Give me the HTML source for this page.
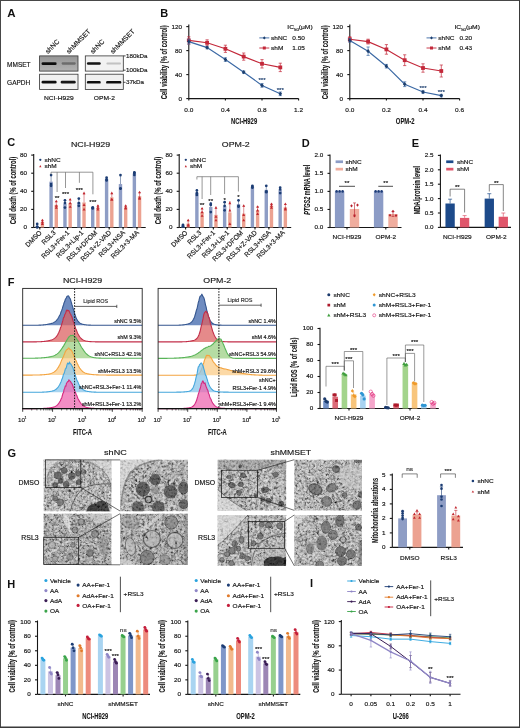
<!DOCTYPE html><html><head><meta charset="utf-8"><title>Figure</title><style>html,body{margin:0;padding:0;background:#fff;width:520px;height:728px;overflow:hidden;}svg{display:block;font-family:"Liberation Sans",sans-serif;will-change:transform;}</style></head><body><svg width="520" height="728" viewBox="0 0 520 728" font-family='"Liberation Sans", sans-serif'><defs><filter id="noise0" x="0" y="0" width="100%" height="100%"><feTurbulence type="fractalNoise" baseFrequency="0.42" numOctaves="3" seed="3"/><feColorMatrix type="matrix" values="1.35 1.35 1.35 0 -1.52 1.35 1.35 1.35 0 -1.52 1.35 1.35 1.35 0 -1.52 0 0 0 0 1"/></filter><filter id="noise1" x="0" y="0" width="100%" height="100%"><feTurbulence type="fractalNoise" baseFrequency="0.38" numOctaves="3" seed="11"/><feColorMatrix type="matrix" values="1.35 1.35 1.35 0 -1.52 1.35 1.35 1.35 0 -1.52 1.35 1.35 1.35 0 -1.52 0 0 0 0 1"/></filter><filter id="noise2" x="0" y="0" width="100%" height="100%"><feTurbulence type="fractalNoise" baseFrequency="0.46" numOctaves="3" seed="27"/><feColorMatrix type="matrix" values="1.35 1.35 1.35 0 -1.52 1.35 1.35 1.35 0 -1.52 1.35 1.35 1.35 0 -1.52 0 0 0 0 1"/></filter><filter id="blur" x="-20%" y="-50%" width="140%" height="200%"><feGaussianBlur stdDeviation="0.45"/></filter></defs><rect x="0.00" y="0.00" width="520.00" height="728.00" fill="#ffffff" stroke="none" stroke-width="0"/>
<text x="7.30" y="17.40" font-size="11.5" text-anchor="start" font-weight="bold" fill="#111">A</text>
<text x="0.00" y="0.00" font-size="6.7" text-anchor="start" font-weight="normal" fill="#161616" stroke="#161616" stroke-width="0.16" transform="translate(48.00,54.00) rotate(-45)">shNC</text>
<text x="0.00" y="0.00" font-size="6.7" text-anchor="start" font-weight="normal" fill="#161616" stroke="#161616" stroke-width="0.16" transform="translate(68.90,54.00) rotate(-45)">shMMSET</text>
<text x="0.00" y="0.00" font-size="6.7" text-anchor="start" font-weight="normal" fill="#161616" stroke="#161616" stroke-width="0.16" transform="translate(93.00,54.00) rotate(-45)">shNC</text>
<text x="0.00" y="0.00" font-size="6.7" text-anchor="start" font-weight="normal" fill="#161616" stroke="#161616" stroke-width="0.16" transform="translate(113.00,54.00) rotate(-45)">shMMSET</text>
<text x="7.10" y="66.60" font-size="6.5" text-anchor="start" font-weight="normal" fill="#161616" stroke="#161616" stroke-width="0.16">MMSET</text>
<text x="7.10" y="84.80" font-size="6.5" text-anchor="start" font-weight="normal" fill="#161616" stroke="#161616" stroke-width="0.16">GAPDH</text>
<linearGradient id="gA" x1="0" y1="0" x2="0" y2="1"><stop offset="0" stop-color="#959595"/><stop offset="1" stop-color="#b2b2b2"/></linearGradient>
<rect x="39.60" y="55.90" width="38.40" height="15.20" fill="url(#gA)" stroke="#333" stroke-width="0.8"/>
<rect x="41.60" y="62.20" width="15.00" height="2.80" fill="#0e0e0e" stroke="none" stroke-width="0" rx="1.2" filter="url(#blur)"/>
<rect x="61.60" y="62.30" width="14.20" height="2.40" fill="#6c6c6c" stroke="none" stroke-width="0" rx="1.1" filter="url(#blur)"/>
<rect x="39.60" y="74.20" width="38.40" height="15.20" fill="#f0f0f0" stroke="#333" stroke-width="0.8"/>
<rect x="41.60" y="80.80" width="15.00" height="2.60" fill="#111" stroke="none" stroke-width="0" rx="1.2" filter="url(#blur)"/>
<rect x="60.70" y="80.80" width="15.00" height="2.60" fill="#141414" stroke="none" stroke-width="0" rx="1.2" filter="url(#blur)"/>
<rect x="85.30" y="55.90" width="38.00" height="15.20" fill="#f2f2f2" stroke="#333" stroke-width="0.8"/>
<rect x="86.90" y="62.20" width="13.80" height="2.60" fill="#151515" stroke="none" stroke-width="0" rx="1.2" filter="url(#blur)"/>
<rect x="106.40" y="62.40" width="14.60" height="2.20" fill="#c2c2c2" stroke="none" stroke-width="0" rx="1" filter="url(#blur)"/>
<rect x="85.30" y="74.20" width="38.00" height="15.20" fill="#f0f0f0" stroke="#333" stroke-width="0.8"/>
<rect x="86.90" y="81.00" width="13.80" height="2.60" fill="#111" stroke="none" stroke-width="0" rx="1.2" filter="url(#blur)"/>
<rect x="106.10" y="81.00" width="15.20" height="2.60" fill="#111" stroke="none" stroke-width="0" rx="1.2" filter="url(#blur)"/>
<line x1="123.30" y1="55.90" x2="125.60" y2="55.90" stroke="#222" stroke-width="0.8"/>
<text x="0.00" y="0.00" font-size="5.8" text-anchor="start" font-weight="normal" fill="#161616" stroke="#161616" stroke-width="0.16" transform="translate(126.00,58.00) scale(1.08,1)">180kDa</text>
<line x1="123.30" y1="70.20" x2="125.60" y2="70.20" stroke="#222" stroke-width="0.8"/>
<text x="0.00" y="0.00" font-size="5.8" text-anchor="start" font-weight="normal" fill="#161616" stroke="#161616" stroke-width="0.16" transform="translate(126.00,72.30) scale(1.08,1)">100kDa</text>
<line x1="123.30" y1="82.30" x2="125.60" y2="82.30" stroke="#222" stroke-width="0.8"/>
<text x="0.00" y="0.00" font-size="5.8" text-anchor="start" font-weight="normal" fill="#161616" stroke="#161616" stroke-width="0.16" transform="translate(126.00,84.40) scale(1.08,1)">37kDa</text>
<text x="0.00" y="0.00" font-size="5.8" text-anchor="middle" font-weight="normal" fill="#161616" stroke="#161616" stroke-width="0.16" transform="translate(58.80,100.40) scale(1.15,1)">NCI-H929</text>
<text x="0.00" y="0.00" font-size="5.8" text-anchor="middle" font-weight="normal" fill="#161616" stroke="#161616" stroke-width="0.16" transform="translate(104.30,100.40) scale(1.15,1)">OPM-2</text>
<text x="160.20" y="17.00" font-size="11.0" text-anchor="start" font-weight="bold" fill="#111">B</text>
<text transform="translate(166.60,62.30) rotate(-90)" font-size="8.6" font-weight="bold" text-anchor="middle" fill="#161616" stroke="#161616" stroke-width="0.1" textLength="74" lengthAdjust="spacingAndGlyphs">Cell viability (% of control)</text>
<line x1="188.80" y1="24.50" x2="188.80" y2="98.60" stroke="#151515" stroke-width="1.1"/>
<line x1="186.30" y1="98.60" x2="188.80" y2="98.60" stroke="#151515" stroke-width="1.1"/>
<text x="0.00" y="0.00" font-size="5.5" text-anchor="end" font-weight="normal" fill="#151515" stroke="#151515" stroke-width="0.16" transform="translate(182.00,100.58) scale(1.15,1)">0</text>
<line x1="186.30" y1="74.60" x2="188.80" y2="74.60" stroke="#151515" stroke-width="1.1"/>
<text x="0.00" y="0.00" font-size="5.5" text-anchor="end" font-weight="normal" fill="#151515" stroke="#151515" stroke-width="0.16" transform="translate(182.00,76.58) scale(1.15,1)">40</text>
<line x1="186.30" y1="50.60" x2="188.80" y2="50.60" stroke="#151515" stroke-width="1.1"/>
<text x="0.00" y="0.00" font-size="5.5" text-anchor="end" font-weight="normal" fill="#151515" stroke="#151515" stroke-width="0.16" transform="translate(182.00,52.58) scale(1.15,1)">80</text>
<line x1="186.30" y1="26.60" x2="188.80" y2="26.60" stroke="#151515" stroke-width="1.1"/>
<text x="0.00" y="0.00" font-size="5.5" text-anchor="end" font-weight="normal" fill="#151515" stroke="#151515" stroke-width="0.16" transform="translate(182.00,28.58) scale(1.15,1)">120</text>
<line x1="188.80" y1="98.60" x2="298.60" y2="98.60" stroke="#151515" stroke-width="1.1"/>
<line x1="188.80" y1="98.60" x2="188.80" y2="100.60" stroke="#151515" stroke-width="1.1"/>
<line x1="225.40" y1="98.60" x2="225.40" y2="100.60" stroke="#151515" stroke-width="1.1"/>
<line x1="262.00" y1="98.60" x2="262.00" y2="100.60" stroke="#151515" stroke-width="1.1"/>
<line x1="298.60" y1="98.60" x2="298.60" y2="100.60" stroke="#151515" stroke-width="1.1"/>
<text x="0.00" y="0.00" font-size="5.8" text-anchor="middle" font-weight="normal" fill="#161616" stroke="#161616" stroke-width="0.16" transform="translate(188.80,111.60) scale(1.12,1)">0.0</text>
<text x="0.00" y="0.00" font-size="5.8" text-anchor="middle" font-weight="normal" fill="#161616" stroke="#161616" stroke-width="0.16" transform="translate(225.40,111.60) scale(1.12,1)">0.4</text>
<text x="0.00" y="0.00" font-size="5.8" text-anchor="middle" font-weight="normal" fill="#161616" stroke="#161616" stroke-width="0.16" transform="translate(262.00,111.60) scale(1.12,1)">0.8</text>
<text x="0.00" y="0.00" font-size="5.8" text-anchor="middle" font-weight="normal" fill="#161616" stroke="#161616" stroke-width="0.16" transform="translate(298.60,111.60) scale(1.12,1)">1.2</text>
<text x="0.00" y="0.00" font-size="8.9" text-anchor="middle" font-weight="bold" fill="#161616" stroke="#161616" stroke-width="0.1" transform="translate(244.10,123.70) scale(0.66,1)">NCI-H929</text>
<polyline points="188.80,40.40 207.10,42.80 225.40,48.80 243.70,56.60 262.00,63.80 280.30,67.40" fill="none" stroke="#c3283a" stroke-width="1.15"/>
<line x1="188.80" y1="36.80" x2="188.80" y2="44.00" stroke="#c3283a" stroke-width="0.7"/>
<line x1="187.20" y1="36.80" x2="190.40" y2="36.80" stroke="#c3283a" stroke-width="0.7"/>
<line x1="187.20" y1="44.00" x2="190.40" y2="44.00" stroke="#c3283a" stroke-width="0.7"/>
<rect x="186.90" y="38.50" width="3.80" height="3.80" fill="#c3283a" stroke="none" stroke-width="0"/>
<line x1="207.10" y1="39.80" x2="207.10" y2="45.80" stroke="#c3283a" stroke-width="0.7"/>
<line x1="205.50" y1="39.80" x2="208.70" y2="39.80" stroke="#c3283a" stroke-width="0.7"/>
<line x1="205.50" y1="45.80" x2="208.70" y2="45.80" stroke="#c3283a" stroke-width="0.7"/>
<rect x="205.20" y="40.90" width="3.80" height="3.80" fill="#c3283a" stroke="none" stroke-width="0"/>
<line x1="225.40" y1="45.20" x2="225.40" y2="52.40" stroke="#c3283a" stroke-width="0.7"/>
<line x1="223.80" y1="45.20" x2="227.00" y2="45.20" stroke="#c3283a" stroke-width="0.7"/>
<line x1="223.80" y1="52.40" x2="227.00" y2="52.40" stroke="#c3283a" stroke-width="0.7"/>
<rect x="223.50" y="46.90" width="3.80" height="3.80" fill="#c3283a" stroke="none" stroke-width="0"/>
<line x1="243.70" y1="53.00" x2="243.70" y2="60.20" stroke="#c3283a" stroke-width="0.7"/>
<line x1="242.10" y1="53.00" x2="245.30" y2="53.00" stroke="#c3283a" stroke-width="0.7"/>
<line x1="242.10" y1="60.20" x2="245.30" y2="60.20" stroke="#c3283a" stroke-width="0.7"/>
<rect x="241.80" y="54.70" width="3.80" height="3.80" fill="#c3283a" stroke="none" stroke-width="0"/>
<line x1="262.00" y1="59.60" x2="262.00" y2="68.00" stroke="#c3283a" stroke-width="0.7"/>
<line x1="260.40" y1="59.60" x2="263.60" y2="59.60" stroke="#c3283a" stroke-width="0.7"/>
<line x1="260.40" y1="68.00" x2="263.60" y2="68.00" stroke="#c3283a" stroke-width="0.7"/>
<rect x="260.10" y="61.90" width="3.80" height="3.80" fill="#c3283a" stroke="none" stroke-width="0"/>
<line x1="280.30" y1="63.20" x2="280.30" y2="71.60" stroke="#c3283a" stroke-width="0.7"/>
<line x1="278.70" y1="63.20" x2="281.90" y2="63.20" stroke="#c3283a" stroke-width="0.7"/>
<line x1="278.70" y1="71.60" x2="281.90" y2="71.60" stroke="#c3283a" stroke-width="0.7"/>
<rect x="278.40" y="65.50" width="3.80" height="3.80" fill="#c3283a" stroke="none" stroke-width="0"/>
<polyline points="188.80,41.60 207.10,47.60 225.40,59.60 243.70,72.20 262.00,85.40 280.30,93.80" fill="none" stroke="#3a68a4" stroke-width="1.15"/>
<line x1="188.80" y1="39.20" x2="188.80" y2="44.00" stroke="#3a68a4" stroke-width="0.7"/>
<line x1="187.20" y1="39.20" x2="190.40" y2="39.20" stroke="#3a68a4" stroke-width="0.7"/>
<line x1="187.20" y1="44.00" x2="190.40" y2="44.00" stroke="#3a68a4" stroke-width="0.7"/>
<path d="M188.80,39.44 L190.60,41.60 L188.80,43.76 L187.00,41.60 Z" fill="#1d3f6e" stroke="none" stroke-width="0"/>
<line x1="207.10" y1="46.40" x2="207.10" y2="48.80" stroke="#3a68a4" stroke-width="0.7"/>
<line x1="205.50" y1="46.40" x2="208.70" y2="46.40" stroke="#3a68a4" stroke-width="0.7"/>
<line x1="205.50" y1="48.80" x2="208.70" y2="48.80" stroke="#3a68a4" stroke-width="0.7"/>
<path d="M207.10,45.44 L208.90,47.60 L207.10,49.76 L205.30,47.60 Z" fill="#1d3f6e" stroke="none" stroke-width="0"/>
<line x1="225.40" y1="57.80" x2="225.40" y2="61.40" stroke="#3a68a4" stroke-width="0.7"/>
<line x1="223.80" y1="57.80" x2="227.00" y2="57.80" stroke="#3a68a4" stroke-width="0.7"/>
<line x1="223.80" y1="61.40" x2="227.00" y2="61.40" stroke="#3a68a4" stroke-width="0.7"/>
<path d="M225.40,57.44 L227.20,59.60 L225.40,61.76 L223.60,59.60 Z" fill="#1d3f6e" stroke="none" stroke-width="0"/>
<line x1="243.70" y1="71.00" x2="243.70" y2="73.40" stroke="#3a68a4" stroke-width="0.7"/>
<line x1="242.10" y1="71.00" x2="245.30" y2="71.00" stroke="#3a68a4" stroke-width="0.7"/>
<line x1="242.10" y1="73.40" x2="245.30" y2="73.40" stroke="#3a68a4" stroke-width="0.7"/>
<path d="M243.70,70.04 L245.50,72.20 L243.70,74.36 L241.90,72.20 Z" fill="#1d3f6e" stroke="none" stroke-width="0"/>
<line x1="262.00" y1="83.60" x2="262.00" y2="87.20" stroke="#3a68a4" stroke-width="0.7"/>
<line x1="260.40" y1="83.60" x2="263.60" y2="83.60" stroke="#3a68a4" stroke-width="0.7"/>
<line x1="260.40" y1="87.20" x2="263.60" y2="87.20" stroke="#3a68a4" stroke-width="0.7"/>
<path d="M262.00,83.24 L263.80,85.40 L262.00,87.56 L260.20,85.40 Z" fill="#1d3f6e" stroke="none" stroke-width="0"/>
<line x1="280.30" y1="92.00" x2="280.30" y2="95.60" stroke="#3a68a4" stroke-width="0.7"/>
<line x1="278.70" y1="92.00" x2="281.90" y2="92.00" stroke="#3a68a4" stroke-width="0.7"/>
<line x1="278.70" y1="95.60" x2="281.90" y2="95.60" stroke="#3a68a4" stroke-width="0.7"/>
<path d="M280.30,91.64 L282.10,93.80 L280.30,95.96 L278.50,93.80 Z" fill="#1d3f6e" stroke="none" stroke-width="0"/>
<text x="262.00" y="82.16" font-size="6.2" text-anchor="middle" font-weight="normal" fill="#1d3f6e" stroke="#1d3f6e" stroke-width="0.16">***</text>
<text x="280.30" y="92.46" font-size="6.2" text-anchor="middle" font-weight="normal" fill="#1d3f6e" stroke="#1d3f6e" stroke-width="0.16">***</text>
<text x="0.00" y="0.00" font-size="6.0" text-anchor="start" font-weight="normal" fill="#161616" stroke="#161616" stroke-width="0.16" transform="translate(287.30,29.30) scale(1.12,1)">IC<tspan font-size="3.8" dy="1.3">50</tspan><tspan dy="-1.3">(μM)</tspan></text>
<line x1="259.30" y1="37.90" x2="269.30" y2="37.90" stroke="#3a68a4" stroke-width="0.9"/>
<path d="M264.30,36.22 L265.70,37.90 L264.30,39.58 L262.90,37.90 Z" fill="#1d3f6e" stroke="none" stroke-width="0"/>
<text x="0.00" y="0.00" font-size="5.8" text-anchor="start" font-weight="normal" fill="#161616" stroke="#161616" stroke-width="0.16" transform="translate(271.10,40.00) scale(1.12,1)">shNC</text>
<text x="0.00" y="0.00" font-size="5.8" text-anchor="start" font-weight="normal" fill="#161616" stroke="#161616" stroke-width="0.16" transform="translate(292.30,40.00) scale(1.12,1)">0.50</text>
<line x1="259.30" y1="48.00" x2="269.30" y2="48.00" stroke="#c3283a" stroke-width="0.9"/>
<rect x="262.80" y="46.50" width="3.00" height="3.00" fill="#c3283a" stroke="none" stroke-width="0"/>
<text x="0.00" y="0.00" font-size="5.8" text-anchor="start" font-weight="normal" fill="#161616" stroke="#161616" stroke-width="0.16" transform="translate(271.10,50.10) scale(1.12,1)">shM</text>
<text x="0.00" y="0.00" font-size="5.8" text-anchor="start" font-weight="normal" fill="#161616" stroke="#161616" stroke-width="0.16" transform="translate(292.30,50.10) scale(1.12,1)">1.05</text>
<text transform="translate(327.60,62.30) rotate(-90)" font-size="8.6" font-weight="bold" text-anchor="middle" fill="#161616" stroke="#161616" stroke-width="0.1" textLength="74" lengthAdjust="spacingAndGlyphs">Cell viability (% of control)</text>
<line x1="349.80" y1="24.50" x2="349.80" y2="98.60" stroke="#151515" stroke-width="1.1"/>
<line x1="347.30" y1="98.60" x2="349.80" y2="98.60" stroke="#151515" stroke-width="1.1"/>
<text x="0.00" y="0.00" font-size="5.5" text-anchor="end" font-weight="normal" fill="#151515" stroke="#151515" stroke-width="0.16" transform="translate(343.00,100.58) scale(1.15,1)">0</text>
<line x1="347.30" y1="74.60" x2="349.80" y2="74.60" stroke="#151515" stroke-width="1.1"/>
<text x="0.00" y="0.00" font-size="5.5" text-anchor="end" font-weight="normal" fill="#151515" stroke="#151515" stroke-width="0.16" transform="translate(343.00,76.58) scale(1.15,1)">40</text>
<line x1="347.30" y1="50.60" x2="349.80" y2="50.60" stroke="#151515" stroke-width="1.1"/>
<text x="0.00" y="0.00" font-size="5.5" text-anchor="end" font-weight="normal" fill="#151515" stroke="#151515" stroke-width="0.16" transform="translate(343.00,52.58) scale(1.15,1)">80</text>
<line x1="347.30" y1="26.60" x2="349.80" y2="26.60" stroke="#151515" stroke-width="1.1"/>
<text x="0.00" y="0.00" font-size="5.5" text-anchor="end" font-weight="normal" fill="#151515" stroke="#151515" stroke-width="0.16" transform="translate(343.00,28.58) scale(1.15,1)">120</text>
<line x1="349.80" y1="98.60" x2="459.60" y2="98.60" stroke="#151515" stroke-width="1.1"/>
<line x1="349.80" y1="98.60" x2="349.80" y2="100.60" stroke="#151515" stroke-width="1.1"/>
<line x1="386.40" y1="98.60" x2="386.40" y2="100.60" stroke="#151515" stroke-width="1.1"/>
<line x1="423.00" y1="98.60" x2="423.00" y2="100.60" stroke="#151515" stroke-width="1.1"/>
<line x1="459.60" y1="98.60" x2="459.60" y2="100.60" stroke="#151515" stroke-width="1.1"/>
<text x="0.00" y="0.00" font-size="5.8" text-anchor="middle" font-weight="normal" fill="#161616" stroke="#161616" stroke-width="0.16" transform="translate(349.80,111.60) scale(1.12,1)">0.0</text>
<text x="0.00" y="0.00" font-size="5.8" text-anchor="middle" font-weight="normal" fill="#161616" stroke="#161616" stroke-width="0.16" transform="translate(386.40,111.60) scale(1.12,1)">0.2</text>
<text x="0.00" y="0.00" font-size="5.8" text-anchor="middle" font-weight="normal" fill="#161616" stroke="#161616" stroke-width="0.16" transform="translate(423.00,111.60) scale(1.12,1)">0.4</text>
<text x="0.00" y="0.00" font-size="5.8" text-anchor="middle" font-weight="normal" fill="#161616" stroke="#161616" stroke-width="0.16" transform="translate(459.60,111.60) scale(1.12,1)">0.6</text>
<text x="0.00" y="0.00" font-size="8.9" text-anchor="middle" font-weight="bold" fill="#161616" stroke="#161616" stroke-width="0.1" transform="translate(405.10,123.70) scale(0.66,1)">OPM-2</text>
<polyline points="349.80,39.20 368.10,41.60 386.40,49.40 404.70,60.20 423.00,68.00 441.30,71.00" fill="none" stroke="#c3283a" stroke-width="1.15"/>
<line x1="349.80" y1="36.80" x2="349.80" y2="41.60" stroke="#c3283a" stroke-width="0.7"/>
<line x1="348.20" y1="36.80" x2="351.40" y2="36.80" stroke="#c3283a" stroke-width="0.7"/>
<line x1="348.20" y1="41.60" x2="351.40" y2="41.60" stroke="#c3283a" stroke-width="0.7"/>
<rect x="347.90" y="37.30" width="3.80" height="3.80" fill="#c3283a" stroke="none" stroke-width="0"/>
<line x1="368.10" y1="39.20" x2="368.10" y2="44.00" stroke="#c3283a" stroke-width="0.7"/>
<line x1="366.50" y1="39.20" x2="369.70" y2="39.20" stroke="#c3283a" stroke-width="0.7"/>
<line x1="366.50" y1="44.00" x2="369.70" y2="44.00" stroke="#c3283a" stroke-width="0.7"/>
<rect x="366.20" y="39.70" width="3.80" height="3.80" fill="#c3283a" stroke="none" stroke-width="0"/>
<line x1="386.40" y1="44.60" x2="386.40" y2="54.20" stroke="#c3283a" stroke-width="0.7"/>
<line x1="384.80" y1="44.60" x2="388.00" y2="44.60" stroke="#c3283a" stroke-width="0.7"/>
<line x1="384.80" y1="54.20" x2="388.00" y2="54.20" stroke="#c3283a" stroke-width="0.7"/>
<rect x="384.50" y="47.50" width="3.80" height="3.80" fill="#c3283a" stroke="none" stroke-width="0"/>
<line x1="404.70" y1="54.80" x2="404.70" y2="65.60" stroke="#c3283a" stroke-width="0.7"/>
<line x1="403.10" y1="54.80" x2="406.30" y2="54.80" stroke="#c3283a" stroke-width="0.7"/>
<line x1="403.10" y1="65.60" x2="406.30" y2="65.60" stroke="#c3283a" stroke-width="0.7"/>
<rect x="402.80" y="58.30" width="3.80" height="3.80" fill="#c3283a" stroke="none" stroke-width="0"/>
<line x1="423.00" y1="63.80" x2="423.00" y2="72.20" stroke="#c3283a" stroke-width="0.7"/>
<line x1="421.40" y1="63.80" x2="424.60" y2="63.80" stroke="#c3283a" stroke-width="0.7"/>
<line x1="421.40" y1="72.20" x2="424.60" y2="72.20" stroke="#c3283a" stroke-width="0.7"/>
<rect x="421.10" y="66.10" width="3.80" height="3.80" fill="#c3283a" stroke="none" stroke-width="0"/>
<line x1="441.30" y1="65.00" x2="441.30" y2="77.00" stroke="#c3283a" stroke-width="0.7"/>
<line x1="439.70" y1="65.00" x2="442.90" y2="65.00" stroke="#c3283a" stroke-width="0.7"/>
<line x1="439.70" y1="77.00" x2="442.90" y2="77.00" stroke="#c3283a" stroke-width="0.7"/>
<rect x="439.40" y="69.10" width="3.80" height="3.80" fill="#c3283a" stroke="none" stroke-width="0"/>
<polyline points="349.80,40.40 368.10,51.20 386.40,66.20 404.70,84.20 423.00,92.00 441.30,95.60" fill="none" stroke="#3a68a4" stroke-width="1.15"/>
<line x1="349.80" y1="38.60" x2="349.80" y2="42.20" stroke="#3a68a4" stroke-width="0.7"/>
<line x1="348.20" y1="38.60" x2="351.40" y2="38.60" stroke="#3a68a4" stroke-width="0.7"/>
<line x1="348.20" y1="42.20" x2="351.40" y2="42.20" stroke="#3a68a4" stroke-width="0.7"/>
<path d="M349.80,38.24 L351.60,40.40 L349.80,42.56 L348.00,40.40 Z" fill="#1d3f6e" stroke="none" stroke-width="0"/>
<line x1="368.10" y1="47.00" x2="368.10" y2="55.40" stroke="#3a68a4" stroke-width="0.7"/>
<line x1="366.50" y1="47.00" x2="369.70" y2="47.00" stroke="#3a68a4" stroke-width="0.7"/>
<line x1="366.50" y1="55.40" x2="369.70" y2="55.40" stroke="#3a68a4" stroke-width="0.7"/>
<path d="M368.10,49.04 L369.90,51.20 L368.10,53.36 L366.30,51.20 Z" fill="#1d3f6e" stroke="none" stroke-width="0"/>
<line x1="386.40" y1="64.40" x2="386.40" y2="68.00" stroke="#3a68a4" stroke-width="0.7"/>
<line x1="384.80" y1="64.40" x2="388.00" y2="64.40" stroke="#3a68a4" stroke-width="0.7"/>
<line x1="384.80" y1="68.00" x2="388.00" y2="68.00" stroke="#3a68a4" stroke-width="0.7"/>
<path d="M386.40,64.04 L388.20,66.20 L386.40,68.36 L384.60,66.20 Z" fill="#1d3f6e" stroke="none" stroke-width="0"/>
<line x1="404.70" y1="81.80" x2="404.70" y2="86.60" stroke="#3a68a4" stroke-width="0.7"/>
<line x1="403.10" y1="81.80" x2="406.30" y2="81.80" stroke="#3a68a4" stroke-width="0.7"/>
<line x1="403.10" y1="86.60" x2="406.30" y2="86.60" stroke="#3a68a4" stroke-width="0.7"/>
<path d="M404.70,82.04 L406.50,84.20 L404.70,86.36 L402.90,84.20 Z" fill="#1d3f6e" stroke="none" stroke-width="0"/>
<line x1="423.00" y1="90.80" x2="423.00" y2="93.20" stroke="#3a68a4" stroke-width="0.7"/>
<line x1="421.40" y1="90.80" x2="424.60" y2="90.80" stroke="#3a68a4" stroke-width="0.7"/>
<line x1="421.40" y1="93.20" x2="424.60" y2="93.20" stroke="#3a68a4" stroke-width="0.7"/>
<path d="M423.00,89.84 L424.80,92.00 L423.00,94.16 L421.20,92.00 Z" fill="#1d3f6e" stroke="none" stroke-width="0"/>
<line x1="441.30" y1="94.40" x2="441.30" y2="96.80" stroke="#3a68a4" stroke-width="0.7"/>
<line x1="439.70" y1="94.40" x2="442.90" y2="94.40" stroke="#3a68a4" stroke-width="0.7"/>
<line x1="439.70" y1="96.80" x2="442.90" y2="96.80" stroke="#3a68a4" stroke-width="0.7"/>
<path d="M441.30,93.44 L443.10,95.60 L441.30,97.76 L439.50,95.60 Z" fill="#1d3f6e" stroke="none" stroke-width="0"/>
<text x="423.00" y="90.16" font-size="6.2" text-anchor="middle" font-weight="normal" fill="#1d3f6e" stroke="#1d3f6e" stroke-width="0.16">***</text>
<text x="441.30" y="94.36" font-size="6.2" text-anchor="middle" font-weight="normal" fill="#1d3f6e" stroke="#1d3f6e" stroke-width="0.16">***</text>
<text x="0.00" y="0.00" font-size="6.0" text-anchor="start" font-weight="normal" fill="#161616" stroke="#161616" stroke-width="0.16" transform="translate(454.50,29.30) scale(1.12,1)">IC<tspan font-size="3.8" dy="1.3">50</tspan><tspan dy="-1.3">(μM)</tspan></text>
<line x1="426.50" y1="37.90" x2="436.50" y2="37.90" stroke="#3a68a4" stroke-width="0.9"/>
<path d="M431.50,36.22 L432.90,37.90 L431.50,39.58 L430.10,37.90 Z" fill="#1d3f6e" stroke="none" stroke-width="0"/>
<text x="0.00" y="0.00" font-size="5.8" text-anchor="start" font-weight="normal" fill="#161616" stroke="#161616" stroke-width="0.16" transform="translate(438.30,40.00) scale(1.12,1)">shNC</text>
<text x="0.00" y="0.00" font-size="5.8" text-anchor="start" font-weight="normal" fill="#161616" stroke="#161616" stroke-width="0.16" transform="translate(459.50,40.00) scale(1.12,1)">0.20</text>
<line x1="426.50" y1="48.00" x2="436.50" y2="48.00" stroke="#c3283a" stroke-width="0.9"/>
<rect x="430.00" y="46.50" width="3.00" height="3.00" fill="#c3283a" stroke="none" stroke-width="0"/>
<text x="0.00" y="0.00" font-size="5.8" text-anchor="start" font-weight="normal" fill="#161616" stroke="#161616" stroke-width="0.16" transform="translate(438.30,50.10) scale(1.12,1)">shM</text>
<text x="0.00" y="0.00" font-size="5.8" text-anchor="start" font-weight="normal" fill="#161616" stroke="#161616" stroke-width="0.16" transform="translate(459.50,50.10) scale(1.12,1)">0.43</text>
<text x="7.30" y="145.60" font-size="11.0" text-anchor="start" font-weight="bold" fill="#111">C</text>
<text x="0.00" y="0.00" font-size="8.1" text-anchor="middle" font-weight="normal" fill="#161616" stroke="#161616" stroke-width="0.16" transform="translate(90.50,146.60) scale(1.09,1)">NCI-H929</text>
<text transform="translate(15.60,190.50) rotate(-90)" font-size="8.6" font-weight="bold" text-anchor="middle" fill="#161616" stroke="#161616" stroke-width="0.1" textLength="67.5" lengthAdjust="spacingAndGlyphs">Cell death (% of control)</text>
<line x1="33.70" y1="154.00" x2="33.70" y2="227.50" stroke="#151515" stroke-width="1.1"/>
<line x1="31.20" y1="227.50" x2="33.70" y2="227.50" stroke="#151515" stroke-width="1.1"/>
<text x="0.00" y="0.00" font-size="5.5" text-anchor="end" font-weight="normal" fill="#151515" stroke="#151515" stroke-width="0.16" transform="translate(26.90,229.48) scale(1.15,1)">0</text>
<line x1="31.20" y1="209.40" x2="33.70" y2="209.40" stroke="#151515" stroke-width="1.1"/>
<text x="0.00" y="0.00" font-size="5.5" text-anchor="end" font-weight="normal" fill="#151515" stroke="#151515" stroke-width="0.16" transform="translate(26.90,211.38) scale(1.15,1)">20</text>
<line x1="31.20" y1="191.30" x2="33.70" y2="191.30" stroke="#151515" stroke-width="1.1"/>
<text x="0.00" y="0.00" font-size="5.5" text-anchor="end" font-weight="normal" fill="#151515" stroke="#151515" stroke-width="0.16" transform="translate(26.90,193.28) scale(1.15,1)">40</text>
<line x1="31.20" y1="173.20" x2="33.70" y2="173.20" stroke="#151515" stroke-width="1.1"/>
<text x="0.00" y="0.00" font-size="5.5" text-anchor="end" font-weight="normal" fill="#151515" stroke="#151515" stroke-width="0.16" transform="translate(26.90,175.18) scale(1.15,1)">60</text>
<line x1="31.20" y1="155.10" x2="33.70" y2="155.10" stroke="#151515" stroke-width="1.1"/>
<text x="0.00" y="0.00" font-size="5.5" text-anchor="end" font-weight="normal" fill="#151515" stroke="#151515" stroke-width="0.16" transform="translate(26.90,157.08) scale(1.15,1)">80</text>
<line x1="33.70" y1="227.50" x2="145.70" y2="227.50" stroke="#151515" stroke-width="1.1"/>
<line x1="39.80" y1="227.50" x2="39.80" y2="229.50" stroke="#151515" stroke-width="1.1"/>
<line x1="53.68" y1="227.50" x2="53.68" y2="229.50" stroke="#151515" stroke-width="1.1"/>
<line x1="67.56" y1="227.50" x2="67.56" y2="229.50" stroke="#151515" stroke-width="1.1"/>
<line x1="81.44" y1="227.50" x2="81.44" y2="229.50" stroke="#151515" stroke-width="1.1"/>
<line x1="95.32" y1="227.50" x2="95.32" y2="229.50" stroke="#151515" stroke-width="1.1"/>
<line x1="109.20" y1="227.50" x2="109.20" y2="229.50" stroke="#151515" stroke-width="1.1"/>
<line x1="123.08" y1="227.50" x2="123.08" y2="229.50" stroke="#151515" stroke-width="1.1"/>
<line x1="136.96" y1="227.50" x2="136.96" y2="229.50" stroke="#151515" stroke-width="1.1"/>
<rect x="35.50" y="225.99" width="3.40" height="1.51" fill="#8e9dc5" stroke="none" stroke-width="0"/>
<line x1="37.20" y1="224.11" x2="37.20" y2="225.99" stroke="#1c3d74" stroke-width="0.5"/>
<line x1="36.30" y1="224.11" x2="38.10" y2="224.11" stroke="#1c3d74" stroke-width="0.5"/>
<circle cx="37.20" cy="227.50" r="1.35" fill="#1c3d74" stroke="none" stroke-width="0"/>
<circle cx="37.20" cy="226.59" r="1.35" fill="#1c3d74" stroke="none" stroke-width="0"/>
<circle cx="37.20" cy="223.88" r="1.35" fill="#1c3d74" stroke="none" stroke-width="0"/>
<rect x="40.70" y="222.07" width="3.40" height="5.43" fill="#eca291" stroke="none" stroke-width="0"/>
<line x1="42.40" y1="220.26" x2="42.40" y2="222.07" stroke="#c1272f" stroke-width="0.5"/>
<line x1="41.50" y1="220.26" x2="43.30" y2="220.26" stroke="#c1272f" stroke-width="0.5"/>
<path d="M42.40,218.71 L43.87,221.35 L40.93,221.35 Z" fill="#c1272f" stroke="none" stroke-width="0"/>
<path d="M42.40,220.52 L43.87,223.16 L40.93,223.16 Z" fill="#c1272f" stroke="none" stroke-width="0"/>
<path d="M42.40,222.33 L43.87,224.97 L40.93,224.97 Z" fill="#c1272f" stroke="none" stroke-width="0"/>
<text x="0.00" y="0.00" font-size="6.7" text-anchor="end" font-weight="normal" fill="#161616" stroke="#161616" stroke-width="0.16" transform="translate(42.20,233.20) rotate(-45)">DMSO</text>
<rect x="49.38" y="181.65" width="3.40" height="45.85" fill="#8e9dc5" stroke="none" stroke-width="0"/>
<line x1="51.08" y1="175.83" x2="51.08" y2="181.65" stroke="#1c3d74" stroke-width="0.5"/>
<line x1="50.18" y1="175.83" x2="51.98" y2="175.83" stroke="#1c3d74" stroke-width="0.5"/>
<circle cx="51.08" cy="175.01" r="1.35" fill="#1c3d74" stroke="none" stroke-width="0"/>
<circle cx="51.08" cy="184.06" r="1.35" fill="#1c3d74" stroke="none" stroke-width="0"/>
<circle cx="51.08" cy="185.87" r="1.35" fill="#1c3d74" stroke="none" stroke-width="0"/>
<rect x="54.58" y="204.88" width="3.40" height="22.62" fill="#eca291" stroke="none" stroke-width="0"/>
<line x1="56.28" y1="201.61" x2="56.28" y2="204.88" stroke="#c1272f" stroke-width="0.5"/>
<line x1="55.38" y1="201.61" x2="57.18" y2="201.61" stroke="#c1272f" stroke-width="0.5"/>
<path d="M56.28,199.70 L57.75,202.34 L54.81,202.34 Z" fill="#c1272f" stroke="none" stroke-width="0"/>
<path d="M56.28,204.23 L57.75,206.87 L54.81,206.87 Z" fill="#c1272f" stroke="none" stroke-width="0"/>
<path d="M56.28,206.04 L57.75,208.68 L54.81,208.68 Z" fill="#c1272f" stroke="none" stroke-width="0"/>
<text x="0.00" y="0.00" font-size="6.7" text-anchor="end" font-weight="normal" fill="#161616" stroke="#161616" stroke-width="0.16" transform="translate(56.08,233.20) rotate(-45)">RSL3</text>
<rect x="63.26" y="203.67" width="3.40" height="23.83" fill="#8e9dc5" stroke="none" stroke-width="0"/>
<line x1="64.96" y1="200.01" x2="64.96" y2="203.67" stroke="#1c3d74" stroke-width="0.5"/>
<line x1="64.06" y1="200.01" x2="65.86" y2="200.01" stroke="#1c3d74" stroke-width="0.5"/>
<circle cx="64.96" cy="200.35" r="1.35" fill="#1c3d74" stroke="none" stroke-width="0"/>
<circle cx="64.96" cy="207.59" r="1.35" fill="#1c3d74" stroke="none" stroke-width="0"/>
<circle cx="64.96" cy="203.06" r="1.35" fill="#1c3d74" stroke="none" stroke-width="0"/>
<rect x="68.46" y="203.06" width="3.40" height="24.44" fill="#eca291" stroke="none" stroke-width="0"/>
<line x1="70.16" y1="199.44" x2="70.16" y2="203.06" stroke="#c1272f" stroke-width="0.5"/>
<line x1="69.26" y1="199.44" x2="71.06" y2="199.44" stroke="#c1272f" stroke-width="0.5"/>
<path d="M70.16,197.89 L71.63,200.53 L68.69,200.53 Z" fill="#c1272f" stroke="none" stroke-width="0"/>
<path d="M70.16,205.13 L71.63,207.77 L68.69,207.77 Z" fill="#c1272f" stroke="none" stroke-width="0"/>
<path d="M70.16,201.51 L71.63,204.15 L68.69,204.15 Z" fill="#c1272f" stroke="none" stroke-width="0"/>
<text x="0.00" y="0.00" font-size="6.7" text-anchor="end" font-weight="normal" fill="#161616" stroke="#161616" stroke-width="0.16" transform="translate(69.96,233.20) rotate(-45)">RSL3+Fer-1</text>
<rect x="77.14" y="202.46" width="3.40" height="25.04" fill="#8e9dc5" stroke="none" stroke-width="0"/>
<line x1="78.84" y1="198.80" x2="78.84" y2="202.46" stroke="#1c3d74" stroke-width="0.5"/>
<line x1="77.94" y1="198.80" x2="79.74" y2="198.80" stroke="#1c3d74" stroke-width="0.5"/>
<circle cx="78.84" cy="198.54" r="1.35" fill="#1c3d74" stroke="none" stroke-width="0"/>
<circle cx="78.84" cy="205.78" r="1.35" fill="#1c3d74" stroke="none" stroke-width="0"/>
<circle cx="78.84" cy="203.06" r="1.35" fill="#1c3d74" stroke="none" stroke-width="0"/>
<rect x="82.34" y="202.46" width="3.40" height="25.04" fill="#eca291" stroke="none" stroke-width="0"/>
<line x1="84.04" y1="194.05" x2="84.04" y2="202.46" stroke="#c1272f" stroke-width="0.5"/>
<line x1="83.14" y1="194.05" x2="84.94" y2="194.05" stroke="#c1272f" stroke-width="0.5"/>
<path d="M84.04,191.56 L85.51,194.20 L82.57,194.20 Z" fill="#c1272f" stroke="none" stroke-width="0"/>
<path d="M84.04,203.32 L85.51,205.96 L82.57,205.96 Z" fill="#c1272f" stroke="none" stroke-width="0"/>
<path d="M84.04,207.85 L85.51,210.49 L82.57,210.49 Z" fill="#c1272f" stroke="none" stroke-width="0"/>
<text x="0.00" y="0.00" font-size="6.7" text-anchor="end" font-weight="normal" fill="#161616" stroke="#161616" stroke-width="0.16" transform="translate(83.84,233.20) rotate(-45)">RSL3+Lip-1</text>
<rect x="91.02" y="207.89" width="3.40" height="19.61" fill="#8e9dc5" stroke="none" stroke-width="0"/>
<line x1="92.72" y1="207.37" x2="92.72" y2="207.89" stroke="#1c3d74" stroke-width="0.5"/>
<line x1="91.82" y1="207.37" x2="93.62" y2="207.37" stroke="#1c3d74" stroke-width="0.5"/>
<circle cx="92.72" cy="207.59" r="1.35" fill="#1c3d74" stroke="none" stroke-width="0"/>
<circle cx="92.72" cy="208.50" r="1.35" fill="#1c3d74" stroke="none" stroke-width="0"/>
<circle cx="92.72" cy="207.59" r="1.35" fill="#1c3d74" stroke="none" stroke-width="0"/>
<rect x="96.22" y="207.59" width="3.40" height="19.91" fill="#eca291" stroke="none" stroke-width="0"/>
<line x1="97.92" y1="205.78" x2="97.92" y2="207.59" stroke="#c1272f" stroke-width="0.5"/>
<line x1="97.02" y1="205.78" x2="98.82" y2="205.78" stroke="#c1272f" stroke-width="0.5"/>
<path d="M97.92,204.23 L99.39,206.87 L96.45,206.87 Z" fill="#c1272f" stroke="none" stroke-width="0"/>
<path d="M97.92,207.85 L99.39,210.49 L96.45,210.49 Z" fill="#c1272f" stroke="none" stroke-width="0"/>
<path d="M97.92,206.04 L99.39,208.68 L96.45,208.68 Z" fill="#c1272f" stroke="none" stroke-width="0"/>
<text x="0.00" y="0.00" font-size="6.7" text-anchor="end" font-weight="normal" fill="#161616" stroke="#161616" stroke-width="0.16" transform="translate(97.72,233.20) rotate(-45)">RSL3+DFOM</text>
<rect x="104.90" y="179.23" width="3.40" height="48.27" fill="#8e9dc5" stroke="none" stroke-width="0"/>
<line x1="106.60" y1="177.85" x2="106.60" y2="179.23" stroke="#1c3d74" stroke-width="0.5"/>
<line x1="105.70" y1="177.85" x2="107.50" y2="177.85" stroke="#1c3d74" stroke-width="0.5"/>
<circle cx="106.60" cy="177.72" r="1.35" fill="#1c3d74" stroke="none" stroke-width="0"/>
<circle cx="106.60" cy="179.53" r="1.35" fill="#1c3d74" stroke="none" stroke-width="0"/>
<circle cx="106.60" cy="180.44" r="1.35" fill="#1c3d74" stroke="none" stroke-width="0"/>
<rect x="110.10" y="197.33" width="3.40" height="30.17" fill="#eca291" stroke="none" stroke-width="0"/>
<line x1="111.80" y1="193.68" x2="111.80" y2="197.33" stroke="#c1272f" stroke-width="0.5"/>
<line x1="110.90" y1="193.68" x2="112.70" y2="193.68" stroke="#c1272f" stroke-width="0.5"/>
<path d="M111.80,191.56 L113.27,194.20 L110.33,194.20 Z" fill="#c1272f" stroke="none" stroke-width="0"/>
<path d="M111.80,197.89 L113.27,200.53 L110.33,200.53 Z" fill="#c1272f" stroke="none" stroke-width="0"/>
<path d="M111.80,197.89 L113.27,200.53 L110.33,200.53 Z" fill="#c1272f" stroke="none" stroke-width="0"/>
<text x="0.00" y="0.00" font-size="6.7" text-anchor="end" font-weight="normal" fill="#161616" stroke="#161616" stroke-width="0.16" transform="translate(111.60,233.20) rotate(-45)">RSL3+Z-VAD</text>
<rect x="118.78" y="184.06" width="3.40" height="43.44" fill="#8e9dc5" stroke="none" stroke-width="0"/>
<line x1="120.48" y1="176.22" x2="120.48" y2="184.06" stroke="#1c3d74" stroke-width="0.5"/>
<line x1="119.58" y1="176.22" x2="121.38" y2="176.22" stroke="#1c3d74" stroke-width="0.5"/>
<circle cx="120.48" cy="175.01" r="1.35" fill="#1c3d74" stroke="none" stroke-width="0"/>
<circle cx="120.48" cy="188.59" r="1.35" fill="#1c3d74" stroke="none" stroke-width="0"/>
<circle cx="120.48" cy="188.59" r="1.35" fill="#1c3d74" stroke="none" stroke-width="0"/>
<rect x="123.98" y="207.29" width="3.40" height="20.21" fill="#eca291" stroke="none" stroke-width="0"/>
<line x1="125.68" y1="205.91" x2="125.68" y2="207.29" stroke="#c1272f" stroke-width="0.5"/>
<line x1="124.78" y1="205.91" x2="126.58" y2="205.91" stroke="#c1272f" stroke-width="0.5"/>
<path d="M125.68,204.23 L127.15,206.87 L124.21,206.87 Z" fill="#c1272f" stroke="none" stroke-width="0"/>
<path d="M125.68,206.94 L127.15,209.58 L124.21,209.58 Z" fill="#c1272f" stroke="none" stroke-width="0"/>
<path d="M125.68,206.04 L127.15,208.68 L124.21,208.68 Z" fill="#c1272f" stroke="none" stroke-width="0"/>
<text x="0.00" y="0.00" font-size="6.7" text-anchor="end" font-weight="normal" fill="#161616" stroke="#161616" stroke-width="0.16" transform="translate(125.48,233.20) rotate(-45)">RSL3+NSA</text>
<rect x="132.66" y="173.50" width="3.40" height="54.00" fill="#8e9dc5" stroke="none" stroke-width="0"/>
<line x1="134.36" y1="172.12" x2="134.36" y2="173.50" stroke="#1c3d74" stroke-width="0.5"/>
<line x1="133.46" y1="172.12" x2="135.26" y2="172.12" stroke="#1c3d74" stroke-width="0.5"/>
<circle cx="134.36" cy="172.30" r="1.35" fill="#1c3d74" stroke="none" stroke-width="0"/>
<circle cx="134.36" cy="175.01" r="1.35" fill="#1c3d74" stroke="none" stroke-width="0"/>
<circle cx="134.36" cy="173.20" r="1.35" fill="#1c3d74" stroke="none" stroke-width="0"/>
<rect x="137.86" y="196.13" width="3.40" height="31.37" fill="#eca291" stroke="none" stroke-width="0"/>
<line x1="139.56" y1="192.70" x2="139.56" y2="196.13" stroke="#c1272f" stroke-width="0.5"/>
<line x1="138.66" y1="192.70" x2="140.46" y2="192.70" stroke="#c1272f" stroke-width="0.5"/>
<path d="M139.56,190.65 L141.03,193.29 L138.09,193.29 Z" fill="#c1272f" stroke="none" stroke-width="0"/>
<path d="M139.56,196.08 L141.03,198.72 L138.09,198.72 Z" fill="#c1272f" stroke="none" stroke-width="0"/>
<path d="M139.56,196.99 L141.03,199.63 L138.09,199.63 Z" fill="#c1272f" stroke="none" stroke-width="0"/>
<text x="0.00" y="0.00" font-size="6.7" text-anchor="end" font-weight="normal" fill="#161616" stroke="#161616" stroke-width="0.16" transform="translate(139.36,233.20) rotate(-45)">RSL3+3-MA</text>
<circle cx="40.30" cy="159.80" r="1.15" fill="#1c3d74" stroke="none" stroke-width="0"/>
<text x="0.00" y="0.00" font-size="5.8" text-anchor="start" font-weight="normal" fill="#161616" stroke="#161616" stroke-width="0.16" transform="translate(44.50,161.90) scale(1.12,1)">shNC</text>
<path d="M40.30,165.10 L41.44,167.14 L39.16,167.14 Z" fill="#c1272f" stroke="none" stroke-width="0"/>
<text x="0.00" y="0.00" font-size="5.8" text-anchor="start" font-weight="normal" fill="#161616" stroke="#161616" stroke-width="0.16" transform="translate(44.50,168.40) scale(1.12,1)">shM</text>
<text x="0.00" y="0.00" font-size="8.1" text-anchor="middle" font-weight="normal" fill="#161616" stroke="#161616" stroke-width="0.16" transform="translate(235.80,146.60) scale(1.09,1)">OPM-2</text>
<text transform="translate(161.10,190.50) rotate(-90)" font-size="8.6" font-weight="bold" text-anchor="middle" fill="#161616" stroke="#161616" stroke-width="0.1" textLength="67.5" lengthAdjust="spacingAndGlyphs">Cell death (% of control)</text>
<line x1="179.20" y1="154.00" x2="179.20" y2="227.50" stroke="#151515" stroke-width="1.1"/>
<line x1="176.70" y1="227.50" x2="179.20" y2="227.50" stroke="#151515" stroke-width="1.1"/>
<text x="0.00" y="0.00" font-size="5.5" text-anchor="end" font-weight="normal" fill="#151515" stroke="#151515" stroke-width="0.16" transform="translate(172.40,229.48) scale(1.15,1)">0</text>
<line x1="176.70" y1="209.40" x2="179.20" y2="209.40" stroke="#151515" stroke-width="1.1"/>
<text x="0.00" y="0.00" font-size="5.5" text-anchor="end" font-weight="normal" fill="#151515" stroke="#151515" stroke-width="0.16" transform="translate(172.40,211.38) scale(1.15,1)">20</text>
<line x1="176.70" y1="191.30" x2="179.20" y2="191.30" stroke="#151515" stroke-width="1.1"/>
<text x="0.00" y="0.00" font-size="5.5" text-anchor="end" font-weight="normal" fill="#151515" stroke="#151515" stroke-width="0.16" transform="translate(172.40,193.28) scale(1.15,1)">40</text>
<line x1="176.70" y1="173.20" x2="179.20" y2="173.20" stroke="#151515" stroke-width="1.1"/>
<text x="0.00" y="0.00" font-size="5.5" text-anchor="end" font-weight="normal" fill="#151515" stroke="#151515" stroke-width="0.16" transform="translate(172.40,175.18) scale(1.15,1)">60</text>
<line x1="176.70" y1="155.10" x2="179.20" y2="155.10" stroke="#151515" stroke-width="1.1"/>
<text x="0.00" y="0.00" font-size="5.5" text-anchor="end" font-weight="normal" fill="#151515" stroke="#151515" stroke-width="0.16" transform="translate(172.40,157.08) scale(1.15,1)">80</text>
<line x1="179.20" y1="227.50" x2="291.20" y2="227.50" stroke="#151515" stroke-width="1.1"/>
<line x1="185.60" y1="227.50" x2="185.60" y2="229.50" stroke="#151515" stroke-width="1.1"/>
<line x1="199.48" y1="227.50" x2="199.48" y2="229.50" stroke="#151515" stroke-width="1.1"/>
<line x1="213.36" y1="227.50" x2="213.36" y2="229.50" stroke="#151515" stroke-width="1.1"/>
<line x1="227.24" y1="227.50" x2="227.24" y2="229.50" stroke="#151515" stroke-width="1.1"/>
<line x1="241.12" y1="227.50" x2="241.12" y2="229.50" stroke="#151515" stroke-width="1.1"/>
<line x1="255.00" y1="227.50" x2="255.00" y2="229.50" stroke="#151515" stroke-width="1.1"/>
<line x1="268.88" y1="227.50" x2="268.88" y2="229.50" stroke="#151515" stroke-width="1.1"/>
<line x1="282.76" y1="227.50" x2="282.76" y2="229.50" stroke="#151515" stroke-width="1.1"/>
<rect x="181.30" y="225.69" width="3.40" height="1.81" fill="#8e9dc5" stroke="none" stroke-width="0"/>
<line x1="183.00" y1="224.78" x2="183.00" y2="225.69" stroke="#1c3d74" stroke-width="0.5"/>
<line x1="182.10" y1="224.78" x2="183.90" y2="224.78" stroke="#1c3d74" stroke-width="0.5"/>
<circle cx="183.00" cy="226.59" r="1.35" fill="#1c3d74" stroke="none" stroke-width="0"/>
<circle cx="183.00" cy="224.78" r="1.35" fill="#1c3d74" stroke="none" stroke-width="0"/>
<circle cx="183.00" cy="225.69" r="1.35" fill="#1c3d74" stroke="none" stroke-width="0"/>
<rect x="186.50" y="223.58" width="3.40" height="3.92" fill="#eca291" stroke="none" stroke-width="0"/>
<line x1="188.20" y1="220.67" x2="188.20" y2="223.58" stroke="#c1272f" stroke-width="0.5"/>
<line x1="187.30" y1="220.67" x2="189.10" y2="220.67" stroke="#c1272f" stroke-width="0.5"/>
<path d="M188.20,218.71 L189.67,221.35 L186.73,221.35 Z" fill="#c1272f" stroke="none" stroke-width="0"/>
<path d="M188.20,223.23 L189.67,225.87 L186.73,225.87 Z" fill="#c1272f" stroke="none" stroke-width="0"/>
<path d="M188.20,224.14 L189.67,226.78 L186.73,226.78 Z" fill="#c1272f" stroke="none" stroke-width="0"/>
<text x="0.00" y="0.00" font-size="6.7" text-anchor="end" font-weight="normal" fill="#161616" stroke="#161616" stroke-width="0.16" transform="translate(188.00,233.20) rotate(-45)">DMSO</text>
<rect x="195.18" y="192.81" width="3.40" height="34.69" fill="#8e9dc5" stroke="none" stroke-width="0"/>
<line x1="196.88" y1="190.53" x2="196.88" y2="192.81" stroke="#1c3d74" stroke-width="0.5"/>
<line x1="195.98" y1="190.53" x2="197.78" y2="190.53" stroke="#1c3d74" stroke-width="0.5"/>
<circle cx="196.88" cy="190.39" r="1.35" fill="#1c3d74" stroke="none" stroke-width="0"/>
<circle cx="196.88" cy="193.11" r="1.35" fill="#1c3d74" stroke="none" stroke-width="0"/>
<circle cx="196.88" cy="194.92" r="1.35" fill="#1c3d74" stroke="none" stroke-width="0"/>
<rect x="200.38" y="212.12" width="3.40" height="15.38" fill="#eca291" stroke="none" stroke-width="0"/>
<line x1="202.08" y1="208.50" x2="202.08" y2="212.12" stroke="#c1272f" stroke-width="0.5"/>
<line x1="201.18" y1="208.50" x2="202.98" y2="208.50" stroke="#c1272f" stroke-width="0.5"/>
<path d="M202.08,206.94 L203.55,209.58 L200.61,209.58 Z" fill="#c1272f" stroke="none" stroke-width="0"/>
<path d="M202.08,210.56 L203.55,213.20 L200.61,213.20 Z" fill="#c1272f" stroke="none" stroke-width="0"/>
<path d="M202.08,214.18 L203.55,216.82 L200.61,216.82 Z" fill="#c1272f" stroke="none" stroke-width="0"/>
<text x="0.00" y="0.00" font-size="6.7" text-anchor="end" font-weight="normal" fill="#161616" stroke="#161616" stroke-width="0.16" transform="translate(201.88,233.20) rotate(-45)">RSL3</text>
<rect x="209.06" y="206.99" width="3.40" height="20.51" fill="#8e9dc5" stroke="none" stroke-width="0"/>
<line x1="210.76" y1="202.52" x2="210.76" y2="206.99" stroke="#1c3d74" stroke-width="0.5"/>
<line x1="209.86" y1="202.52" x2="211.66" y2="202.52" stroke="#1c3d74" stroke-width="0.5"/>
<circle cx="210.76" cy="203.97" r="1.35" fill="#1c3d74" stroke="none" stroke-width="0"/>
<circle cx="210.76" cy="204.88" r="1.35" fill="#1c3d74" stroke="none" stroke-width="0"/>
<circle cx="210.76" cy="212.12" r="1.35" fill="#1c3d74" stroke="none" stroke-width="0"/>
<rect x="214.26" y="214.83" width="3.40" height="12.67" fill="#eca291" stroke="none" stroke-width="0"/>
<line x1="215.96" y1="208.30" x2="215.96" y2="214.83" stroke="#c1272f" stroke-width="0.5"/>
<line x1="215.06" y1="208.30" x2="216.86" y2="208.30" stroke="#c1272f" stroke-width="0.5"/>
<path d="M215.96,206.04 L217.43,208.68 L214.49,208.68 Z" fill="#c1272f" stroke="none" stroke-width="0"/>
<path d="M215.96,215.09 L217.43,217.73 L214.49,217.73 Z" fill="#c1272f" stroke="none" stroke-width="0"/>
<path d="M215.96,218.71 L217.43,221.35 L214.49,221.35 Z" fill="#c1272f" stroke="none" stroke-width="0"/>
<text x="0.00" y="0.00" font-size="6.7" text-anchor="end" font-weight="normal" fill="#161616" stroke="#161616" stroke-width="0.16" transform="translate(215.76,233.20) rotate(-45)">RSL3+Fer-1</text>
<rect x="222.94" y="206.08" width="3.40" height="21.42" fill="#8e9dc5" stroke="none" stroke-width="0"/>
<line x1="224.64" y1="202.00" x2="224.64" y2="206.08" stroke="#1c3d74" stroke-width="0.5"/>
<line x1="223.74" y1="202.00" x2="225.54" y2="202.00" stroke="#1c3d74" stroke-width="0.5"/>
<circle cx="224.64" cy="202.16" r="1.35" fill="#1c3d74" stroke="none" stroke-width="0"/>
<circle cx="224.64" cy="205.78" r="1.35" fill="#1c3d74" stroke="none" stroke-width="0"/>
<circle cx="224.64" cy="210.31" r="1.35" fill="#1c3d74" stroke="none" stroke-width="0"/>
<rect x="228.14" y="212.42" width="3.40" height="15.08" fill="#eca291" stroke="none" stroke-width="0"/>
<line x1="229.84" y1="201.85" x2="229.84" y2="212.42" stroke="#c1272f" stroke-width="0.5"/>
<line x1="228.94" y1="201.85" x2="230.74" y2="201.85" stroke="#c1272f" stroke-width="0.5"/>
<path d="M229.84,201.51 L231.31,204.15 L228.37,204.15 Z" fill="#c1272f" stroke="none" stroke-width="0"/>
<path d="M229.84,208.75 L231.31,211.39 L228.37,211.39 Z" fill="#c1272f" stroke="none" stroke-width="0"/>
<path d="M229.84,222.33 L231.31,224.97 L228.37,224.97 Z" fill="#c1272f" stroke="none" stroke-width="0"/>
<text x="0.00" y="0.00" font-size="6.7" text-anchor="end" font-weight="normal" fill="#161616" stroke="#161616" stroke-width="0.16" transform="translate(229.64,233.20) rotate(-45)">RSL3+Lip-1</text>
<rect x="236.82" y="204.27" width="3.40" height="23.23" fill="#8e9dc5" stroke="none" stroke-width="0"/>
<line x1="238.52" y1="200.85" x2="238.52" y2="204.27" stroke="#1c3d74" stroke-width="0.5"/>
<line x1="237.62" y1="200.85" x2="239.42" y2="200.85" stroke="#1c3d74" stroke-width="0.5"/>
<circle cx="238.52" cy="200.35" r="1.35" fill="#1c3d74" stroke="none" stroke-width="0"/>
<circle cx="238.52" cy="205.78" r="1.35" fill="#1c3d74" stroke="none" stroke-width="0"/>
<circle cx="238.52" cy="206.69" r="1.35" fill="#1c3d74" stroke="none" stroke-width="0"/>
<rect x="242.02" y="213.62" width="3.40" height="13.88" fill="#eca291" stroke="none" stroke-width="0"/>
<line x1="243.72" y1="206.31" x2="243.72" y2="213.62" stroke="#c1272f" stroke-width="0.5"/>
<line x1="242.82" y1="206.31" x2="244.62" y2="206.31" stroke="#c1272f" stroke-width="0.5"/>
<path d="M243.72,204.23 L245.19,206.87 L242.25,206.87 Z" fill="#c1272f" stroke="none" stroke-width="0"/>
<path d="M243.72,213.28 L245.19,215.92 L242.25,215.92 Z" fill="#c1272f" stroke="none" stroke-width="0"/>
<path d="M243.72,218.71 L245.19,221.35 L242.25,221.35 Z" fill="#c1272f" stroke="none" stroke-width="0"/>
<text x="0.00" y="0.00" font-size="6.7" text-anchor="end" font-weight="normal" fill="#161616" stroke="#161616" stroke-width="0.16" transform="translate(243.52,233.20) rotate(-45)">RSL3+DFOM</text>
<rect x="250.70" y="186.78" width="3.40" height="40.73" fill="#8e9dc5" stroke="none" stroke-width="0"/>
<line x1="252.40" y1="185.87" x2="252.40" y2="186.78" stroke="#1c3d74" stroke-width="0.5"/>
<line x1="251.50" y1="185.87" x2="253.30" y2="185.87" stroke="#1c3d74" stroke-width="0.5"/>
<circle cx="252.40" cy="185.87" r="1.35" fill="#1c3d74" stroke="none" stroke-width="0"/>
<circle cx="252.40" cy="186.78" r="1.35" fill="#1c3d74" stroke="none" stroke-width="0"/>
<circle cx="252.40" cy="187.68" r="1.35" fill="#1c3d74" stroke="none" stroke-width="0"/>
<rect x="255.90" y="210.31" width="3.40" height="17.20" fill="#eca291" stroke="none" stroke-width="0"/>
<line x1="257.60" y1="206.69" x2="257.60" y2="210.31" stroke="#c1272f" stroke-width="0.5"/>
<line x1="256.70" y1="206.69" x2="258.50" y2="206.69" stroke="#c1272f" stroke-width="0.5"/>
<path d="M257.60,205.13 L259.07,207.77 L256.13,207.77 Z" fill="#c1272f" stroke="none" stroke-width="0"/>
<path d="M257.60,208.75 L259.07,211.39 L256.13,211.39 Z" fill="#c1272f" stroke="none" stroke-width="0"/>
<path d="M257.60,212.37 L259.07,215.01 L256.13,215.01 Z" fill="#c1272f" stroke="none" stroke-width="0"/>
<text x="0.00" y="0.00" font-size="6.7" text-anchor="end" font-weight="normal" fill="#161616" stroke="#161616" stroke-width="0.16" transform="translate(257.40,233.20) rotate(-45)">RSL3+Z-VAD</text>
<rect x="264.58" y="189.79" width="3.40" height="37.71" fill="#8e9dc5" stroke="none" stroke-width="0"/>
<line x1="266.28" y1="186.37" x2="266.28" y2="189.79" stroke="#1c3d74" stroke-width="0.5"/>
<line x1="265.38" y1="186.37" x2="267.18" y2="186.37" stroke="#1c3d74" stroke-width="0.5"/>
<circle cx="266.28" cy="185.87" r="1.35" fill="#1c3d74" stroke="none" stroke-width="0"/>
<circle cx="266.28" cy="191.30" r="1.35" fill="#1c3d74" stroke="none" stroke-width="0"/>
<circle cx="266.28" cy="192.20" r="1.35" fill="#1c3d74" stroke="none" stroke-width="0"/>
<rect x="269.78" y="205.78" width="3.40" height="21.72" fill="#eca291" stroke="none" stroke-width="0"/>
<line x1="271.48" y1="203.97" x2="271.48" y2="205.78" stroke="#c1272f" stroke-width="0.5"/>
<line x1="270.58" y1="203.97" x2="272.38" y2="203.97" stroke="#c1272f" stroke-width="0.5"/>
<path d="M271.48,202.42 L272.95,205.06 L270.01,205.06 Z" fill="#c1272f" stroke="none" stroke-width="0"/>
<path d="M271.48,204.23 L272.95,206.87 L270.01,206.87 Z" fill="#c1272f" stroke="none" stroke-width="0"/>
<path d="M271.48,206.04 L272.95,208.68 L270.01,208.68 Z" fill="#c1272f" stroke="none" stroke-width="0"/>
<text x="0.00" y="0.00" font-size="6.7" text-anchor="end" font-weight="normal" fill="#161616" stroke="#161616" stroke-width="0.16" transform="translate(271.28,233.20) rotate(-45)">RSL3+NSA</text>
<rect x="278.46" y="190.09" width="3.40" height="37.41" fill="#8e9dc5" stroke="none" stroke-width="0"/>
<line x1="280.16" y1="187.33" x2="280.16" y2="190.09" stroke="#1c3d74" stroke-width="0.5"/>
<line x1="279.26" y1="187.33" x2="281.06" y2="187.33" stroke="#1c3d74" stroke-width="0.5"/>
<circle cx="280.16" cy="187.68" r="1.35" fill="#1c3d74" stroke="none" stroke-width="0"/>
<circle cx="280.16" cy="189.49" r="1.35" fill="#1c3d74" stroke="none" stroke-width="0"/>
<circle cx="280.16" cy="193.11" r="1.35" fill="#1c3d74" stroke="none" stroke-width="0"/>
<rect x="283.66" y="207.29" width="3.40" height="20.21" fill="#eca291" stroke="none" stroke-width="0"/>
<line x1="285.36" y1="204.38" x2="285.36" y2="207.29" stroke="#c1272f" stroke-width="0.5"/>
<line x1="284.46" y1="204.38" x2="286.26" y2="204.38" stroke="#c1272f" stroke-width="0.5"/>
<path d="M285.36,202.42 L286.83,205.06 L283.89,205.06 Z" fill="#c1272f" stroke="none" stroke-width="0"/>
<path d="M285.36,206.94 L286.83,209.58 L283.89,209.58 Z" fill="#c1272f" stroke="none" stroke-width="0"/>
<path d="M285.36,207.85 L286.83,210.49 L283.89,210.49 Z" fill="#c1272f" stroke="none" stroke-width="0"/>
<text x="0.00" y="0.00" font-size="6.7" text-anchor="end" font-weight="normal" fill="#161616" stroke="#161616" stroke-width="0.16" transform="translate(285.16,233.20) rotate(-45)">RSL3+3-MA</text>
<circle cx="185.80" cy="159.80" r="1.15" fill="#1c3d74" stroke="none" stroke-width="0"/>
<text x="0.00" y="0.00" font-size="5.8" text-anchor="start" font-weight="normal" fill="#161616" stroke="#161616" stroke-width="0.16" transform="translate(190.00,161.90) scale(1.12,1)">shNC</text>
<path d="M185.80,165.10 L186.94,167.14 L184.66,167.14 Z" fill="#c1272f" stroke="none" stroke-width="0"/>
<text x="0.00" y="0.00" font-size="5.8" text-anchor="start" font-weight="normal" fill="#161616" stroke="#161616" stroke-width="0.16" transform="translate(190.00,168.40) scale(1.12,1)">shM</text>
<line x1="51.00" y1="172.20" x2="92.90" y2="172.20" stroke="#6a6a6a" stroke-width="0.7"/>
<line x1="51.00" y1="172.20" x2="51.00" y2="174.60" stroke="#6a6a6a" stroke-width="0.7"/>
<line x1="57.10" y1="172.20" x2="57.10" y2="192.00" stroke="#6a6a6a" stroke-width="0.7"/>
<text x="57.10" y="200.36" font-size="6.2" text-anchor="middle" font-weight="normal" fill="#161616" stroke="#161616" stroke-width="0.16">**</text>
<line x1="65.50" y1="172.20" x2="65.50" y2="188.00" stroke="#6a6a6a" stroke-width="0.7"/>
<text x="65.50" y="196.16" font-size="6.2" text-anchor="middle" font-weight="normal" fill="#161616" stroke="#161616" stroke-width="0.16">***</text>
<line x1="79.40" y1="172.20" x2="79.40" y2="182.80" stroke="#6a6a6a" stroke-width="0.7"/>
<text x="79.40" y="191.66" font-size="6.2" text-anchor="middle" font-weight="normal" fill="#161616" stroke="#161616" stroke-width="0.16">***</text>
<line x1="92.90" y1="172.20" x2="92.90" y2="194.30" stroke="#6a6a6a" stroke-width="0.7"/>
<text x="92.90" y="203.66" font-size="6.2" text-anchor="middle" font-weight="normal" fill="#161616" stroke="#161616" stroke-width="0.16">***</text>
<line x1="196.90" y1="176.70" x2="238.40" y2="176.70" stroke="#6a6a6a" stroke-width="0.7"/>
<line x1="196.90" y1="176.70" x2="196.90" y2="179.50" stroke="#6a6a6a" stroke-width="0.7"/>
<line x1="202.10" y1="176.70" x2="202.10" y2="199.00" stroke="#6a6a6a" stroke-width="0.7"/>
<text x="202.10" y="207.26" font-size="6.2" text-anchor="middle" font-weight="normal" fill="#161616" stroke="#161616" stroke-width="0.16">**</text>
<line x1="210.70" y1="176.70" x2="210.70" y2="195.00" stroke="#6a6a6a" stroke-width="0.7"/>
<text x="210.70" y="202.86" font-size="6.2" text-anchor="middle" font-weight="normal" fill="#161616" stroke="#161616" stroke-width="0.16">**</text>
<line x1="224.60" y1="176.70" x2="224.60" y2="194.00" stroke="#6a6a6a" stroke-width="0.7"/>
<text x="224.60" y="202.36" font-size="6.2" text-anchor="middle" font-weight="normal" fill="#161616" stroke="#161616" stroke-width="0.16">*</text>
<line x1="238.40" y1="176.70" x2="238.40" y2="191.50" stroke="#6a6a6a" stroke-width="0.7"/>
<text x="238.40" y="199.46" font-size="6.2" text-anchor="middle" font-weight="normal" fill="#161616" stroke="#161616" stroke-width="0.16">*</text>
<text x="301.70" y="146.50" font-size="11.0" text-anchor="start" font-weight="bold" fill="#111">D</text>
<line x1="330.00" y1="154.50" x2="330.00" y2="227.50" stroke="#151515" stroke-width="1.1"/>
<line x1="327.50" y1="227.50" x2="330.00" y2="227.50" stroke="#151515" stroke-width="1.1"/>
<text x="0.00" y="0.00" font-size="5.5" text-anchor="end" font-weight="normal" fill="#151515" stroke="#151515" stroke-width="0.16" transform="translate(323.20,229.48) scale(1.15,1)">0.0</text>
<line x1="327.50" y1="209.45" x2="330.00" y2="209.45" stroke="#151515" stroke-width="1.1"/>
<text x="0.00" y="0.00" font-size="5.5" text-anchor="end" font-weight="normal" fill="#151515" stroke="#151515" stroke-width="0.16" transform="translate(323.20,211.43) scale(1.15,1)">0.5</text>
<line x1="327.50" y1="191.40" x2="330.00" y2="191.40" stroke="#151515" stroke-width="1.1"/>
<text x="0.00" y="0.00" font-size="5.5" text-anchor="end" font-weight="normal" fill="#151515" stroke="#151515" stroke-width="0.16" transform="translate(323.20,193.38) scale(1.15,1)">1.0</text>
<line x1="327.50" y1="173.35" x2="330.00" y2="173.35" stroke="#151515" stroke-width="1.1"/>
<text x="0.00" y="0.00" font-size="5.5" text-anchor="end" font-weight="normal" fill="#151515" stroke="#151515" stroke-width="0.16" transform="translate(323.20,175.33) scale(1.15,1)">1.5</text>
<line x1="327.50" y1="155.30" x2="330.00" y2="155.30" stroke="#151515" stroke-width="1.1"/>
<text x="0.00" y="0.00" font-size="5.5" text-anchor="end" font-weight="normal" fill="#151515" stroke="#151515" stroke-width="0.16" transform="translate(323.20,157.28) scale(1.15,1)">2.0</text>
<line x1="330.00" y1="227.50" x2="401.50" y2="227.50" stroke="#151515" stroke-width="1.1"/>
<line x1="347.00" y1="227.50" x2="347.00" y2="229.50" stroke="#151515" stroke-width="1.1"/>
<line x1="385.80" y1="227.50" x2="385.80" y2="229.50" stroke="#151515" stroke-width="1.1"/>
<text transform="translate(309.50,189.80) rotate(-90)" font-size="8.6" font-weight="bold" text-anchor="middle" fill="#161616" stroke="#161616" stroke-width="0.1" textLength="50" lengthAdjust="spacingAndGlyphs"><tspan font-style="italic">PTGS2</tspan> mRNA level</text>
<rect x="334.90" y="191.40" width="9.40" height="36.10" fill="#8c9cc6" stroke="none" stroke-width="0"/>
<circle cx="336.60" cy="191.40" r="1.30" fill="#1d3c78" stroke="none" stroke-width="0"/>
<circle cx="339.60" cy="191.40" r="1.30" fill="#1d3c78" stroke="none" stroke-width="0"/>
<circle cx="342.60" cy="191.40" r="1.30" fill="#1d3c78" stroke="none" stroke-width="0"/>
<rect x="349.80" y="208.97" width="9.40" height="18.53" fill="#f0ad9e" stroke="none" stroke-width="0"/>
<line x1="354.50" y1="202.91" x2="354.50" y2="215.02" stroke="#b8202c" stroke-width="0.6"/>
<line x1="353.00" y1="202.91" x2="356.00" y2="202.91" stroke="#b8202c" stroke-width="0.6"/>
<line x1="353.00" y1="215.02" x2="356.00" y2="215.02" stroke="#b8202c" stroke-width="0.6"/>
<path d="M351.50,204.28 L352.80,205.84 L351.50,207.40 L350.20,205.84 Z" fill="#b8202c" stroke="none" stroke-width="0"/>
<path d="M354.50,214.39 L355.80,215.95 L354.50,217.51 L353.20,215.95 Z" fill="#b8202c" stroke="none" stroke-width="0"/>
<path d="M357.50,203.56 L358.80,205.12 L357.50,206.68 L356.20,205.12 Z" fill="#b8202c" stroke="none" stroke-width="0"/>
<rect x="373.90" y="191.40" width="9.40" height="36.10" fill="#8c9cc6" stroke="none" stroke-width="0"/>
<circle cx="375.60" cy="191.40" r="1.30" fill="#1d3c78" stroke="none" stroke-width="0"/>
<circle cx="378.60" cy="191.40" r="1.30" fill="#1d3c78" stroke="none" stroke-width="0"/>
<circle cx="381.60" cy="191.40" r="1.30" fill="#1d3c78" stroke="none" stroke-width="0"/>
<rect x="388.30" y="214.02" width="9.40" height="13.48" fill="#f0ad9e" stroke="none" stroke-width="0"/>
<line x1="393.00" y1="211.62" x2="393.00" y2="216.43" stroke="#b8202c" stroke-width="0.6"/>
<line x1="391.50" y1="211.62" x2="394.50" y2="211.62" stroke="#b8202c" stroke-width="0.6"/>
<line x1="391.50" y1="216.43" x2="394.50" y2="216.43" stroke="#b8202c" stroke-width="0.6"/>
<path d="M390.00,213.67 L391.30,215.23 L390.00,216.79 L388.70,215.23 Z" fill="#b8202c" stroke="none" stroke-width="0"/>
<path d="M393.00,209.69 L394.30,211.25 L393.00,212.81 L391.70,211.25 Z" fill="#b8202c" stroke="none" stroke-width="0"/>
<path d="M396.00,214.03 L397.30,215.59 L396.00,217.15 L394.70,215.59 Z" fill="#b8202c" stroke="none" stroke-width="0"/>
<line x1="339.00" y1="186.30" x2="355.00" y2="186.30" stroke="#222" stroke-width="0.8"/>
<text x="347.00" y="185.26" font-size="6.2" text-anchor="middle" font-weight="normal" fill="#161616" stroke="#161616" stroke-width="0.16">**</text>
<line x1="378.30" y1="186.30" x2="393.00" y2="186.30" stroke="#222" stroke-width="0.8"/>
<text x="385.65" y="185.26" font-size="6.2" text-anchor="middle" font-weight="normal" fill="#161616" stroke="#161616" stroke-width="0.16">**</text>
<rect x="335.60" y="160.40" width="7.40" height="2.70" fill="#8c9cc6" stroke="none" stroke-width="0"/>
<text x="0.00" y="0.00" font-size="5.8" text-anchor="start" font-weight="normal" fill="#161616" stroke="#161616" stroke-width="0.16" transform="translate(345.50,163.90) scale(1.12,1)">shNC</text>
<rect x="335.60" y="167.80" width="7.40" height="2.70" fill="#f0ad9e" stroke="none" stroke-width="0"/>
<text x="0.00" y="0.00" font-size="5.8" text-anchor="start" font-weight="normal" fill="#161616" stroke="#161616" stroke-width="0.16" transform="translate(345.50,171.30) scale(1.12,1)">shM</text>
<text x="0.00" y="0.00" font-size="5.8" text-anchor="middle" font-weight="normal" fill="#161616" stroke="#161616" stroke-width="0.16" transform="translate(347.00,239.20) scale(1.12,1)">NCI-H929</text>
<text x="0.00" y="0.00" font-size="5.8" text-anchor="middle" font-weight="normal" fill="#161616" stroke="#161616" stroke-width="0.16" transform="translate(385.80,239.20) scale(1.12,1)">OPM-2</text>
<text x="411.70" y="146.50" font-size="11.0" text-anchor="start" font-weight="bold" fill="#111">E</text>
<line x1="440.40" y1="154.50" x2="440.40" y2="227.40" stroke="#151515" stroke-width="1.1"/>
<line x1="437.90" y1="227.40" x2="440.40" y2="227.40" stroke="#151515" stroke-width="1.1"/>
<text x="0.00" y="0.00" font-size="5.5" text-anchor="end" font-weight="normal" fill="#151515" stroke="#151515" stroke-width="0.16" transform="translate(433.60,229.38) scale(1.15,1)">0.0</text>
<line x1="437.90" y1="213.00" x2="440.40" y2="213.00" stroke="#151515" stroke-width="1.1"/>
<text x="0.00" y="0.00" font-size="5.5" text-anchor="end" font-weight="normal" fill="#151515" stroke="#151515" stroke-width="0.16" transform="translate(433.60,214.98) scale(1.15,1)">0.5</text>
<line x1="437.90" y1="198.60" x2="440.40" y2="198.60" stroke="#151515" stroke-width="1.1"/>
<text x="0.00" y="0.00" font-size="5.5" text-anchor="end" font-weight="normal" fill="#151515" stroke="#151515" stroke-width="0.16" transform="translate(433.60,200.58) scale(1.15,1)">1.0</text>
<line x1="437.90" y1="184.20" x2="440.40" y2="184.20" stroke="#151515" stroke-width="1.1"/>
<text x="0.00" y="0.00" font-size="5.5" text-anchor="end" font-weight="normal" fill="#151515" stroke="#151515" stroke-width="0.16" transform="translate(433.60,186.18) scale(1.15,1)">1.5</text>
<line x1="437.90" y1="169.80" x2="440.40" y2="169.80" stroke="#151515" stroke-width="1.1"/>
<text x="0.00" y="0.00" font-size="5.5" text-anchor="end" font-weight="normal" fill="#151515" stroke="#151515" stroke-width="0.16" transform="translate(433.60,171.78) scale(1.15,1)">2.0</text>
<line x1="437.90" y1="155.40" x2="440.40" y2="155.40" stroke="#151515" stroke-width="1.1"/>
<text x="0.00" y="0.00" font-size="5.5" text-anchor="end" font-weight="normal" fill="#151515" stroke="#151515" stroke-width="0.16" transform="translate(433.60,157.38) scale(1.15,1)">2.5</text>
<line x1="440.40" y1="227.40" x2="511.00" y2="227.40" stroke="#151515" stroke-width="1.1"/>
<line x1="457.30" y1="227.40" x2="457.30" y2="229.40" stroke="#151515" stroke-width="1.1"/>
<line x1="496.30" y1="227.40" x2="496.30" y2="229.40" stroke="#151515" stroke-width="1.1"/>
<text transform="translate(419.60,190.10) rotate(-90)" font-size="8.6" font-weight="bold" text-anchor="middle" fill="#161616" stroke="#161616" stroke-width="0.1" textLength="48.4" lengthAdjust="spacingAndGlyphs">MDA/protein level</text>
<rect x="445.45" y="203.50" width="9.30" height="23.90" fill="#1d4a8a" stroke="none" stroke-width="0"/>
<line x1="450.10" y1="199.18" x2="450.10" y2="203.50" stroke="#1d4a8a" stroke-width="0.7"/>
<line x1="448.10" y1="199.18" x2="452.10" y2="199.18" stroke="#1d4a8a" stroke-width="0.7"/>
<rect x="459.95" y="217.90" width="9.30" height="9.50" fill="#e0566b" stroke="none" stroke-width="0"/>
<line x1="464.60" y1="215.59" x2="464.60" y2="217.90" stroke="#e0566b" stroke-width="0.7"/>
<line x1="462.60" y1="215.59" x2="466.60" y2="215.59" stroke="#e0566b" stroke-width="0.7"/>
<rect x="484.65" y="198.60" width="9.30" height="28.80" fill="#1d4a8a" stroke="none" stroke-width="0"/>
<line x1="489.30" y1="193.70" x2="489.30" y2="198.60" stroke="#1d4a8a" stroke-width="0.7"/>
<line x1="487.30" y1="193.70" x2="491.30" y2="193.70" stroke="#1d4a8a" stroke-width="0.7"/>
<rect x="498.65" y="216.74" width="9.30" height="10.66" fill="#e0566b" stroke="none" stroke-width="0"/>
<line x1="503.30" y1="213.00" x2="503.30" y2="216.74" stroke="#e0566b" stroke-width="0.7"/>
<line x1="501.30" y1="213.00" x2="505.30" y2="213.00" stroke="#e0566b" stroke-width="0.7"/>
<path d="M450.1,196.5 L450.1,189.2 L464.6,189.2 L464.6,212.5" fill="none" stroke="#333" stroke-width="0.6"/>
<text x="457.35" y="189.46" font-size="6.2" text-anchor="middle" font-weight="normal" fill="#161616" stroke="#161616" stroke-width="0.16">**</text>
<path d="M489.3,191.5 L489.3,184.6 L503.3,184.6 L503.3,211.0" fill="none" stroke="#333" stroke-width="0.6"/>
<text x="496.30" y="184.86" font-size="6.2" text-anchor="middle" font-weight="normal" fill="#161616" stroke="#161616" stroke-width="0.16">**</text>
<rect x="446.20" y="160.40" width="7.20" height="2.70" fill="#1d4a8a" stroke="none" stroke-width="0"/>
<text x="0.00" y="0.00" font-size="5.8" text-anchor="start" font-weight="normal" fill="#161616" stroke="#161616" stroke-width="0.16" transform="translate(456.90,163.90) scale(1.12,1)">shNC</text>
<rect x="446.20" y="167.80" width="7.20" height="2.70" fill="#e0566b" stroke="none" stroke-width="0"/>
<text x="0.00" y="0.00" font-size="5.8" text-anchor="start" font-weight="normal" fill="#161616" stroke="#161616" stroke-width="0.16" transform="translate(456.90,171.30) scale(1.12,1)">shM</text>
<text x="0.00" y="0.00" font-size="5.8" text-anchor="middle" font-weight="normal" fill="#161616" stroke="#161616" stroke-width="0.16" transform="translate(457.30,239.20) scale(1.12,1)">NCI-H929</text>
<text x="0.00" y="0.00" font-size="5.8" text-anchor="middle" font-weight="normal" fill="#161616" stroke="#161616" stroke-width="0.16" transform="translate(496.30,239.20) scale(1.12,1)">OPM-2</text>
<text x="7.70" y="285.80" font-size="11.0" text-anchor="start" font-weight="bold" fill="#111">F</text>
<text x="0.00" y="0.00" font-size="8.1" text-anchor="middle" font-weight="normal" fill="#161616" stroke="#161616" stroke-width="0.16" transform="translate(82.50,283.30) scale(1.09,1)">NCI-H929</text>
<path d="M22.70,325.30 L22.70,325.30 L23.30,325.30 L23.90,325.30 L24.50,325.30 L25.10,325.30 L25.70,325.30 L26.30,325.30 L26.90,325.30 L27.50,325.30 L28.10,325.30 L28.70,325.29 L29.30,325.29 L29.90,325.29 L30.50,325.29 L31.10,325.29 L31.70,325.29 L32.30,325.28 L32.90,325.28 L33.50,325.27 L34.10,325.27 L34.70,325.26 L35.30,325.25 L35.90,325.24 L36.50,325.23 L37.10,325.22 L37.70,325.20 L38.30,325.19 L38.90,325.17 L39.50,325.14 L40.10,325.12 L40.70,325.09 L41.30,325.05 L41.90,325.01 L42.50,324.97 L43.10,324.92 L43.70,324.86 L44.30,324.80 L44.90,324.73 L45.50,324.66 L46.10,324.57 L46.70,324.48 L47.30,324.38 L47.90,324.27 L48.50,324.15 L49.10,324.02 L49.70,323.88 L50.30,323.73 L50.90,323.56 L51.50,323.37 L52.10,323.16 L52.70,322.93 L53.30,322.67 L53.90,322.37 L54.50,322.02 L55.10,321.62 L55.70,321.15 L56.30,320.61 L56.90,319.96 L57.50,319.21 L58.10,318.34 L58.70,317.34 L59.30,316.02 L59.90,315.05 L60.50,313.70 L61.10,311.64 L61.70,310.42 L62.30,308.72 L62.90,306.54 L63.50,304.95 L64.10,302.70 L64.70,301.62 L65.30,299.37 L65.90,298.72 L66.50,297.36 L67.10,296.24 L67.70,296.12 L68.30,295.81 L68.90,296.45 L69.50,298.03 L70.10,298.37 L70.70,300.27 L71.30,302.39 L71.90,304.52 L72.50,306.15 L73.10,308.53 L73.70,310.45 L74.30,312.58 L74.90,314.37 L75.50,316.22 L76.10,317.73 L76.70,319.00 L77.30,320.09 L77.90,321.00 L78.50,321.75 L79.10,322.36 L79.70,322.86 L80.30,323.27 L80.90,323.59 L81.50,323.86 L82.10,324.08 L82.70,324.25 L83.30,324.40 L83.90,324.53 L84.50,324.64 L85.10,324.73 L85.70,324.81 L86.30,324.88 L86.90,324.94 L87.50,325.00 L88.10,325.04 L88.70,325.08 L89.30,325.12 L89.90,325.15 L90.50,325.17 L91.10,325.19 L91.70,325.21 L92.30,325.23 L92.90,325.24 L93.50,325.25 L94.10,325.26 L94.70,325.27 L95.30,325.27 L95.90,325.28 L96.50,325.28 L97.10,325.29 L97.70,325.29 L98.30,325.29 L98.90,325.29 L99.50,325.29 L100.10,325.30 L100.70,325.30 L101.30,325.30 L101.90,325.30 L102.50,325.30 L103.10,325.30 L103.70,325.30 L104.30,325.30 L104.90,325.30 L105.50,325.30 L106.10,325.30 L106.70,325.30 L107.30,325.30 L107.90,325.30 L108.50,325.30 L109.10,325.30 L109.70,325.30 L110.30,325.30 L110.90,325.30 L111.50,325.30 L112.10,325.30 L112.70,325.30 L113.30,325.30 L113.90,325.30 L114.50,325.30 L115.10,325.30 L115.70,325.30 L116.30,325.30 L116.90,325.30 L117.50,325.30 L118.10,325.30 L118.70,325.30 L119.30,325.30 L119.90,325.30 L120.50,325.30 L121.10,325.30 L121.70,325.30 L122.30,325.30 L122.90,325.30 L123.50,325.30 L124.10,325.30 L124.70,325.30 L125.30,325.30 L125.90,325.30 L126.50,325.30 L127.10,325.30 L127.70,325.30 L128.30,325.30 L128.90,325.30 L129.50,325.30 L130.10,325.30 L130.70,325.30 L131.30,325.30 L131.90,325.30 L132.50,325.30 L133.10,325.30 L133.70,325.30 L134.30,325.30 L134.90,325.30 L135.50,325.30 L136.10,325.30 L136.70,325.30 L137.30,325.30 L137.90,325.30 L138.50,325.30 L139.10,325.30 L139.70,325.30 L140.30,325.30 L140.90,325.30 L141.50,325.30 L142.10,325.30 L142.20,325.30 Z" fill="#3f65ab" stroke="none" stroke-width="0" fill-opacity="0.75"/>
<path d="M22.70,325.30 L22.70,325.30 L23.30,325.30 L23.90,325.30 L24.50,325.30 L25.10,325.30 L25.70,325.30 L26.30,325.30 L26.90,325.30 L27.50,325.30 L28.10,325.30 L28.70,325.29 L29.30,325.29 L29.90,325.29 L30.50,325.29 L31.10,325.29 L31.70,325.29 L32.30,325.28 L32.90,325.28 L33.50,325.27 L34.10,325.27 L34.70,325.26 L35.30,325.25 L35.90,325.24 L36.50,325.23 L37.10,325.22 L37.70,325.20 L38.30,325.19 L38.90,325.17 L39.50,325.14 L40.10,325.12 L40.70,325.09 L41.30,325.05 L41.90,325.01 L42.50,324.97 L43.10,324.92 L43.70,324.86 L44.30,324.80 L44.90,324.73 L45.50,324.66 L46.10,324.57 L46.70,324.48 L47.30,324.38 L47.90,324.27 L48.50,324.15 L49.10,324.02 L49.70,323.88 L50.30,323.73 L50.90,323.56 L51.50,323.37 L52.10,323.16 L52.70,322.93 L53.30,322.67 L53.90,322.37 L54.50,322.02 L55.10,321.62 L55.70,321.15 L56.30,320.61 L56.90,319.96 L57.50,319.21 L58.10,318.34 L58.70,317.34 L59.30,316.02 L59.90,315.05 L60.50,313.70 L61.10,311.64 L61.70,310.42 L62.30,308.72 L62.90,306.54 L63.50,304.95 L64.10,302.70 L64.70,301.62 L65.30,299.37 L65.90,298.72 L66.50,297.36 L67.10,296.24 L67.70,296.12 L68.30,295.81 L68.90,296.45 L69.50,298.03 L70.10,298.37 L70.70,300.27 L71.30,302.39 L71.90,304.52 L72.50,306.15 L73.10,308.53 L73.70,310.45 L74.30,312.58 L74.90,314.37 L75.50,316.22 L76.10,317.73 L76.70,319.00 L77.30,320.09 L77.90,321.00 L78.50,321.75 L79.10,322.36 L79.70,322.86 L80.30,323.27 L80.90,323.59 L81.50,323.86 L82.10,324.08 L82.70,324.25 L83.30,324.40 L83.90,324.53 L84.50,324.64 L85.10,324.73 L85.70,324.81 L86.30,324.88 L86.90,324.94 L87.50,325.00 L88.10,325.04 L88.70,325.08 L89.30,325.12 L89.90,325.15 L90.50,325.17 L91.10,325.19 L91.70,325.21 L92.30,325.23 L92.90,325.24 L93.50,325.25 L94.10,325.26 L94.70,325.27 L95.30,325.27 L95.90,325.28 L96.50,325.28 L97.10,325.29 L97.70,325.29 L98.30,325.29 L98.90,325.29 L99.50,325.29 L100.10,325.30 L100.70,325.30 L101.30,325.30 L101.90,325.30 L102.50,325.30 L103.10,325.30 L103.70,325.30 L104.30,325.30 L104.90,325.30 L105.50,325.30 L106.10,325.30 L106.70,325.30 L107.30,325.30 L107.90,325.30 L108.50,325.30 L109.10,325.30 L109.70,325.30 L110.30,325.30 L110.90,325.30 L111.50,325.30 L112.10,325.30 L112.70,325.30 L113.30,325.30 L113.90,325.30 L114.50,325.30 L115.10,325.30 L115.70,325.30 L116.30,325.30 L116.90,325.30 L117.50,325.30 L118.10,325.30 L118.70,325.30 L119.30,325.30 L119.90,325.30 L120.50,325.30 L121.10,325.30 L121.70,325.30 L122.30,325.30 L122.90,325.30 L123.50,325.30 L124.10,325.30 L124.70,325.30 L125.30,325.30 L125.90,325.30 L126.50,325.30 L127.10,325.30 L127.70,325.30 L128.30,325.30 L128.90,325.30 L129.50,325.30 L130.10,325.30 L130.70,325.30 L131.30,325.30 L131.90,325.30 L132.50,325.30 L133.10,325.30 L133.70,325.30 L134.30,325.30 L134.90,325.30 L135.50,325.30 L136.10,325.30 L136.70,325.30 L137.30,325.30 L137.90,325.30 L138.50,325.30 L139.10,325.30 L139.70,325.30 L140.30,325.30 L140.90,325.30 L141.50,325.30 L142.10,325.30" fill="none" stroke="#34568f" stroke-width="1.1" stroke-linejoin="round"/>
<path d="M22.70,341.90 L22.70,341.90 L23.30,341.90 L23.90,341.90 L24.50,341.90 L25.10,341.90 L25.70,341.90 L26.30,341.90 L26.90,341.90 L27.50,341.90 L28.10,341.90 L28.70,341.89 L29.30,341.89 L29.90,341.89 L30.50,341.89 L31.10,341.89 L31.70,341.89 L32.30,341.88 L32.90,341.88 L33.50,341.87 L34.10,341.87 L34.70,341.86 L35.30,341.85 L35.90,341.84 L36.50,341.83 L37.10,341.82 L37.70,341.80 L38.30,341.79 L38.90,341.77 L39.50,341.74 L40.10,341.72 L40.70,341.69 L41.30,341.65 L41.90,341.61 L42.50,341.57 L43.10,341.52 L43.70,341.46 L44.30,341.40 L44.90,341.33 L45.50,341.25 L46.10,341.17 L46.70,341.08 L47.30,340.98 L47.90,340.87 L48.50,340.75 L49.10,340.61 L49.70,340.47 L50.30,340.30 L50.90,340.12 L51.50,339.92 L52.10,339.69 L52.70,339.43 L53.30,339.13 L53.90,338.79 L54.50,338.38 L55.10,337.90 L55.70,337.33 L56.30,336.66 L56.90,335.87 L57.50,334.95 L58.10,333.88 L58.70,332.66 L59.30,331.25 L59.90,329.85 L60.50,327.76 L61.10,326.42 L61.70,324.28 L62.30,322.48 L62.90,320.40 L63.50,317.64 L64.10,317.03 L64.70,314.79 L65.30,313.67 L65.90,312.25 L66.50,310.16 L67.10,310.87 L67.70,310.20 L68.30,310.75 L68.90,310.67 L69.50,311.97 L70.10,313.48 L70.70,314.28 L71.30,315.77 L71.90,316.80 L72.50,318.87 L73.10,321.14 L73.70,322.38 L74.30,324.61 L74.90,326.17 L75.50,328.13 L76.10,329.59 L76.70,330.85 L77.30,332.42 L77.90,333.70 L78.50,334.84 L79.10,335.86 L79.70,336.75 L80.30,337.52 L80.90,338.19 L81.50,338.76 L82.10,339.25 L82.70,339.67 L83.30,340.01 L83.90,340.31 L84.50,340.55 L85.10,340.76 L85.70,340.93 L86.30,341.08 L86.90,341.20 L87.50,341.30 L88.10,341.39 L88.70,341.46 L89.30,341.53 L89.90,341.58 L90.50,341.63 L91.10,341.67 L91.70,341.70 L92.30,341.73 L92.90,341.76 L93.50,341.78 L94.10,341.80 L94.70,341.81 L95.30,341.83 L95.90,341.84 L96.50,341.85 L97.10,341.86 L97.70,341.87 L98.30,341.87 L98.90,341.88 L99.50,341.88 L100.10,341.88 L100.70,341.89 L101.30,341.89 L101.90,341.89 L102.50,341.89 L103.10,341.89 L103.70,341.90 L104.30,341.90 L104.90,341.90 L105.50,341.90 L106.10,341.90 L106.70,341.90 L107.30,341.90 L107.90,341.90 L108.50,341.90 L109.10,341.90 L109.70,341.90 L110.30,341.90 L110.90,341.90 L111.50,341.90 L112.10,341.90 L112.70,341.90 L113.30,341.90 L113.90,341.90 L114.50,341.90 L115.10,341.90 L115.70,341.90 L116.30,341.90 L116.90,341.90 L117.50,341.90 L118.10,341.90 L118.70,341.90 L119.30,341.90 L119.90,341.90 L120.50,341.90 L121.10,341.90 L121.70,341.90 L122.30,341.90 L122.90,341.90 L123.50,341.90 L124.10,341.90 L124.70,341.90 L125.30,341.90 L125.90,341.90 L126.50,341.90 L127.10,341.90 L127.70,341.90 L128.30,341.90 L128.90,341.90 L129.50,341.90 L130.10,341.90 L130.70,341.90 L131.30,341.90 L131.90,341.90 L132.50,341.90 L133.10,341.90 L133.70,341.90 L134.30,341.90 L134.90,341.90 L135.50,341.90 L136.10,341.90 L136.70,341.90 L137.30,341.90 L137.90,341.90 L138.50,341.90 L139.10,341.90 L139.70,341.90 L140.30,341.90 L140.90,341.90 L141.50,341.90 L142.10,341.90 L142.20,341.90 Z" fill="#dc6363" stroke="none" stroke-width="0" fill-opacity="0.75"/>
<path d="M22.70,341.90 L22.70,341.90 L23.30,341.90 L23.90,341.90 L24.50,341.90 L25.10,341.90 L25.70,341.90 L26.30,341.90 L26.90,341.90 L27.50,341.90 L28.10,341.90 L28.70,341.89 L29.30,341.89 L29.90,341.89 L30.50,341.89 L31.10,341.89 L31.70,341.89 L32.30,341.88 L32.90,341.88 L33.50,341.87 L34.10,341.87 L34.70,341.86 L35.30,341.85 L35.90,341.84 L36.50,341.83 L37.10,341.82 L37.70,341.80 L38.30,341.79 L38.90,341.77 L39.50,341.74 L40.10,341.72 L40.70,341.69 L41.30,341.65 L41.90,341.61 L42.50,341.57 L43.10,341.52 L43.70,341.46 L44.30,341.40 L44.90,341.33 L45.50,341.25 L46.10,341.17 L46.70,341.08 L47.30,340.98 L47.90,340.87 L48.50,340.75 L49.10,340.61 L49.70,340.47 L50.30,340.30 L50.90,340.12 L51.50,339.92 L52.10,339.69 L52.70,339.43 L53.30,339.13 L53.90,338.79 L54.50,338.38 L55.10,337.90 L55.70,337.33 L56.30,336.66 L56.90,335.87 L57.50,334.95 L58.10,333.88 L58.70,332.66 L59.30,331.25 L59.90,329.85 L60.50,327.76 L61.10,326.42 L61.70,324.28 L62.30,322.48 L62.90,320.40 L63.50,317.64 L64.10,317.03 L64.70,314.79 L65.30,313.67 L65.90,312.25 L66.50,310.16 L67.10,310.87 L67.70,310.20 L68.30,310.75 L68.90,310.67 L69.50,311.97 L70.10,313.48 L70.70,314.28 L71.30,315.77 L71.90,316.80 L72.50,318.87 L73.10,321.14 L73.70,322.38 L74.30,324.61 L74.90,326.17 L75.50,328.13 L76.10,329.59 L76.70,330.85 L77.30,332.42 L77.90,333.70 L78.50,334.84 L79.10,335.86 L79.70,336.75 L80.30,337.52 L80.90,338.19 L81.50,338.76 L82.10,339.25 L82.70,339.67 L83.30,340.01 L83.90,340.31 L84.50,340.55 L85.10,340.76 L85.70,340.93 L86.30,341.08 L86.90,341.20 L87.50,341.30 L88.10,341.39 L88.70,341.46 L89.30,341.53 L89.90,341.58 L90.50,341.63 L91.10,341.67 L91.70,341.70 L92.30,341.73 L92.90,341.76 L93.50,341.78 L94.10,341.80 L94.70,341.81 L95.30,341.83 L95.90,341.84 L96.50,341.85 L97.10,341.86 L97.70,341.87 L98.30,341.87 L98.90,341.88 L99.50,341.88 L100.10,341.88 L100.70,341.89 L101.30,341.89 L101.90,341.89 L102.50,341.89 L103.10,341.89 L103.70,341.90 L104.30,341.90 L104.90,341.90 L105.50,341.90 L106.10,341.90 L106.70,341.90 L107.30,341.90 L107.90,341.90 L108.50,341.90 L109.10,341.90 L109.70,341.90 L110.30,341.90 L110.90,341.90 L111.50,341.90 L112.10,341.90 L112.70,341.90 L113.30,341.90 L113.90,341.90 L114.50,341.90 L115.10,341.90 L115.70,341.90 L116.30,341.90 L116.90,341.90 L117.50,341.90 L118.10,341.90 L118.70,341.90 L119.30,341.90 L119.90,341.90 L120.50,341.90 L121.10,341.90 L121.70,341.90 L122.30,341.90 L122.90,341.90 L123.50,341.90 L124.10,341.90 L124.70,341.90 L125.30,341.90 L125.90,341.90 L126.50,341.90 L127.10,341.90 L127.70,341.90 L128.30,341.90 L128.90,341.90 L129.50,341.90 L130.10,341.90 L130.70,341.90 L131.30,341.90 L131.90,341.90 L132.50,341.90 L133.10,341.90 L133.70,341.90 L134.30,341.90 L134.90,341.90 L135.50,341.90 L136.10,341.90 L136.70,341.90 L137.30,341.90 L137.90,341.90 L138.50,341.90 L139.10,341.90 L139.70,341.90 L140.30,341.90 L140.90,341.90 L141.50,341.90 L142.10,341.90" fill="none" stroke="#c22f4a" stroke-width="1.1" stroke-linejoin="round"/>
<path d="M22.70,358.30 L22.70,358.29 L23.30,358.29 L23.90,358.29 L24.50,358.29 L25.10,358.29 L25.70,358.28 L26.30,358.28 L26.90,358.28 L27.50,358.28 L28.10,358.27 L28.70,358.27 L29.30,358.26 L29.90,358.26 L30.50,358.25 L31.10,358.24 L31.70,358.24 L32.30,358.23 L32.90,358.22 L33.50,358.21 L34.10,358.19 L34.70,358.18 L35.30,358.17 L35.90,358.15 L36.50,358.13 L37.10,358.11 L37.70,358.09 L38.30,358.06 L38.90,358.04 L39.50,358.01 L40.10,357.97 L40.70,357.94 L41.30,357.90 L41.90,357.86 L42.50,357.81 L43.10,357.77 L43.70,357.71 L44.30,357.66 L44.90,357.60 L45.50,357.53 L46.10,357.47 L46.70,357.39 L47.30,357.31 L47.90,357.22 L48.50,357.13 L49.10,357.03 L49.70,356.91 L50.30,356.79 L50.90,356.66 L51.50,356.51 L52.10,356.34 L52.70,356.16 L53.30,355.96 L53.90,355.73 L54.50,355.47 L55.10,355.18 L55.70,354.86 L56.30,354.49 L56.90,354.08 L57.50,353.63 L58.10,353.12 L58.70,352.56 L59.30,351.94 L59.90,351.31 L60.50,350.38 L61.10,349.57 L61.70,348.72 L62.30,347.85 L62.90,346.85 L63.50,346.27 L64.10,344.93 L64.70,344.10 L65.30,342.76 L65.90,341.90 L66.50,340.79 L67.10,339.82 L67.70,338.86 L68.30,337.80 L68.90,336.90 L69.50,336.78 L70.10,335.83 L70.70,335.34 L71.30,335.52 L71.90,335.65 L72.50,335.33 L73.10,335.25 L73.70,335.76 L74.30,336.49 L74.90,336.57 L75.50,337.55 L76.10,337.85 L76.70,339.26 L77.30,339.85 L77.90,340.97 L78.50,341.59 L79.10,343.17 L79.70,343.79 L80.30,345.12 L80.90,346.19 L81.50,347.28 L82.10,348.15 L82.70,348.95 L83.30,349.85 L83.90,350.74 L84.50,351.67 L85.10,352.41 L85.70,353.09 L86.30,353.71 L86.90,354.28 L87.50,354.79 L88.10,355.24 L88.70,355.64 L89.30,356.00 L89.90,356.31 L90.50,356.59 L91.10,356.83 L91.70,357.03 L92.30,357.21 L92.90,357.37 L93.50,357.50 L94.10,357.62 L94.70,357.71 L95.30,357.80 L95.90,357.87 L96.50,357.93 L97.10,357.98 L97.70,358.03 L98.30,358.06 L98.90,358.10 L99.50,358.12 L100.10,358.15 L100.70,358.17 L101.30,358.19 L101.90,358.20 L102.50,358.22 L103.10,358.23 L103.70,358.24 L104.30,358.25 L104.90,358.25 L105.50,358.26 L106.10,358.27 L106.70,358.27 L107.30,358.28 L107.90,358.28 L108.50,358.28 L109.10,358.29 L109.70,358.29 L110.30,358.29 L110.90,358.29 L111.50,358.29 L112.10,358.29 L112.70,358.29 L113.30,358.30 L113.90,358.30 L114.50,358.30 L115.10,358.30 L115.70,358.30 L116.30,358.30 L116.90,358.30 L117.50,358.30 L118.10,358.30 L118.70,358.30 L119.30,358.30 L119.90,358.30 L120.50,358.30 L121.10,358.30 L121.70,358.30 L122.30,358.30 L122.90,358.30 L123.50,358.30 L124.10,358.30 L124.70,358.30 L125.30,358.30 L125.90,358.30 L126.50,358.30 L127.10,358.30 L127.70,358.30 L128.30,358.30 L128.90,358.30 L129.50,358.30 L130.10,358.30 L130.70,358.30 L131.30,358.30 L131.90,358.30 L132.50,358.30 L133.10,358.30 L133.70,358.30 L134.30,358.30 L134.90,358.30 L135.50,358.30 L136.10,358.30 L136.70,358.30 L137.30,358.30 L137.90,358.30 L138.50,358.30 L139.10,358.30 L139.70,358.30 L140.30,358.30 L140.90,358.30 L141.50,358.30 L142.10,358.30 L142.20,358.30 Z" fill="#8bc86f" stroke="none" stroke-width="0" fill-opacity="0.64"/>
<path d="M22.70,358.29 L22.70,358.29 L23.30,358.29 L23.90,358.29 L24.50,358.29 L25.10,358.29 L25.70,358.28 L26.30,358.28 L26.90,358.28 L27.50,358.28 L28.10,358.27 L28.70,358.27 L29.30,358.26 L29.90,358.26 L30.50,358.25 L31.10,358.24 L31.70,358.24 L32.30,358.23 L32.90,358.22 L33.50,358.21 L34.10,358.19 L34.70,358.18 L35.30,358.17 L35.90,358.15 L36.50,358.13 L37.10,358.11 L37.70,358.09 L38.30,358.06 L38.90,358.04 L39.50,358.01 L40.10,357.97 L40.70,357.94 L41.30,357.90 L41.90,357.86 L42.50,357.81 L43.10,357.77 L43.70,357.71 L44.30,357.66 L44.90,357.60 L45.50,357.53 L46.10,357.47 L46.70,357.39 L47.30,357.31 L47.90,357.22 L48.50,357.13 L49.10,357.03 L49.70,356.91 L50.30,356.79 L50.90,356.66 L51.50,356.51 L52.10,356.34 L52.70,356.16 L53.30,355.96 L53.90,355.73 L54.50,355.47 L55.10,355.18 L55.70,354.86 L56.30,354.49 L56.90,354.08 L57.50,353.63 L58.10,353.12 L58.70,352.56 L59.30,351.94 L59.90,351.31 L60.50,350.38 L61.10,349.57 L61.70,348.72 L62.30,347.85 L62.90,346.85 L63.50,346.27 L64.10,344.93 L64.70,344.10 L65.30,342.76 L65.90,341.90 L66.50,340.79 L67.10,339.82 L67.70,338.86 L68.30,337.80 L68.90,336.90 L69.50,336.78 L70.10,335.83 L70.70,335.34 L71.30,335.52 L71.90,335.65 L72.50,335.33 L73.10,335.25 L73.70,335.76 L74.30,336.49 L74.90,336.57 L75.50,337.55 L76.10,337.85 L76.70,339.26 L77.30,339.85 L77.90,340.97 L78.50,341.59 L79.10,343.17 L79.70,343.79 L80.30,345.12 L80.90,346.19 L81.50,347.28 L82.10,348.15 L82.70,348.95 L83.30,349.85 L83.90,350.74 L84.50,351.67 L85.10,352.41 L85.70,353.09 L86.30,353.71 L86.90,354.28 L87.50,354.79 L88.10,355.24 L88.70,355.64 L89.30,356.00 L89.90,356.31 L90.50,356.59 L91.10,356.83 L91.70,357.03 L92.30,357.21 L92.90,357.37 L93.50,357.50 L94.10,357.62 L94.70,357.71 L95.30,357.80 L95.90,357.87 L96.50,357.93 L97.10,357.98 L97.70,358.03 L98.30,358.06 L98.90,358.10 L99.50,358.12 L100.10,358.15 L100.70,358.17 L101.30,358.19 L101.90,358.20 L102.50,358.22 L103.10,358.23 L103.70,358.24 L104.30,358.25 L104.90,358.25 L105.50,358.26 L106.10,358.27 L106.70,358.27 L107.30,358.28 L107.90,358.28 L108.50,358.28 L109.10,358.29 L109.70,358.29 L110.30,358.29 L110.90,358.29 L111.50,358.29 L112.10,358.29 L112.70,358.29 L113.30,358.30 L113.90,358.30 L114.50,358.30 L115.10,358.30 L115.70,358.30 L116.30,358.30 L116.90,358.30 L117.50,358.30 L118.10,358.30 L118.70,358.30 L119.30,358.30 L119.90,358.30 L120.50,358.30 L121.10,358.30 L121.70,358.30 L122.30,358.30 L122.90,358.30 L123.50,358.30 L124.10,358.30 L124.70,358.30 L125.30,358.30 L125.90,358.30 L126.50,358.30 L127.10,358.30 L127.70,358.30 L128.30,358.30 L128.90,358.30 L129.50,358.30 L130.10,358.30 L130.70,358.30 L131.30,358.30 L131.90,358.30 L132.50,358.30 L133.10,358.30 L133.70,358.30 L134.30,358.30 L134.90,358.30 L135.50,358.30 L136.10,358.30 L136.70,358.30 L137.30,358.30 L137.90,358.30 L138.50,358.30 L139.10,358.30 L139.70,358.30 L140.30,358.30 L140.90,358.30 L141.50,358.30 L142.10,358.30" fill="none" stroke="#58b458" stroke-width="1.1" stroke-linejoin="round"/>
<path d="M22.70,375.10 L22.70,375.10 L23.30,375.10 L23.90,375.10 L24.50,375.10 L25.10,375.10 L25.70,375.10 L26.30,375.10 L26.90,375.10 L27.50,375.09 L28.10,375.09 L28.70,375.09 L29.30,375.09 L29.90,375.09 L30.50,375.09 L31.10,375.08 L31.70,375.08 L32.30,375.08 L32.90,375.07 L33.50,375.07 L34.10,375.06 L34.70,375.05 L35.30,375.05 L35.90,375.04 L36.50,375.03 L37.10,375.01 L37.70,375.00 L38.30,374.98 L38.90,374.97 L39.50,374.95 L40.10,374.92 L40.70,374.90 L41.30,374.87 L41.90,374.83 L42.50,374.80 L43.10,374.76 L43.70,374.71 L44.30,374.66 L44.90,374.60 L45.50,374.54 L46.10,374.47 L46.70,374.39 L47.30,374.31 L47.90,374.21 L48.50,374.11 L49.10,373.99 L49.70,373.85 L50.30,373.69 L50.90,373.52 L51.50,373.31 L52.10,373.08 L52.70,372.81 L53.30,372.50 L53.90,372.13 L54.50,371.72 L55.10,371.23 L55.70,370.68 L56.30,370.05 L56.90,369.33 L57.50,368.52 L58.10,367.62 L58.70,366.85 L59.30,365.41 L59.90,364.57 L60.50,363.09 L61.10,361.58 L61.70,360.06 L62.30,358.93 L62.90,357.44 L63.50,356.56 L64.10,354.70 L64.70,353.46 L65.30,351.60 L65.90,350.94 L66.50,349.71 L67.10,349.47 L67.70,349.37 L68.30,348.00 L68.90,347.99 L69.50,348.87 L70.10,349.70 L70.70,349.66 L71.30,350.50 L71.90,351.10 L72.50,352.50 L73.10,353.88 L73.70,355.16 L74.30,356.80 L74.90,358.57 L75.50,359.97 L76.10,360.61 L76.70,362.11 L77.30,363.82 L77.90,364.68 L78.50,366.06 L79.10,367.13 L79.70,368.08 L80.30,368.94 L80.90,369.71 L81.50,370.38 L82.10,370.97 L82.70,371.49 L83.30,371.94 L83.90,372.32 L84.50,372.65 L85.10,372.94 L85.70,373.19 L86.30,373.40 L86.90,373.58 L87.50,373.74 L88.10,373.88 L88.70,374.01 L89.30,374.12 L89.90,374.22 L90.50,374.30 L91.10,374.38 L91.70,374.45 L92.30,374.52 L92.90,374.58 L93.50,374.63 L94.10,374.68 L94.70,374.72 L95.30,374.77 L95.90,374.80 L96.50,374.84 L97.10,374.87 L97.70,374.89 L98.30,374.92 L98.90,374.94 L99.50,374.96 L100.10,374.98 L100.70,374.99 L101.30,375.01 L101.90,375.02 L102.50,375.03 L103.10,375.04 L103.70,375.05 L104.30,375.05 L104.90,375.06 L105.50,375.07 L106.10,375.07 L106.70,375.08 L107.30,375.08 L107.90,375.08 L108.50,375.09 L109.10,375.09 L109.70,375.09 L110.30,375.09 L110.90,375.09 L111.50,375.09 L112.10,375.09 L112.70,375.10 L113.30,375.10 L113.90,375.10 L114.50,375.10 L115.10,375.10 L115.70,375.10 L116.30,375.10 L116.90,375.10 L117.50,375.10 L118.10,375.10 L118.70,375.10 L119.30,375.10 L119.90,375.10 L120.50,375.10 L121.10,375.10 L121.70,375.10 L122.30,375.10 L122.90,375.10 L123.50,375.10 L124.10,375.10 L124.70,375.10 L125.30,375.10 L125.90,375.10 L126.50,375.10 L127.10,375.10 L127.70,375.10 L128.30,375.10 L128.90,375.10 L129.50,375.10 L130.10,375.10 L130.70,375.10 L131.30,375.10 L131.90,375.10 L132.50,375.10 L133.10,375.10 L133.70,375.10 L134.30,375.10 L134.90,375.10 L135.50,375.10 L136.10,375.10 L136.70,375.10 L137.30,375.10 L137.90,375.10 L138.50,375.10 L139.10,375.10 L139.70,375.10 L140.30,375.10 L140.90,375.10 L141.50,375.10 L142.10,375.10 L142.20,375.10 Z" fill="#fbc578" stroke="none" stroke-width="0" fill-opacity="0.66"/>
<path d="M22.70,375.10 L22.70,375.10 L23.30,375.10 L23.90,375.10 L24.50,375.10 L25.10,375.10 L25.70,375.10 L26.30,375.10 L26.90,375.10 L27.50,375.09 L28.10,375.09 L28.70,375.09 L29.30,375.09 L29.90,375.09 L30.50,375.09 L31.10,375.08 L31.70,375.08 L32.30,375.08 L32.90,375.07 L33.50,375.07 L34.10,375.06 L34.70,375.05 L35.30,375.05 L35.90,375.04 L36.50,375.03 L37.10,375.01 L37.70,375.00 L38.30,374.98 L38.90,374.97 L39.50,374.95 L40.10,374.92 L40.70,374.90 L41.30,374.87 L41.90,374.83 L42.50,374.80 L43.10,374.76 L43.70,374.71 L44.30,374.66 L44.90,374.60 L45.50,374.54 L46.10,374.47 L46.70,374.39 L47.30,374.31 L47.90,374.21 L48.50,374.11 L49.10,373.99 L49.70,373.85 L50.30,373.69 L50.90,373.52 L51.50,373.31 L52.10,373.08 L52.70,372.81 L53.30,372.50 L53.90,372.13 L54.50,371.72 L55.10,371.23 L55.70,370.68 L56.30,370.05 L56.90,369.33 L57.50,368.52 L58.10,367.62 L58.70,366.85 L59.30,365.41 L59.90,364.57 L60.50,363.09 L61.10,361.58 L61.70,360.06 L62.30,358.93 L62.90,357.44 L63.50,356.56 L64.10,354.70 L64.70,353.46 L65.30,351.60 L65.90,350.94 L66.50,349.71 L67.10,349.47 L67.70,349.37 L68.30,348.00 L68.90,347.99 L69.50,348.87 L70.10,349.70 L70.70,349.66 L71.30,350.50 L71.90,351.10 L72.50,352.50 L73.10,353.88 L73.70,355.16 L74.30,356.80 L74.90,358.57 L75.50,359.97 L76.10,360.61 L76.70,362.11 L77.30,363.82 L77.90,364.68 L78.50,366.06 L79.10,367.13 L79.70,368.08 L80.30,368.94 L80.90,369.71 L81.50,370.38 L82.10,370.97 L82.70,371.49 L83.30,371.94 L83.90,372.32 L84.50,372.65 L85.10,372.94 L85.70,373.19 L86.30,373.40 L86.90,373.58 L87.50,373.74 L88.10,373.88 L88.70,374.01 L89.30,374.12 L89.90,374.22 L90.50,374.30 L91.10,374.38 L91.70,374.45 L92.30,374.52 L92.90,374.58 L93.50,374.63 L94.10,374.68 L94.70,374.72 L95.30,374.77 L95.90,374.80 L96.50,374.84 L97.10,374.87 L97.70,374.89 L98.30,374.92 L98.90,374.94 L99.50,374.96 L100.10,374.98 L100.70,374.99 L101.30,375.01 L101.90,375.02 L102.50,375.03 L103.10,375.04 L103.70,375.05 L104.30,375.05 L104.90,375.06 L105.50,375.07 L106.10,375.07 L106.70,375.08 L107.30,375.08 L107.90,375.08 L108.50,375.09 L109.10,375.09 L109.70,375.09 L110.30,375.09 L110.90,375.09 L111.50,375.09 L112.10,375.09 L112.70,375.10 L113.30,375.10 L113.90,375.10 L114.50,375.10 L115.10,375.10 L115.70,375.10 L116.30,375.10 L116.90,375.10 L117.50,375.10 L118.10,375.10 L118.70,375.10 L119.30,375.10 L119.90,375.10 L120.50,375.10 L121.10,375.10 L121.70,375.10 L122.30,375.10 L122.90,375.10 L123.50,375.10 L124.10,375.10 L124.70,375.10 L125.30,375.10 L125.90,375.10 L126.50,375.10 L127.10,375.10 L127.70,375.10 L128.30,375.10 L128.90,375.10 L129.50,375.10 L130.10,375.10 L130.70,375.10 L131.30,375.10 L131.90,375.10 L132.50,375.10 L133.10,375.10 L133.70,375.10 L134.30,375.10 L134.90,375.10 L135.50,375.10 L136.10,375.10 L136.70,375.10 L137.30,375.10 L137.90,375.10 L138.50,375.10 L139.10,375.10 L139.70,375.10 L140.30,375.10 L140.90,375.10 L141.50,375.10 L142.10,375.10" fill="none" stroke="#f3a440" stroke-width="1.1" stroke-linejoin="round"/>
<path d="M22.70,392.30 L22.70,392.30 L23.30,392.30 L23.90,392.30 L24.50,392.30 L25.10,392.30 L25.70,392.30 L26.30,392.30 L26.90,392.30 L27.50,392.30 L28.10,392.30 L28.70,392.30 L29.30,392.30 L29.90,392.30 L30.50,392.30 L31.10,392.30 L31.70,392.30 L32.30,392.29 L32.90,392.29 L33.50,392.29 L34.10,392.29 L34.70,392.29 L35.30,392.28 L35.90,392.28 L36.50,392.28 L37.10,392.27 L37.70,392.26 L38.30,392.26 L38.90,392.25 L39.50,392.24 L40.10,392.23 L40.70,392.21 L41.30,392.19 L41.90,392.18 L42.50,392.15 L43.10,392.13 L43.70,392.10 L44.30,392.07 L44.90,392.03 L45.50,391.99 L46.10,391.94 L46.70,391.89 L47.30,391.83 L47.90,391.77 L48.50,391.70 L49.10,391.61 L49.70,391.52 L50.30,391.42 L50.90,391.30 L51.50,391.17 L52.10,391.02 L52.70,390.85 L53.30,390.65 L53.90,390.42 L54.50,390.15 L55.10,389.83 L55.70,389.45 L56.30,389.00 L56.90,388.47 L57.50,387.85 L58.10,387.11 L58.70,386.26 L59.30,385.28 L59.90,384.16 L60.50,382.89 L61.10,381.69 L61.70,379.82 L62.30,378.59 L62.90,376.59 L63.50,374.09 L64.10,373.56 L64.70,371.41 L65.30,369.03 L65.90,368.55 L66.50,367.00 L67.10,364.35 L67.70,363.01 L68.30,363.85 L68.90,363.83 L69.50,362.00 L70.10,363.82 L70.70,363.82 L71.30,364.73 L71.90,365.84 L72.50,366.68 L73.10,368.19 L73.70,370.38 L74.30,371.95 L74.90,373.82 L75.50,375.83 L76.10,377.82 L76.70,379.67 L77.30,381.15 L77.90,382.02 L78.50,383.67 L79.10,384.83 L79.70,385.87 L80.30,386.78 L80.90,387.57 L81.50,388.25 L82.10,388.83 L82.70,389.32 L83.30,389.74 L83.90,390.09 L84.50,390.39 L85.10,390.65 L85.70,390.86 L86.30,391.05 L86.90,391.20 L87.50,391.34 L88.10,391.46 L88.70,391.56 L89.30,391.66 L89.90,391.74 L90.50,391.81 L91.10,391.87 L91.70,391.93 L92.30,391.97 L92.90,392.02 L93.50,392.06 L94.10,392.09 L94.70,392.12 L95.30,392.15 L95.90,392.17 L96.50,392.19 L97.10,392.21 L97.70,392.22 L98.30,392.23 L98.90,392.24 L99.50,392.25 L100.10,392.26 L100.70,392.27 L101.30,392.27 L101.90,392.28 L102.50,392.28 L103.10,392.29 L103.70,392.29 L104.30,392.29 L104.90,392.29 L105.50,392.29 L106.10,392.29 L106.70,392.30 L107.30,392.30 L107.90,392.30 L108.50,392.30 L109.10,392.30 L109.70,392.30 L110.30,392.30 L110.90,392.30 L111.50,392.30 L112.10,392.30 L112.70,392.30 L113.30,392.30 L113.90,392.30 L114.50,392.30 L115.10,392.30 L115.70,392.30 L116.30,392.30 L116.90,392.30 L117.50,392.30 L118.10,392.30 L118.70,392.30 L119.30,392.30 L119.90,392.30 L120.50,392.30 L121.10,392.30 L121.70,392.30 L122.30,392.30 L122.90,392.30 L123.50,392.30 L124.10,392.30 L124.70,392.30 L125.30,392.30 L125.90,392.30 L126.50,392.30 L127.10,392.30 L127.70,392.30 L128.30,392.30 L128.90,392.30 L129.50,392.30 L130.10,392.30 L130.70,392.30 L131.30,392.30 L131.90,392.30 L132.50,392.30 L133.10,392.30 L133.70,392.30 L134.30,392.30 L134.90,392.30 L135.50,392.30 L136.10,392.30 L136.70,392.30 L137.30,392.30 L137.90,392.30 L138.50,392.30 L139.10,392.30 L139.70,392.30 L140.30,392.30 L140.90,392.30 L141.50,392.30 L142.10,392.30 L142.20,392.30 Z" fill="#89c5eb" stroke="none" stroke-width="0" fill-opacity="0.75"/>
<path d="M22.70,392.30 L22.70,392.30 L23.30,392.30 L23.90,392.30 L24.50,392.30 L25.10,392.30 L25.70,392.30 L26.30,392.30 L26.90,392.30 L27.50,392.30 L28.10,392.30 L28.70,392.30 L29.30,392.30 L29.90,392.30 L30.50,392.30 L31.10,392.30 L31.70,392.30 L32.30,392.29 L32.90,392.29 L33.50,392.29 L34.10,392.29 L34.70,392.29 L35.30,392.28 L35.90,392.28 L36.50,392.28 L37.10,392.27 L37.70,392.26 L38.30,392.26 L38.90,392.25 L39.50,392.24 L40.10,392.23 L40.70,392.21 L41.30,392.19 L41.90,392.18 L42.50,392.15 L43.10,392.13 L43.70,392.10 L44.30,392.07 L44.90,392.03 L45.50,391.99 L46.10,391.94 L46.70,391.89 L47.30,391.83 L47.90,391.77 L48.50,391.70 L49.10,391.61 L49.70,391.52 L50.30,391.42 L50.90,391.30 L51.50,391.17 L52.10,391.02 L52.70,390.85 L53.30,390.65 L53.90,390.42 L54.50,390.15 L55.10,389.83 L55.70,389.45 L56.30,389.00 L56.90,388.47 L57.50,387.85 L58.10,387.11 L58.70,386.26 L59.30,385.28 L59.90,384.16 L60.50,382.89 L61.10,381.69 L61.70,379.82 L62.30,378.59 L62.90,376.59 L63.50,374.09 L64.10,373.56 L64.70,371.41 L65.30,369.03 L65.90,368.55 L66.50,367.00 L67.10,364.35 L67.70,363.01 L68.30,363.85 L68.90,363.83 L69.50,362.00 L70.10,363.82 L70.70,363.82 L71.30,364.73 L71.90,365.84 L72.50,366.68 L73.10,368.19 L73.70,370.38 L74.30,371.95 L74.90,373.82 L75.50,375.83 L76.10,377.82 L76.70,379.67 L77.30,381.15 L77.90,382.02 L78.50,383.67 L79.10,384.83 L79.70,385.87 L80.30,386.78 L80.90,387.57 L81.50,388.25 L82.10,388.83 L82.70,389.32 L83.30,389.74 L83.90,390.09 L84.50,390.39 L85.10,390.65 L85.70,390.86 L86.30,391.05 L86.90,391.20 L87.50,391.34 L88.10,391.46 L88.70,391.56 L89.30,391.66 L89.90,391.74 L90.50,391.81 L91.10,391.87 L91.70,391.93 L92.30,391.97 L92.90,392.02 L93.50,392.06 L94.10,392.09 L94.70,392.12 L95.30,392.15 L95.90,392.17 L96.50,392.19 L97.10,392.21 L97.70,392.22 L98.30,392.23 L98.90,392.24 L99.50,392.25 L100.10,392.26 L100.70,392.27 L101.30,392.27 L101.90,392.28 L102.50,392.28 L103.10,392.29 L103.70,392.29 L104.30,392.29 L104.90,392.29 L105.50,392.29 L106.10,392.29 L106.70,392.30 L107.30,392.30 L107.90,392.30 L108.50,392.30 L109.10,392.30 L109.70,392.30 L110.30,392.30 L110.90,392.30 L111.50,392.30 L112.10,392.30 L112.70,392.30 L113.30,392.30 L113.90,392.30 L114.50,392.30 L115.10,392.30 L115.70,392.30 L116.30,392.30 L116.90,392.30 L117.50,392.30 L118.10,392.30 L118.70,392.30 L119.30,392.30 L119.90,392.30 L120.50,392.30 L121.10,392.30 L121.70,392.30 L122.30,392.30 L122.90,392.30 L123.50,392.30 L124.10,392.30 L124.70,392.30 L125.30,392.30 L125.90,392.30 L126.50,392.30 L127.10,392.30 L127.70,392.30 L128.30,392.30 L128.90,392.30 L129.50,392.30 L130.10,392.30 L130.70,392.30 L131.30,392.30 L131.90,392.30 L132.50,392.30 L133.10,392.30 L133.70,392.30 L134.30,392.30 L134.90,392.30 L135.50,392.30 L136.10,392.30 L136.70,392.30 L137.30,392.30 L137.90,392.30 L138.50,392.30 L139.10,392.30 L139.70,392.30 L140.30,392.30 L140.90,392.30 L141.50,392.30 L142.10,392.30" fill="none" stroke="#44a6dc" stroke-width="1.1" stroke-linejoin="round"/>
<path d="M22.70,408.60 L22.70,408.60 L23.30,408.60 L23.90,408.60 L24.50,408.60 L25.10,408.60 L25.70,408.60 L26.30,408.60 L26.90,408.60 L27.50,408.60 L28.10,408.60 L28.70,408.60 L29.30,408.60 L29.90,408.60 L30.50,408.60 L31.10,408.60 L31.70,408.60 L32.30,408.59 L32.90,408.59 L33.50,408.59 L34.10,408.59 L34.70,408.59 L35.30,408.58 L35.90,408.58 L36.50,408.58 L37.10,408.57 L37.70,408.57 L38.30,408.56 L38.90,408.55 L39.50,408.54 L40.10,408.53 L40.70,408.52 L41.30,408.50 L41.90,408.48 L42.50,408.46 L43.10,408.44 L43.70,408.41 L44.30,408.38 L44.90,408.35 L45.50,408.31 L46.10,408.27 L46.70,408.22 L47.30,408.16 L47.90,408.10 L48.50,408.04 L49.10,407.96 L49.70,407.88 L50.30,407.79 L50.90,407.69 L51.50,407.57 L52.10,407.45 L52.70,407.30 L53.30,407.14 L53.90,406.95 L54.50,406.73 L55.10,406.47 L55.70,406.15 L56.30,405.78 L56.90,405.33 L57.50,404.80 L58.10,404.16 L58.70,403.40 L59.30,402.50 L59.90,401.46 L60.50,400.65 L61.10,398.83 L61.70,397.95 L62.30,395.76 L62.90,393.33 L63.50,392.55 L64.10,389.48 L64.70,388.23 L65.30,385.91 L65.90,386.26 L66.50,383.14 L67.10,382.53 L67.70,381.45 L68.30,381.57 L68.90,379.79 L69.50,380.83 L70.10,381.05 L70.70,381.80 L71.30,383.00 L71.90,383.38 L72.50,385.07 L73.10,386.51 L73.70,388.82 L74.30,389.45 L74.90,391.68 L75.50,392.46 L76.10,394.21 L76.70,395.22 L77.30,396.85 L77.90,398.40 L78.50,399.46 L79.10,400.60 L79.70,401.61 L80.30,402.53 L80.90,403.34 L81.50,404.06 L82.10,404.69 L82.70,405.24 L83.30,405.72 L83.90,406.12 L84.50,406.47 L85.10,406.77 L85.70,407.03 L86.30,407.25 L86.90,407.43 L87.50,407.59 L88.10,407.73 L88.70,407.85 L89.30,407.95 L89.90,408.04 L90.50,408.11 L91.10,408.18 L91.70,408.24 L92.30,408.29 L92.90,408.33 L93.50,408.37 L94.10,408.40 L94.70,408.43 L95.30,408.45 L95.90,408.48 L96.50,408.49 L97.10,408.51 L97.70,408.53 L98.30,408.54 L98.90,408.55 L99.50,408.56 L100.10,408.56 L100.70,408.57 L101.30,408.58 L101.90,408.58 L102.50,408.58 L103.10,408.59 L103.70,408.59 L104.30,408.59 L104.90,408.59 L105.50,408.59 L106.10,408.60 L106.70,408.60 L107.30,408.60 L107.90,408.60 L108.50,408.60 L109.10,408.60 L109.70,408.60 L110.30,408.60 L110.90,408.60 L111.50,408.60 L112.10,408.60 L112.70,408.60 L113.30,408.60 L113.90,408.60 L114.50,408.60 L115.10,408.60 L115.70,408.60 L116.30,408.60 L116.90,408.60 L117.50,408.60 L118.10,408.60 L118.70,408.60 L119.30,408.60 L119.90,408.60 L120.50,408.60 L121.10,408.60 L121.70,408.60 L122.30,408.60 L122.90,408.60 L123.50,408.60 L124.10,408.60 L124.70,408.60 L125.30,408.60 L125.90,408.60 L126.50,408.60 L127.10,408.60 L127.70,408.60 L128.30,408.60 L128.90,408.60 L129.50,408.60 L130.10,408.60 L130.70,408.60 L131.30,408.60 L131.90,408.60 L132.50,408.60 L133.10,408.60 L133.70,408.60 L134.30,408.60 L134.90,408.60 L135.50,408.60 L136.10,408.60 L136.70,408.60 L137.30,408.60 L137.90,408.60 L138.50,408.60 L139.10,408.60 L139.70,408.60 L140.30,408.60 L140.90,408.60 L141.50,408.60 L142.10,408.60 L142.20,408.60 Z" fill="#ed68b0" stroke="none" stroke-width="0" fill-opacity="0.75"/>
<path d="M22.70,408.60 L22.70,408.60 L23.30,408.60 L23.90,408.60 L24.50,408.60 L25.10,408.60 L25.70,408.60 L26.30,408.60 L26.90,408.60 L27.50,408.60 L28.10,408.60 L28.70,408.60 L29.30,408.60 L29.90,408.60 L30.50,408.60 L31.10,408.60 L31.70,408.60 L32.30,408.59 L32.90,408.59 L33.50,408.59 L34.10,408.59 L34.70,408.59 L35.30,408.58 L35.90,408.58 L36.50,408.58 L37.10,408.57 L37.70,408.57 L38.30,408.56 L38.90,408.55 L39.50,408.54 L40.10,408.53 L40.70,408.52 L41.30,408.50 L41.90,408.48 L42.50,408.46 L43.10,408.44 L43.70,408.41 L44.30,408.38 L44.90,408.35 L45.50,408.31 L46.10,408.27 L46.70,408.22 L47.30,408.16 L47.90,408.10 L48.50,408.04 L49.10,407.96 L49.70,407.88 L50.30,407.79 L50.90,407.69 L51.50,407.57 L52.10,407.45 L52.70,407.30 L53.30,407.14 L53.90,406.95 L54.50,406.73 L55.10,406.47 L55.70,406.15 L56.30,405.78 L56.90,405.33 L57.50,404.80 L58.10,404.16 L58.70,403.40 L59.30,402.50 L59.90,401.46 L60.50,400.65 L61.10,398.83 L61.70,397.95 L62.30,395.76 L62.90,393.33 L63.50,392.55 L64.10,389.48 L64.70,388.23 L65.30,385.91 L65.90,386.26 L66.50,383.14 L67.10,382.53 L67.70,381.45 L68.30,381.57 L68.90,379.79 L69.50,380.83 L70.10,381.05 L70.70,381.80 L71.30,383.00 L71.90,383.38 L72.50,385.07 L73.10,386.51 L73.70,388.82 L74.30,389.45 L74.90,391.68 L75.50,392.46 L76.10,394.21 L76.70,395.22 L77.30,396.85 L77.90,398.40 L78.50,399.46 L79.10,400.60 L79.70,401.61 L80.30,402.53 L80.90,403.34 L81.50,404.06 L82.10,404.69 L82.70,405.24 L83.30,405.72 L83.90,406.12 L84.50,406.47 L85.10,406.77 L85.70,407.03 L86.30,407.25 L86.90,407.43 L87.50,407.59 L88.10,407.73 L88.70,407.85 L89.30,407.95 L89.90,408.04 L90.50,408.11 L91.10,408.18 L91.70,408.24 L92.30,408.29 L92.90,408.33 L93.50,408.37 L94.10,408.40 L94.70,408.43 L95.30,408.45 L95.90,408.48 L96.50,408.49 L97.10,408.51 L97.70,408.53 L98.30,408.54 L98.90,408.55 L99.50,408.56 L100.10,408.56 L100.70,408.57 L101.30,408.58 L101.90,408.58 L102.50,408.58 L103.10,408.59 L103.70,408.59 L104.30,408.59 L104.90,408.59 L105.50,408.59 L106.10,408.60 L106.70,408.60 L107.30,408.60 L107.90,408.60 L108.50,408.60 L109.10,408.60 L109.70,408.60 L110.30,408.60 L110.90,408.60 L111.50,408.60 L112.10,408.60 L112.70,408.60 L113.30,408.60 L113.90,408.60 L114.50,408.60 L115.10,408.60 L115.70,408.60 L116.30,408.60 L116.90,408.60 L117.50,408.60 L118.10,408.60 L118.70,408.60 L119.30,408.60 L119.90,408.60 L120.50,408.60 L121.10,408.60 L121.70,408.60 L122.30,408.60 L122.90,408.60 L123.50,408.60 L124.10,408.60 L124.70,408.60 L125.30,408.60 L125.90,408.60 L126.50,408.60 L127.10,408.60 L127.70,408.60 L128.30,408.60 L128.90,408.60 L129.50,408.60 L130.10,408.60 L130.70,408.60 L131.30,408.60 L131.90,408.60 L132.50,408.60 L133.10,408.60 L133.70,408.60 L134.30,408.60 L134.90,408.60 L135.50,408.60 L136.10,408.60 L136.70,408.60 L137.30,408.60 L137.90,408.60 L138.50,408.60 L139.10,408.60 L139.70,408.60 L140.30,408.60 L140.90,408.60 L141.50,408.60 L142.10,408.60" fill="none" stroke="#d42a80" stroke-width="1.1" stroke-linejoin="round"/>
<text x="0.00" y="0.00" font-size="4.9" text-anchor="end" font-weight="normal" fill="#161616" stroke="#161616" stroke-width="0.16" transform="translate(141.40,322.60) scale(1.1,1)">shNC 9.5%</text>
<text x="0.00" y="0.00" font-size="4.9" text-anchor="end" font-weight="normal" fill="#161616" stroke="#161616" stroke-width="0.16" transform="translate(141.40,339.20) scale(1.1,1)">shM 9.3%</text>
<text x="0.00" y="0.00" font-size="4.9" text-anchor="end" font-weight="normal" fill="#161616" stroke="#161616" stroke-width="0.16" transform="translate(141.40,355.80) scale(1.1,1)">shNC+RSL3 42.1%</text>
<text x="0.00" y="0.00" font-size="4.9" text-anchor="end" font-weight="normal" fill="#161616" stroke="#161616" stroke-width="0.16" transform="translate(141.40,372.60) scale(1.1,1)">shM+RSL3 13.5%</text>
<text x="0.00" y="0.00" font-size="4.9" text-anchor="end" font-weight="normal" fill="#161616" stroke="#161616" stroke-width="0.16" transform="translate(141.40,389.40) scale(1.1,1)">shNC+RSL3+Fer-1 11.4%</text>
<text x="0.00" y="0.00" font-size="4.9" text-anchor="end" font-weight="normal" fill="#161616" stroke="#161616" stroke-width="0.16" transform="translate(141.40,405.90) scale(1.1,1)">shM+RSL3+Fer-1 13.2%</text>
<line x1="74.60" y1="288.40" x2="74.60" y2="408.60" stroke="#111" stroke-width="1.0" stroke-dasharray="1.5,1.3"/>
<line x1="74.60" y1="306.40" x2="116.80" y2="306.40" stroke="#222" stroke-width="0.7"/>
<line x1="116.80" y1="304.80" x2="116.80" y2="308.00" stroke="#222" stroke-width="0.7"/>
<text x="0.00" y="0.00" font-size="5.0" text-anchor="start" font-weight="normal" fill="#333" stroke="#333" stroke-width="0.16" transform="translate(83.20,303.00) scale(1.1,1)">Lipid ROS</text>
<rect x="22.70" y="288.40" width="119.50" height="120.20" fill="none" stroke="#222" stroke-width="0.9"/>
<line x1="22.30" y1="408.60" x2="142.60" y2="408.60" stroke="#111" stroke-width="1.3"/>
<line x1="22.70" y1="408.60" x2="22.70" y2="411.80" stroke="#111" stroke-width="0.8"/>
<text x="21.50" y="422.40" font-size="6.2" text-anchor="middle" font-weight="normal" fill="#161616" stroke="#161616" stroke-width="0.16">10</text>
<text x="25.50" y="419.00" font-size="3.6" text-anchor="middle" font-weight="normal" fill="#161616" stroke="#161616" stroke-width="0.16">1</text>
<line x1="31.69" y1="408.60" x2="31.69" y2="410.50" stroke="#111" stroke-width="0.6"/>
<line x1="36.95" y1="408.60" x2="36.95" y2="410.50" stroke="#111" stroke-width="0.6"/>
<line x1="40.69" y1="408.60" x2="40.69" y2="410.50" stroke="#111" stroke-width="0.6"/>
<line x1="43.58" y1="408.60" x2="43.58" y2="410.50" stroke="#111" stroke-width="0.6"/>
<line x1="45.95" y1="408.60" x2="45.95" y2="410.50" stroke="#111" stroke-width="0.6"/>
<line x1="47.95" y1="408.60" x2="47.95" y2="410.50" stroke="#111" stroke-width="0.6"/>
<line x1="49.68" y1="408.60" x2="49.68" y2="410.50" stroke="#111" stroke-width="0.6"/>
<line x1="51.21" y1="408.60" x2="51.21" y2="410.50" stroke="#111" stroke-width="0.6"/>
<line x1="52.57" y1="408.60" x2="52.57" y2="411.80" stroke="#111" stroke-width="0.8"/>
<text x="51.37" y="422.40" font-size="6.2" text-anchor="middle" font-weight="normal" fill="#161616" stroke="#161616" stroke-width="0.16">10</text>
<text x="55.37" y="419.00" font-size="3.6" text-anchor="middle" font-weight="normal" fill="#161616" stroke="#161616" stroke-width="0.16">2</text>
<line x1="61.57" y1="408.60" x2="61.57" y2="410.50" stroke="#111" stroke-width="0.6"/>
<line x1="66.83" y1="408.60" x2="66.83" y2="410.50" stroke="#111" stroke-width="0.6"/>
<line x1="70.56" y1="408.60" x2="70.56" y2="410.50" stroke="#111" stroke-width="0.6"/>
<line x1="73.46" y1="408.60" x2="73.46" y2="410.50" stroke="#111" stroke-width="0.6"/>
<line x1="75.82" y1="408.60" x2="75.82" y2="410.50" stroke="#111" stroke-width="0.6"/>
<line x1="77.82" y1="408.60" x2="77.82" y2="410.50" stroke="#111" stroke-width="0.6"/>
<line x1="79.55" y1="408.60" x2="79.55" y2="410.50" stroke="#111" stroke-width="0.6"/>
<line x1="81.08" y1="408.60" x2="81.08" y2="410.50" stroke="#111" stroke-width="0.6"/>
<line x1="82.45" y1="408.60" x2="82.45" y2="411.80" stroke="#111" stroke-width="0.8"/>
<text x="81.25" y="422.40" font-size="6.2" text-anchor="middle" font-weight="normal" fill="#161616" stroke="#161616" stroke-width="0.16">10</text>
<text x="85.25" y="419.00" font-size="3.6" text-anchor="middle" font-weight="normal" fill="#161616" stroke="#161616" stroke-width="0.16">3</text>
<line x1="91.44" y1="408.60" x2="91.44" y2="410.50" stroke="#111" stroke-width="0.6"/>
<line x1="96.70" y1="408.60" x2="96.70" y2="410.50" stroke="#111" stroke-width="0.6"/>
<line x1="100.44" y1="408.60" x2="100.44" y2="410.50" stroke="#111" stroke-width="0.6"/>
<line x1="103.33" y1="408.60" x2="103.33" y2="410.50" stroke="#111" stroke-width="0.6"/>
<line x1="105.70" y1="408.60" x2="105.70" y2="410.50" stroke="#111" stroke-width="0.6"/>
<line x1="107.70" y1="408.60" x2="107.70" y2="410.50" stroke="#111" stroke-width="0.6"/>
<line x1="109.43" y1="408.60" x2="109.43" y2="410.50" stroke="#111" stroke-width="0.6"/>
<line x1="110.96" y1="408.60" x2="110.96" y2="410.50" stroke="#111" stroke-width="0.6"/>
<line x1="112.32" y1="408.60" x2="112.32" y2="411.80" stroke="#111" stroke-width="0.8"/>
<text x="111.12" y="422.40" font-size="6.2" text-anchor="middle" font-weight="normal" fill="#161616" stroke="#161616" stroke-width="0.16">10</text>
<text x="115.12" y="419.00" font-size="3.6" text-anchor="middle" font-weight="normal" fill="#161616" stroke="#161616" stroke-width="0.16">4</text>
<line x1="121.32" y1="408.60" x2="121.32" y2="410.50" stroke="#111" stroke-width="0.6"/>
<line x1="126.58" y1="408.60" x2="126.58" y2="410.50" stroke="#111" stroke-width="0.6"/>
<line x1="130.31" y1="408.60" x2="130.31" y2="410.50" stroke="#111" stroke-width="0.6"/>
<line x1="133.21" y1="408.60" x2="133.21" y2="410.50" stroke="#111" stroke-width="0.6"/>
<line x1="135.57" y1="408.60" x2="135.57" y2="410.50" stroke="#111" stroke-width="0.6"/>
<line x1="137.57" y1="408.60" x2="137.57" y2="410.50" stroke="#111" stroke-width="0.6"/>
<line x1="139.30" y1="408.60" x2="139.30" y2="410.50" stroke="#111" stroke-width="0.6"/>
<line x1="140.83" y1="408.60" x2="140.83" y2="410.50" stroke="#111" stroke-width="0.6"/>
<line x1="142.20" y1="408.60" x2="142.20" y2="411.80" stroke="#111" stroke-width="0.8"/>
<text x="141.00" y="422.40" font-size="6.2" text-anchor="middle" font-weight="normal" fill="#161616" stroke="#161616" stroke-width="0.16">10</text>
<text x="145.00" y="419.00" font-size="3.6" text-anchor="middle" font-weight="normal" fill="#161616" stroke="#161616" stroke-width="0.16">5</text>
<text x="0.00" y="0.00" font-size="8.2" text-anchor="middle" font-weight="bold" fill="#161616" stroke="#161616" stroke-width="0.1" transform="translate(82.45,434.60) scale(0.7,1)">FITC-A</text>
<text x="0.00" y="0.00" font-size="8.1" text-anchor="middle" font-weight="normal" fill="#161616" stroke="#161616" stroke-width="0.16" transform="translate(217.30,283.30) scale(1.09,1)">OPM-2</text>
<path d="M158.10,325.30 L158.10,325.30 L158.70,325.30 L159.30,325.30 L159.90,325.30 L160.50,325.30 L161.10,325.30 L161.70,325.30 L162.30,325.30 L162.90,325.30 L163.50,325.30 L164.10,325.30 L164.70,325.30 L165.30,325.30 L165.90,325.30 L166.50,325.30 L167.10,325.30 L167.70,325.30 L168.30,325.30 L168.90,325.30 L169.50,325.30 L170.10,325.30 L170.70,325.30 L171.30,325.29 L171.90,325.29 L172.50,325.29 L173.10,325.29 L173.70,325.28 L174.30,325.28 L174.90,325.27 L175.50,325.26 L176.10,325.25 L176.70,325.24 L177.30,325.23 L177.90,325.21 L178.50,325.19 L179.10,325.17 L179.70,325.14 L180.30,325.10 L180.90,325.07 L181.50,325.02 L182.10,324.97 L182.70,324.91 L183.30,324.84 L183.90,324.76 L184.50,324.68 L185.10,324.58 L185.70,324.47 L186.30,324.35 L186.90,324.21 L187.50,324.06 L188.10,323.88 L188.70,323.68 L189.30,323.44 L189.90,323.15 L190.50,322.79 L191.10,322.36 L191.70,321.81 L192.30,321.13 L192.90,320.29 L193.50,319.24 L194.10,317.96 L194.70,316.44 L195.30,314.54 L195.90,312.24 L196.50,309.97 L197.10,308.34 L197.70,305.50 L198.30,302.51 L198.90,300.73 L199.50,298.09 L200.10,296.27 L200.70,295.98 L201.30,295.16 L201.90,294.19 L202.50,295.61 L203.10,296.60 L203.70,297.30 L204.30,299.20 L204.90,301.85 L205.50,305.04 L206.10,306.94 L206.70,310.08 L207.30,311.98 L207.90,314.62 L208.50,316.34 L209.10,318.06 L209.70,319.50 L210.30,320.70 L210.90,321.66 L211.50,322.43 L212.10,323.02 L212.70,323.49 L213.30,323.85 L213.90,324.12 L214.50,324.34 L215.10,324.51 L215.70,324.64 L216.30,324.75 L216.90,324.84 L217.50,324.92 L218.10,324.98 L218.70,325.03 L219.30,325.08 L219.90,325.12 L220.50,325.15 L221.10,325.17 L221.70,325.20 L222.30,325.22 L222.90,325.23 L223.50,325.25 L224.10,325.26 L224.70,325.27 L225.30,325.27 L225.90,325.28 L226.50,325.28 L227.10,325.29 L227.70,325.29 L228.30,325.29 L228.90,325.29 L229.50,325.30 L230.10,325.30 L230.70,325.30 L231.30,325.30 L231.90,325.30 L232.50,325.30 L233.10,325.30 L233.70,325.30 L234.30,325.30 L234.90,325.30 L235.50,325.30 L236.10,325.30 L236.70,325.30 L237.30,325.30 L237.90,325.30 L238.50,325.30 L239.10,325.30 L239.70,325.30 L240.30,325.30 L240.90,325.30 L241.50,325.30 L242.10,325.30 L242.70,325.30 L243.30,325.30 L243.90,325.30 L244.50,325.30 L245.10,325.30 L245.70,325.30 L246.30,325.30 L246.90,325.30 L247.50,325.30 L248.10,325.30 L248.70,325.30 L249.30,325.30 L249.90,325.30 L250.50,325.30 L251.10,325.30 L251.70,325.30 L252.30,325.30 L252.90,325.30 L253.50,325.30 L254.10,325.30 L254.70,325.30 L255.30,325.30 L255.90,325.30 L256.50,325.30 L257.10,325.30 L257.70,325.30 L258.30,325.30 L258.90,325.30 L259.50,325.30 L260.10,325.30 L260.70,325.30 L261.30,325.30 L261.90,325.30 L262.50,325.30 L263.10,325.30 L263.70,325.30 L264.30,325.30 L264.90,325.30 L265.50,325.30 L266.10,325.30 L266.70,325.30 L267.30,325.30 L267.90,325.30 L268.50,325.30 L269.10,325.30 L269.70,325.30 L270.30,325.30 L270.90,325.30 L271.50,325.30 L272.10,325.30 L272.70,325.30 L273.30,325.30 L273.90,325.30 L274.50,325.30 L275.10,325.30 L275.70,325.30 L276.30,325.30 L276.50,325.30 Z" fill="#3f65ab" stroke="none" stroke-width="0" fill-opacity="0.75"/>
<path d="M158.10,325.30 L158.10,325.30 L158.70,325.30 L159.30,325.30 L159.90,325.30 L160.50,325.30 L161.10,325.30 L161.70,325.30 L162.30,325.30 L162.90,325.30 L163.50,325.30 L164.10,325.30 L164.70,325.30 L165.30,325.30 L165.90,325.30 L166.50,325.30 L167.10,325.30 L167.70,325.30 L168.30,325.30 L168.90,325.30 L169.50,325.30 L170.10,325.30 L170.70,325.30 L171.30,325.29 L171.90,325.29 L172.50,325.29 L173.10,325.29 L173.70,325.28 L174.30,325.28 L174.90,325.27 L175.50,325.26 L176.10,325.25 L176.70,325.24 L177.30,325.23 L177.90,325.21 L178.50,325.19 L179.10,325.17 L179.70,325.14 L180.30,325.10 L180.90,325.07 L181.50,325.02 L182.10,324.97 L182.70,324.91 L183.30,324.84 L183.90,324.76 L184.50,324.68 L185.10,324.58 L185.70,324.47 L186.30,324.35 L186.90,324.21 L187.50,324.06 L188.10,323.88 L188.70,323.68 L189.30,323.44 L189.90,323.15 L190.50,322.79 L191.10,322.36 L191.70,321.81 L192.30,321.13 L192.90,320.29 L193.50,319.24 L194.10,317.96 L194.70,316.44 L195.30,314.54 L195.90,312.24 L196.50,309.97 L197.10,308.34 L197.70,305.50 L198.30,302.51 L198.90,300.73 L199.50,298.09 L200.10,296.27 L200.70,295.98 L201.30,295.16 L201.90,294.19 L202.50,295.61 L203.10,296.60 L203.70,297.30 L204.30,299.20 L204.90,301.85 L205.50,305.04 L206.10,306.94 L206.70,310.08 L207.30,311.98 L207.90,314.62 L208.50,316.34 L209.10,318.06 L209.70,319.50 L210.30,320.70 L210.90,321.66 L211.50,322.43 L212.10,323.02 L212.70,323.49 L213.30,323.85 L213.90,324.12 L214.50,324.34 L215.10,324.51 L215.70,324.64 L216.30,324.75 L216.90,324.84 L217.50,324.92 L218.10,324.98 L218.70,325.03 L219.30,325.08 L219.90,325.12 L220.50,325.15 L221.10,325.17 L221.70,325.20 L222.30,325.22 L222.90,325.23 L223.50,325.25 L224.10,325.26 L224.70,325.27 L225.30,325.27 L225.90,325.28 L226.50,325.28 L227.10,325.29 L227.70,325.29 L228.30,325.29 L228.90,325.29 L229.50,325.30 L230.10,325.30 L230.70,325.30 L231.30,325.30 L231.90,325.30 L232.50,325.30 L233.10,325.30 L233.70,325.30 L234.30,325.30 L234.90,325.30 L235.50,325.30 L236.10,325.30 L236.70,325.30 L237.30,325.30 L237.90,325.30 L238.50,325.30 L239.10,325.30 L239.70,325.30 L240.30,325.30 L240.90,325.30 L241.50,325.30 L242.10,325.30 L242.70,325.30 L243.30,325.30 L243.90,325.30 L244.50,325.30 L245.10,325.30 L245.70,325.30 L246.30,325.30 L246.90,325.30 L247.50,325.30 L248.10,325.30 L248.70,325.30 L249.30,325.30 L249.90,325.30 L250.50,325.30 L251.10,325.30 L251.70,325.30 L252.30,325.30 L252.90,325.30 L253.50,325.30 L254.10,325.30 L254.70,325.30 L255.30,325.30 L255.90,325.30 L256.50,325.30 L257.10,325.30 L257.70,325.30 L258.30,325.30 L258.90,325.30 L259.50,325.30 L260.10,325.30 L260.70,325.30 L261.30,325.30 L261.90,325.30 L262.50,325.30 L263.10,325.30 L263.70,325.30 L264.30,325.30 L264.90,325.30 L265.50,325.30 L266.10,325.30 L266.70,325.30 L267.30,325.30 L267.90,325.30 L268.50,325.30 L269.10,325.30 L269.70,325.30 L270.30,325.30 L270.90,325.30 L271.50,325.30 L272.10,325.30 L272.70,325.30 L273.30,325.30 L273.90,325.30 L274.50,325.30 L275.10,325.30 L275.70,325.30 L276.30,325.30" fill="none" stroke="#34568f" stroke-width="1.1" stroke-linejoin="round"/>
<path d="M158.10,341.90 L158.10,341.90 L158.70,341.90 L159.30,341.90 L159.90,341.90 L160.50,341.90 L161.10,341.90 L161.70,341.90 L162.30,341.90 L162.90,341.90 L163.50,341.90 L164.10,341.90 L164.70,341.90 L165.30,341.90 L165.90,341.90 L166.50,341.90 L167.10,341.90 L167.70,341.90 L168.30,341.90 L168.90,341.90 L169.50,341.90 L170.10,341.90 L170.70,341.90 L171.30,341.90 L171.90,341.90 L172.50,341.90 L173.10,341.90 L173.70,341.90 L174.30,341.90 L174.90,341.90 L175.50,341.90 L176.10,341.89 L176.70,341.89 L177.30,341.89 L177.90,341.89 L178.50,341.88 L179.10,341.88 L179.70,341.87 L180.30,341.87 L180.90,341.86 L181.50,341.85 L182.10,341.83 L182.70,341.82 L183.30,341.80 L183.90,341.78 L184.50,341.75 L185.10,341.72 L185.70,341.68 L186.30,341.64 L186.90,341.59 L187.50,341.54 L188.10,341.47 L188.70,341.40 L189.30,341.32 L189.90,341.23 L190.50,341.13 L191.10,341.02 L191.70,340.89 L192.30,340.76 L192.90,340.60 L193.50,340.43 L194.10,340.22 L194.70,339.98 L195.30,339.68 L195.90,339.29 L196.50,338.80 L197.10,338.17 L197.70,337.34 L198.30,336.27 L198.90,334.92 L199.50,333.25 L200.10,331.55 L200.70,328.56 L201.30,325.95 L201.90,324.00 L202.50,321.02 L203.10,318.41 L203.70,314.87 L204.30,313.21 L204.90,312.46 L205.50,311.53 L206.10,311.06 L206.70,312.69 L207.30,312.86 L207.90,314.07 L208.50,316.86 L209.10,317.81 L209.70,319.82 L210.30,323.17 L210.90,324.97 L211.50,327.06 L212.10,329.06 L212.70,331.34 L213.30,332.82 L213.90,334.35 L214.50,335.69 L215.10,336.83 L215.70,337.78 L216.30,338.57 L216.90,339.22 L217.50,339.74 L218.10,340.16 L218.70,340.50 L219.30,340.76 L219.90,340.97 L220.50,341.14 L221.10,341.28 L221.70,341.39 L222.30,341.48 L222.90,341.55 L223.50,341.61 L224.10,341.66 L224.70,341.70 L225.30,341.74 L225.90,341.77 L226.50,341.79 L227.10,341.81 L227.70,341.83 L228.30,341.84 L228.90,341.85 L229.50,341.86 L230.10,341.87 L230.70,341.88 L231.30,341.88 L231.90,341.89 L232.50,341.89 L233.10,341.89 L233.70,341.89 L234.30,341.90 L234.90,341.90 L235.50,341.90 L236.10,341.90 L236.70,341.90 L237.30,341.90 L237.90,341.90 L238.50,341.90 L239.10,341.90 L239.70,341.90 L240.30,341.90 L240.90,341.90 L241.50,341.90 L242.10,341.90 L242.70,341.90 L243.30,341.90 L243.90,341.90 L244.50,341.90 L245.10,341.90 L245.70,341.90 L246.30,341.90 L246.90,341.90 L247.50,341.90 L248.10,341.90 L248.70,341.90 L249.30,341.90 L249.90,341.90 L250.50,341.90 L251.10,341.90 L251.70,341.90 L252.30,341.90 L252.90,341.90 L253.50,341.90 L254.10,341.90 L254.70,341.90 L255.30,341.90 L255.90,341.90 L256.50,341.90 L257.10,341.90 L257.70,341.90 L258.30,341.90 L258.90,341.90 L259.50,341.90 L260.10,341.90 L260.70,341.90 L261.30,341.90 L261.90,341.90 L262.50,341.90 L263.10,341.90 L263.70,341.90 L264.30,341.90 L264.90,341.90 L265.50,341.90 L266.10,341.90 L266.70,341.90 L267.30,341.90 L267.90,341.90 L268.50,341.90 L269.10,341.90 L269.70,341.90 L270.30,341.90 L270.90,341.90 L271.50,341.90 L272.10,341.90 L272.70,341.90 L273.30,341.90 L273.90,341.90 L274.50,341.90 L275.10,341.90 L275.70,341.90 L276.30,341.90 L276.50,341.90 Z" fill="#dc6363" stroke="none" stroke-width="0" fill-opacity="0.75"/>
<path d="M158.10,341.90 L158.10,341.90 L158.70,341.90 L159.30,341.90 L159.90,341.90 L160.50,341.90 L161.10,341.90 L161.70,341.90 L162.30,341.90 L162.90,341.90 L163.50,341.90 L164.10,341.90 L164.70,341.90 L165.30,341.90 L165.90,341.90 L166.50,341.90 L167.10,341.90 L167.70,341.90 L168.30,341.90 L168.90,341.90 L169.50,341.90 L170.10,341.90 L170.70,341.90 L171.30,341.90 L171.90,341.90 L172.50,341.90 L173.10,341.90 L173.70,341.90 L174.30,341.90 L174.90,341.90 L175.50,341.90 L176.10,341.89 L176.70,341.89 L177.30,341.89 L177.90,341.89 L178.50,341.88 L179.10,341.88 L179.70,341.87 L180.30,341.87 L180.90,341.86 L181.50,341.85 L182.10,341.83 L182.70,341.82 L183.30,341.80 L183.90,341.78 L184.50,341.75 L185.10,341.72 L185.70,341.68 L186.30,341.64 L186.90,341.59 L187.50,341.54 L188.10,341.47 L188.70,341.40 L189.30,341.32 L189.90,341.23 L190.50,341.13 L191.10,341.02 L191.70,340.89 L192.30,340.76 L192.90,340.60 L193.50,340.43 L194.10,340.22 L194.70,339.98 L195.30,339.68 L195.90,339.29 L196.50,338.80 L197.10,338.17 L197.70,337.34 L198.30,336.27 L198.90,334.92 L199.50,333.25 L200.10,331.55 L200.70,328.56 L201.30,325.95 L201.90,324.00 L202.50,321.02 L203.10,318.41 L203.70,314.87 L204.30,313.21 L204.90,312.46 L205.50,311.53 L206.10,311.06 L206.70,312.69 L207.30,312.86 L207.90,314.07 L208.50,316.86 L209.10,317.81 L209.70,319.82 L210.30,323.17 L210.90,324.97 L211.50,327.06 L212.10,329.06 L212.70,331.34 L213.30,332.82 L213.90,334.35 L214.50,335.69 L215.10,336.83 L215.70,337.78 L216.30,338.57 L216.90,339.22 L217.50,339.74 L218.10,340.16 L218.70,340.50 L219.30,340.76 L219.90,340.97 L220.50,341.14 L221.10,341.28 L221.70,341.39 L222.30,341.48 L222.90,341.55 L223.50,341.61 L224.10,341.66 L224.70,341.70 L225.30,341.74 L225.90,341.77 L226.50,341.79 L227.10,341.81 L227.70,341.83 L228.30,341.84 L228.90,341.85 L229.50,341.86 L230.10,341.87 L230.70,341.88 L231.30,341.88 L231.90,341.89 L232.50,341.89 L233.10,341.89 L233.70,341.89 L234.30,341.90 L234.90,341.90 L235.50,341.90 L236.10,341.90 L236.70,341.90 L237.30,341.90 L237.90,341.90 L238.50,341.90 L239.10,341.90 L239.70,341.90 L240.30,341.90 L240.90,341.90 L241.50,341.90 L242.10,341.90 L242.70,341.90 L243.30,341.90 L243.90,341.90 L244.50,341.90 L245.10,341.90 L245.70,341.90 L246.30,341.90 L246.90,341.90 L247.50,341.90 L248.10,341.90 L248.70,341.90 L249.30,341.90 L249.90,341.90 L250.50,341.90 L251.10,341.90 L251.70,341.90 L252.30,341.90 L252.90,341.90 L253.50,341.90 L254.10,341.90 L254.70,341.90 L255.30,341.90 L255.90,341.90 L256.50,341.90 L257.10,341.90 L257.70,341.90 L258.30,341.90 L258.90,341.90 L259.50,341.90 L260.10,341.90 L260.70,341.90 L261.30,341.90 L261.90,341.90 L262.50,341.90 L263.10,341.90 L263.70,341.90 L264.30,341.90 L264.90,341.90 L265.50,341.90 L266.10,341.90 L266.70,341.90 L267.30,341.90 L267.90,341.90 L268.50,341.90 L269.10,341.90 L269.70,341.90 L270.30,341.90 L270.90,341.90 L271.50,341.90 L272.10,341.90 L272.70,341.90 L273.30,341.90 L273.90,341.90 L274.50,341.90 L275.10,341.90 L275.70,341.90 L276.30,341.90" fill="none" stroke="#c22f4a" stroke-width="1.1" stroke-linejoin="round"/>
<path d="M158.10,358.40 L158.10,358.39 L158.70,358.39 L159.30,358.39 L159.90,358.39 L160.50,358.38 L161.10,358.38 L161.70,358.38 L162.30,358.37 L162.90,358.37 L163.50,358.37 L164.10,358.36 L164.70,358.36 L165.30,358.35 L165.90,358.35 L166.50,358.34 L167.10,358.33 L167.70,358.32 L168.30,358.31 L168.90,358.30 L169.50,358.29 L170.10,358.28 L170.70,358.27 L171.30,358.25 L171.90,358.24 L172.50,358.22 L173.10,358.20 L173.70,358.18 L174.30,358.16 L174.90,358.13 L175.50,358.11 L176.10,358.08 L176.70,358.05 L177.30,358.02 L177.90,357.99 L178.50,357.95 L179.10,357.91 L179.70,357.87 L180.30,357.83 L180.90,357.79 L181.50,357.74 L182.10,357.69 L182.70,357.64 L183.30,357.58 L183.90,357.52 L184.50,357.45 L185.10,357.39 L185.70,357.31 L186.30,357.24 L186.90,357.15 L187.50,357.06 L188.10,356.97 L188.70,356.86 L189.30,356.75 L189.90,356.62 L190.50,356.48 L191.10,356.33 L191.70,356.16 L192.30,355.98 L192.90,355.77 L193.50,355.55 L194.10,355.30 L194.70,355.04 L195.30,354.75 L195.90,354.43 L196.50,354.09 L197.10,353.73 L197.70,353.34 L198.30,352.94 L198.90,352.51 L199.50,352.11 L200.10,351.70 L200.70,351.07 L201.30,350.64 L201.90,350.13 L202.50,349.84 L203.10,349.42 L203.70,348.83 L204.30,348.58 L204.90,348.17 L205.50,348.11 L206.10,347.46 L206.70,347.31 L207.30,347.28 L207.90,346.88 L208.50,346.39 L209.10,346.56 L209.70,346.28 L210.30,345.92 L210.90,345.68 L211.50,345.45 L212.10,344.68 L212.70,344.24 L213.30,343.72 L213.90,342.87 L214.50,342.53 L215.10,341.80 L215.70,341.05 L216.30,340.46 L216.90,340.05 L217.50,339.21 L218.10,339.08 L218.70,338.54 L219.30,338.21 L219.90,338.61 L220.50,338.97 L221.10,339.28 L221.70,340.87 L222.30,341.78 L222.90,343.22 L223.50,344.47 L224.10,346.03 L224.70,347.54 L225.30,348.92 L225.90,350.31 L226.50,351.69 L227.10,352.98 L227.70,354.03 L228.30,354.94 L228.90,355.70 L229.50,356.33 L230.10,356.84 L230.70,357.24 L231.30,357.55 L231.90,357.78 L232.50,357.96 L233.10,358.09 L233.70,358.18 L234.30,358.25 L234.90,358.29 L235.50,358.33 L236.10,358.35 L236.70,358.36 L237.30,358.37 L237.90,358.38 L238.50,358.39 L239.10,358.39 L239.70,358.39 L240.30,358.39 L240.90,358.40 L241.50,358.40 L242.10,358.40 L242.70,358.40 L243.30,358.40 L243.90,358.40 L244.50,358.40 L245.10,358.40 L245.70,358.40 L246.30,358.40 L246.90,358.40 L247.50,358.40 L248.10,358.40 L248.70,358.40 L249.30,358.40 L249.90,358.40 L250.50,358.40 L251.10,358.40 L251.70,358.40 L252.30,358.40 L252.90,358.40 L253.50,358.40 L254.10,358.40 L254.70,358.40 L255.30,358.40 L255.90,358.40 L256.50,358.40 L257.10,358.40 L257.70,358.40 L258.30,358.40 L258.90,358.40 L259.50,358.40 L260.10,358.40 L260.70,358.40 L261.30,358.40 L261.90,358.40 L262.50,358.40 L263.10,358.40 L263.70,358.40 L264.30,358.40 L264.90,358.40 L265.50,358.40 L266.10,358.40 L266.70,358.40 L267.30,358.40 L267.90,358.40 L268.50,358.40 L269.10,358.40 L269.70,358.40 L270.30,358.40 L270.90,358.40 L271.50,358.40 L272.10,358.40 L272.70,358.40 L273.30,358.40 L273.90,358.40 L274.50,358.40 L275.10,358.40 L275.70,358.40 L276.30,358.40 L276.50,358.40 Z" fill="#8bc86f" stroke="none" stroke-width="0" fill-opacity="0.64"/>
<path d="M158.10,358.39 L158.10,358.39 L158.70,358.39 L159.30,358.39 L159.90,358.39 L160.50,358.38 L161.10,358.38 L161.70,358.38 L162.30,358.37 L162.90,358.37 L163.50,358.37 L164.10,358.36 L164.70,358.36 L165.30,358.35 L165.90,358.35 L166.50,358.34 L167.10,358.33 L167.70,358.32 L168.30,358.31 L168.90,358.30 L169.50,358.29 L170.10,358.28 L170.70,358.27 L171.30,358.25 L171.90,358.24 L172.50,358.22 L173.10,358.20 L173.70,358.18 L174.30,358.16 L174.90,358.13 L175.50,358.11 L176.10,358.08 L176.70,358.05 L177.30,358.02 L177.90,357.99 L178.50,357.95 L179.10,357.91 L179.70,357.87 L180.30,357.83 L180.90,357.79 L181.50,357.74 L182.10,357.69 L182.70,357.64 L183.30,357.58 L183.90,357.52 L184.50,357.45 L185.10,357.39 L185.70,357.31 L186.30,357.24 L186.90,357.15 L187.50,357.06 L188.10,356.97 L188.70,356.86 L189.30,356.75 L189.90,356.62 L190.50,356.48 L191.10,356.33 L191.70,356.16 L192.30,355.98 L192.90,355.77 L193.50,355.55 L194.10,355.30 L194.70,355.04 L195.30,354.75 L195.90,354.43 L196.50,354.09 L197.10,353.73 L197.70,353.34 L198.30,352.94 L198.90,352.51 L199.50,352.11 L200.10,351.70 L200.70,351.07 L201.30,350.64 L201.90,350.13 L202.50,349.84 L203.10,349.42 L203.70,348.83 L204.30,348.58 L204.90,348.17 L205.50,348.11 L206.10,347.46 L206.70,347.31 L207.30,347.28 L207.90,346.88 L208.50,346.39 L209.10,346.56 L209.70,346.28 L210.30,345.92 L210.90,345.68 L211.50,345.45 L212.10,344.68 L212.70,344.24 L213.30,343.72 L213.90,342.87 L214.50,342.53 L215.10,341.80 L215.70,341.05 L216.30,340.46 L216.90,340.05 L217.50,339.21 L218.10,339.08 L218.70,338.54 L219.30,338.21 L219.90,338.61 L220.50,338.97 L221.10,339.28 L221.70,340.87 L222.30,341.78 L222.90,343.22 L223.50,344.47 L224.10,346.03 L224.70,347.54 L225.30,348.92 L225.90,350.31 L226.50,351.69 L227.10,352.98 L227.70,354.03 L228.30,354.94 L228.90,355.70 L229.50,356.33 L230.10,356.84 L230.70,357.24 L231.30,357.55 L231.90,357.78 L232.50,357.96 L233.10,358.09 L233.70,358.18 L234.30,358.25 L234.90,358.29 L235.50,358.33 L236.10,358.35 L236.70,358.36 L237.30,358.37 L237.90,358.38 L238.50,358.39 L239.10,358.39 L239.70,358.39 L240.30,358.39 L240.90,358.40 L241.50,358.40 L242.10,358.40 L242.70,358.40 L243.30,358.40 L243.90,358.40 L244.50,358.40 L245.10,358.40 L245.70,358.40 L246.30,358.40 L246.90,358.40 L247.50,358.40 L248.10,358.40 L248.70,358.40 L249.30,358.40 L249.90,358.40 L250.50,358.40 L251.10,358.40 L251.70,358.40 L252.30,358.40 L252.90,358.40 L253.50,358.40 L254.10,358.40 L254.70,358.40 L255.30,358.40 L255.90,358.40 L256.50,358.40 L257.10,358.40 L257.70,358.40 L258.30,358.40 L258.90,358.40 L259.50,358.40 L260.10,358.40 L260.70,358.40 L261.30,358.40 L261.90,358.40 L262.50,358.40 L263.10,358.40 L263.70,358.40 L264.30,358.40 L264.90,358.40 L265.50,358.40 L266.10,358.40 L266.70,358.40 L267.30,358.40 L267.90,358.40 L268.50,358.40 L269.10,358.40 L269.70,358.40 L270.30,358.40 L270.90,358.40 L271.50,358.40 L272.10,358.40 L272.70,358.40 L273.30,358.40 L273.90,358.40 L274.50,358.40 L275.10,358.40 L275.70,358.40 L276.30,358.40" fill="none" stroke="#58b458" stroke-width="1.1" stroke-linejoin="round"/>
<path d="M158.10,375.30 L158.10,375.30 L158.70,375.30 L159.30,375.30 L159.90,375.30 L160.50,375.30 L161.10,375.30 L161.70,375.30 L162.30,375.30 L162.90,375.30 L163.50,375.30 L164.10,375.30 L164.70,375.30 L165.30,375.30 L165.90,375.30 L166.50,375.30 L167.10,375.30 L167.70,375.30 L168.30,375.30 L168.90,375.30 L169.50,375.30 L170.10,375.30 L170.70,375.30 L171.30,375.30 L171.90,375.30 L172.50,375.30 L173.10,375.30 L173.70,375.30 L174.30,375.30 L174.90,375.30 L175.50,375.30 L176.10,375.30 L176.70,375.30 L177.30,375.30 L177.90,375.30 L178.50,375.30 L179.10,375.30 L179.70,375.29 L180.30,375.29 L180.90,375.29 L181.50,375.29 L182.10,375.29 L182.70,375.29 L183.30,375.29 L183.90,375.29 L184.50,375.28 L185.10,375.28 L185.70,375.28 L186.30,375.28 L186.90,375.27 L187.50,375.27 L188.10,375.27 L188.70,375.26 L189.30,375.26 L189.90,375.25 L190.50,375.24 L191.10,375.24 L191.70,375.23 L192.30,375.22 L192.90,375.21 L193.50,375.19 L194.10,375.17 L194.70,375.13 L195.30,375.09 L195.90,375.01 L196.50,374.91 L197.10,374.74 L197.70,374.51 L198.30,374.17 L198.90,373.69 L199.50,373.05 L200.10,372.20 L200.70,371.13 L201.30,369.81 L201.90,368.09 L202.50,366.67 L203.10,364.41 L203.70,363.00 L204.30,360.74 L204.90,359.07 L205.50,358.04 L206.10,356.11 L206.70,355.25 L207.30,355.78 L207.90,355.22 L208.50,355.61 L209.10,355.60 L209.70,355.87 L210.30,357.20 L210.90,357.19 L211.50,358.43 L212.10,359.47 L212.70,360.88 L213.30,361.83 L213.90,362.67 L214.50,363.19 L215.10,363.98 L215.70,365.09 L216.30,365.33 L216.90,366.22 L217.50,366.30 L218.10,366.76 L218.70,367.34 L219.30,367.22 L219.90,367.81 L220.50,367.79 L221.10,367.87 L221.70,367.97 L222.30,368.49 L222.90,368.43 L223.50,368.73 L224.10,368.85 L224.70,369.02 L225.30,368.97 L225.90,369.02 L226.50,369.32 L227.10,369.47 L227.70,369.62 L228.30,369.78 L228.90,369.93 L229.50,370.09 L230.10,370.25 L230.70,370.42 L231.30,370.58 L231.90,370.74 L232.50,370.91 L233.10,371.07 L233.70,371.23 L234.30,371.39 L234.90,371.55 L235.50,371.71 L236.10,371.87 L236.70,372.02 L237.30,372.17 L237.90,372.32 L238.50,372.46 L239.10,372.60 L239.70,372.74 L240.30,372.88 L240.90,373.01 L241.50,373.13 L242.10,373.25 L242.70,373.37 L243.30,373.49 L243.90,373.59 L244.50,373.70 L245.10,373.80 L245.70,373.90 L246.30,373.99 L246.90,374.08 L247.50,374.16 L248.10,374.24 L248.70,374.32 L249.30,374.39 L249.90,374.45 L250.50,374.52 L251.10,374.58 L251.70,374.63 L252.30,374.69 L252.90,374.74 L253.50,374.78 L254.10,374.83 L254.70,374.87 L255.30,374.91 L255.90,374.94 L256.50,374.97 L257.10,375.00 L257.70,375.03 L258.30,375.06 L258.90,375.08 L259.50,375.10 L260.10,375.12 L260.70,375.14 L261.30,375.15 L261.90,375.17 L262.50,375.18 L263.10,375.20 L263.70,375.21 L264.30,375.22 L264.90,375.23 L265.50,375.23 L266.10,375.24 L266.70,375.25 L267.30,375.25 L267.90,375.26 L268.50,375.26 L269.10,375.27 L269.70,375.27 L270.30,375.28 L270.90,375.28 L271.50,375.28 L272.10,375.28 L272.70,375.29 L273.30,375.29 L273.90,375.29 L274.50,375.29 L275.10,375.29 L275.70,375.29 L276.30,375.29 L276.50,375.30 Z" fill="#fbc578" stroke="none" stroke-width="0" fill-opacity="0.66"/>
<path d="M158.10,375.30 L158.10,375.30 L158.70,375.30 L159.30,375.30 L159.90,375.30 L160.50,375.30 L161.10,375.30 L161.70,375.30 L162.30,375.30 L162.90,375.30 L163.50,375.30 L164.10,375.30 L164.70,375.30 L165.30,375.30 L165.90,375.30 L166.50,375.30 L167.10,375.30 L167.70,375.30 L168.30,375.30 L168.90,375.30 L169.50,375.30 L170.10,375.30 L170.70,375.30 L171.30,375.30 L171.90,375.30 L172.50,375.30 L173.10,375.30 L173.70,375.30 L174.30,375.30 L174.90,375.30 L175.50,375.30 L176.10,375.30 L176.70,375.30 L177.30,375.30 L177.90,375.30 L178.50,375.30 L179.10,375.30 L179.70,375.29 L180.30,375.29 L180.90,375.29 L181.50,375.29 L182.10,375.29 L182.70,375.29 L183.30,375.29 L183.90,375.29 L184.50,375.28 L185.10,375.28 L185.70,375.28 L186.30,375.28 L186.90,375.27 L187.50,375.27 L188.10,375.27 L188.70,375.26 L189.30,375.26 L189.90,375.25 L190.50,375.24 L191.10,375.24 L191.70,375.23 L192.30,375.22 L192.90,375.21 L193.50,375.19 L194.10,375.17 L194.70,375.13 L195.30,375.09 L195.90,375.01 L196.50,374.91 L197.10,374.74 L197.70,374.51 L198.30,374.17 L198.90,373.69 L199.50,373.05 L200.10,372.20 L200.70,371.13 L201.30,369.81 L201.90,368.09 L202.50,366.67 L203.10,364.41 L203.70,363.00 L204.30,360.74 L204.90,359.07 L205.50,358.04 L206.10,356.11 L206.70,355.25 L207.30,355.78 L207.90,355.22 L208.50,355.61 L209.10,355.60 L209.70,355.87 L210.30,357.20 L210.90,357.19 L211.50,358.43 L212.10,359.47 L212.70,360.88 L213.30,361.83 L213.90,362.67 L214.50,363.19 L215.10,363.98 L215.70,365.09 L216.30,365.33 L216.90,366.22 L217.50,366.30 L218.10,366.76 L218.70,367.34 L219.30,367.22 L219.90,367.81 L220.50,367.79 L221.10,367.87 L221.70,367.97 L222.30,368.49 L222.90,368.43 L223.50,368.73 L224.10,368.85 L224.70,369.02 L225.30,368.97 L225.90,369.02 L226.50,369.32 L227.10,369.47 L227.70,369.62 L228.30,369.78 L228.90,369.93 L229.50,370.09 L230.10,370.25 L230.70,370.42 L231.30,370.58 L231.90,370.74 L232.50,370.91 L233.10,371.07 L233.70,371.23 L234.30,371.39 L234.90,371.55 L235.50,371.71 L236.10,371.87 L236.70,372.02 L237.30,372.17 L237.90,372.32 L238.50,372.46 L239.10,372.60 L239.70,372.74 L240.30,372.88 L240.90,373.01 L241.50,373.13 L242.10,373.25 L242.70,373.37 L243.30,373.49 L243.90,373.59 L244.50,373.70 L245.10,373.80 L245.70,373.90 L246.30,373.99 L246.90,374.08 L247.50,374.16 L248.10,374.24 L248.70,374.32 L249.30,374.39 L249.90,374.45 L250.50,374.52 L251.10,374.58 L251.70,374.63 L252.30,374.69 L252.90,374.74 L253.50,374.78 L254.10,374.83 L254.70,374.87 L255.30,374.91 L255.90,374.94 L256.50,374.97 L257.10,375.00 L257.70,375.03 L258.30,375.06 L258.90,375.08 L259.50,375.10 L260.10,375.12 L260.70,375.14 L261.30,375.15 L261.90,375.17 L262.50,375.18 L263.10,375.20 L263.70,375.21 L264.30,375.22 L264.90,375.23 L265.50,375.23 L266.10,375.24 L266.70,375.25 L267.30,375.25 L267.90,375.26 L268.50,375.26 L269.10,375.27 L269.70,375.27 L270.30,375.28 L270.90,375.28 L271.50,375.28 L272.10,375.28 L272.70,375.29 L273.30,375.29 L273.90,375.29 L274.50,375.29 L275.10,375.29 L275.70,375.29 L276.30,375.29" fill="none" stroke="#f3a440" stroke-width="1.1" stroke-linejoin="round"/>
<path d="M158.10,392.20 L158.10,392.20 L158.70,392.20 L159.30,392.20 L159.90,392.20 L160.50,392.20 L161.10,392.20 L161.70,392.20 L162.30,392.20 L162.90,392.20 L163.50,392.20 L164.10,392.20 L164.70,392.20 L165.30,392.20 L165.90,392.20 L166.50,392.20 L167.10,392.20 L167.70,392.20 L168.30,392.20 L168.90,392.20 L169.50,392.20 L170.10,392.20 L170.70,392.20 L171.30,392.20 L171.90,392.20 L172.50,392.20 L173.10,392.19 L173.70,392.19 L174.30,392.19 L174.90,392.19 L175.50,392.18 L176.10,392.18 L176.70,392.17 L177.30,392.17 L177.90,392.16 L178.50,392.15 L179.10,392.14 L179.70,392.12 L180.30,392.10 L180.90,392.08 L181.50,392.06 L182.10,392.03 L182.70,392.00 L183.30,391.97 L183.90,391.92 L184.50,391.88 L185.10,391.82 L185.70,391.76 L186.30,391.70 L186.90,391.62 L187.50,391.53 L188.10,391.43 L188.70,391.30 L189.30,391.14 L189.90,390.93 L190.50,390.65 L191.10,390.25 L191.70,389.71 L192.30,388.96 L192.90,387.96 L193.50,386.65 L194.10,385.02 L194.70,383.20 L195.30,380.88 L195.90,378.19 L196.50,375.67 L197.10,373.64 L197.70,369.88 L198.30,366.76 L198.90,366.66 L199.50,364.73 L200.10,364.29 L200.70,363.15 L201.30,362.95 L201.90,363.63 L202.50,365.00 L203.10,365.95 L203.70,368.37 L204.30,370.47 L204.90,372.78 L205.50,375.24 L206.10,375.73 L206.70,378.06 L207.30,379.62 L207.90,381.91 L208.50,383.49 L209.10,384.91 L209.70,386.16 L210.30,387.24 L210.90,388.15 L211.50,388.91 L212.10,389.53 L212.70,390.03 L213.30,390.43 L213.90,390.75 L214.50,390.99 L215.10,391.19 L215.70,391.35 L216.30,391.47 L216.90,391.58 L217.50,391.66 L218.10,391.73 L218.70,391.80 L219.30,391.85 L219.90,391.90 L220.50,391.94 L221.10,391.98 L221.70,392.01 L222.30,392.04 L222.90,392.06 L223.50,392.08 L224.10,392.10 L224.70,392.12 L225.30,392.13 L225.90,392.14 L226.50,392.15 L227.10,392.16 L227.70,392.17 L228.30,392.17 L228.90,392.18 L229.50,392.18 L230.10,392.19 L230.70,392.19 L231.30,392.19 L231.90,392.19 L232.50,392.19 L233.10,392.20 L233.70,392.20 L234.30,392.20 L234.90,392.20 L235.50,392.20 L236.10,392.20 L236.70,392.20 L237.30,392.20 L237.90,392.20 L238.50,392.20 L239.10,392.20 L239.70,392.20 L240.30,392.20 L240.90,392.20 L241.50,392.20 L242.10,392.20 L242.70,392.20 L243.30,392.20 L243.90,392.20 L244.50,392.20 L245.10,392.20 L245.70,392.20 L246.30,392.20 L246.90,392.20 L247.50,392.20 L248.10,392.20 L248.70,392.20 L249.30,392.20 L249.90,392.20 L250.50,392.20 L251.10,392.20 L251.70,392.20 L252.30,392.20 L252.90,392.20 L253.50,392.20 L254.10,392.20 L254.70,392.20 L255.30,392.20 L255.90,392.20 L256.50,392.20 L257.10,392.20 L257.70,392.20 L258.30,392.20 L258.90,392.20 L259.50,392.20 L260.10,392.20 L260.70,392.20 L261.30,392.20 L261.90,392.20 L262.50,392.20 L263.10,392.20 L263.70,392.20 L264.30,392.20 L264.90,392.20 L265.50,392.20 L266.10,392.20 L266.70,392.20 L267.30,392.20 L267.90,392.20 L268.50,392.20 L269.10,392.20 L269.70,392.20 L270.30,392.20 L270.90,392.20 L271.50,392.20 L272.10,392.20 L272.70,392.20 L273.30,392.20 L273.90,392.20 L274.50,392.20 L275.10,392.20 L275.70,392.20 L276.30,392.20 L276.50,392.20 Z" fill="#89c5eb" stroke="none" stroke-width="0" fill-opacity="0.75"/>
<path d="M158.10,392.20 L158.10,392.20 L158.70,392.20 L159.30,392.20 L159.90,392.20 L160.50,392.20 L161.10,392.20 L161.70,392.20 L162.30,392.20 L162.90,392.20 L163.50,392.20 L164.10,392.20 L164.70,392.20 L165.30,392.20 L165.90,392.20 L166.50,392.20 L167.10,392.20 L167.70,392.20 L168.30,392.20 L168.90,392.20 L169.50,392.20 L170.10,392.20 L170.70,392.20 L171.30,392.20 L171.90,392.20 L172.50,392.20 L173.10,392.19 L173.70,392.19 L174.30,392.19 L174.90,392.19 L175.50,392.18 L176.10,392.18 L176.70,392.17 L177.30,392.17 L177.90,392.16 L178.50,392.15 L179.10,392.14 L179.70,392.12 L180.30,392.10 L180.90,392.08 L181.50,392.06 L182.10,392.03 L182.70,392.00 L183.30,391.97 L183.90,391.92 L184.50,391.88 L185.10,391.82 L185.70,391.76 L186.30,391.70 L186.90,391.62 L187.50,391.53 L188.10,391.43 L188.70,391.30 L189.30,391.14 L189.90,390.93 L190.50,390.65 L191.10,390.25 L191.70,389.71 L192.30,388.96 L192.90,387.96 L193.50,386.65 L194.10,385.02 L194.70,383.20 L195.30,380.88 L195.90,378.19 L196.50,375.67 L197.10,373.64 L197.70,369.88 L198.30,366.76 L198.90,366.66 L199.50,364.73 L200.10,364.29 L200.70,363.15 L201.30,362.95 L201.90,363.63 L202.50,365.00 L203.10,365.95 L203.70,368.37 L204.30,370.47 L204.90,372.78 L205.50,375.24 L206.10,375.73 L206.70,378.06 L207.30,379.62 L207.90,381.91 L208.50,383.49 L209.10,384.91 L209.70,386.16 L210.30,387.24 L210.90,388.15 L211.50,388.91 L212.10,389.53 L212.70,390.03 L213.30,390.43 L213.90,390.75 L214.50,390.99 L215.10,391.19 L215.70,391.35 L216.30,391.47 L216.90,391.58 L217.50,391.66 L218.10,391.73 L218.70,391.80 L219.30,391.85 L219.90,391.90 L220.50,391.94 L221.10,391.98 L221.70,392.01 L222.30,392.04 L222.90,392.06 L223.50,392.08 L224.10,392.10 L224.70,392.12 L225.30,392.13 L225.90,392.14 L226.50,392.15 L227.10,392.16 L227.70,392.17 L228.30,392.17 L228.90,392.18 L229.50,392.18 L230.10,392.19 L230.70,392.19 L231.30,392.19 L231.90,392.19 L232.50,392.19 L233.10,392.20 L233.70,392.20 L234.30,392.20 L234.90,392.20 L235.50,392.20 L236.10,392.20 L236.70,392.20 L237.30,392.20 L237.90,392.20 L238.50,392.20 L239.10,392.20 L239.70,392.20 L240.30,392.20 L240.90,392.20 L241.50,392.20 L242.10,392.20 L242.70,392.20 L243.30,392.20 L243.90,392.20 L244.50,392.20 L245.10,392.20 L245.70,392.20 L246.30,392.20 L246.90,392.20 L247.50,392.20 L248.10,392.20 L248.70,392.20 L249.30,392.20 L249.90,392.20 L250.50,392.20 L251.10,392.20 L251.70,392.20 L252.30,392.20 L252.90,392.20 L253.50,392.20 L254.10,392.20 L254.70,392.20 L255.30,392.20 L255.90,392.20 L256.50,392.20 L257.10,392.20 L257.70,392.20 L258.30,392.20 L258.90,392.20 L259.50,392.20 L260.10,392.20 L260.70,392.20 L261.30,392.20 L261.90,392.20 L262.50,392.20 L263.10,392.20 L263.70,392.20 L264.30,392.20 L264.90,392.20 L265.50,392.20 L266.10,392.20 L266.70,392.20 L267.30,392.20 L267.90,392.20 L268.50,392.20 L269.10,392.20 L269.70,392.20 L270.30,392.20 L270.90,392.20 L271.50,392.20 L272.10,392.20 L272.70,392.20 L273.30,392.20 L273.90,392.20 L274.50,392.20 L275.10,392.20 L275.70,392.20 L276.30,392.20" fill="none" stroke="#44a6dc" stroke-width="1.1" stroke-linejoin="round"/>
<path d="M158.10,408.60 L158.10,408.60 L158.70,408.60 L159.30,408.60 L159.90,408.60 L160.50,408.60 L161.10,408.60 L161.70,408.60 L162.30,408.60 L162.90,408.60 L163.50,408.60 L164.10,408.60 L164.70,408.60 L165.30,408.60 L165.90,408.60 L166.50,408.60 L167.10,408.60 L167.70,408.60 L168.30,408.60 L168.90,408.60 L169.50,408.60 L170.10,408.60 L170.70,408.60 L171.30,408.60 L171.90,408.60 L172.50,408.60 L173.10,408.60 L173.70,408.60 L174.30,408.59 L174.90,408.59 L175.50,408.59 L176.10,408.59 L176.70,408.58 L177.30,408.58 L177.90,408.57 L178.50,408.57 L179.10,408.56 L179.70,408.55 L180.30,408.54 L180.90,408.52 L181.50,408.51 L182.10,408.49 L182.70,408.46 L183.30,408.43 L183.90,408.40 L184.50,408.36 L185.10,408.32 L185.70,408.27 L186.30,408.21 L186.90,408.14 L187.50,408.06 L188.10,407.98 L188.70,407.88 L189.30,407.76 L189.90,407.62 L190.50,407.46 L191.10,407.25 L191.70,407.00 L192.30,406.69 L192.90,406.29 L193.50,405.78 L194.10,405.13 L194.70,404.32 L195.30,403.31 L195.90,402.08 L196.50,400.56 L197.10,398.54 L197.70,396.68 L198.30,394.24 L198.90,392.57 L199.50,390.36 L200.10,388.78 L200.70,386.64 L201.30,383.48 L201.90,383.08 L202.50,381.08 L203.10,380.95 L203.70,383.04 L204.30,383.52 L204.90,382.76 L205.50,384.73 L206.10,386.59 L206.70,388.01 L207.30,389.62 L207.90,390.42 L208.50,393.29 L209.10,394.32 L209.70,396.63 L210.30,398.28 L210.90,399.02 L211.50,400.77 L212.10,401.97 L212.70,403.02 L213.30,403.93 L213.90,404.70 L214.50,405.36 L215.10,405.91 L215.70,406.36 L216.30,406.73 L216.90,407.04 L217.50,407.29 L218.10,407.50 L218.70,407.67 L219.30,407.81 L219.90,407.93 L220.50,408.02 L221.10,408.11 L221.70,408.18 L222.30,408.24 L222.90,408.29 L223.50,408.34 L224.10,408.38 L224.70,408.41 L225.30,408.44 L225.90,408.46 L226.50,408.49 L227.10,408.50 L227.70,408.52 L228.30,408.53 L228.90,408.54 L229.50,408.55 L230.10,408.56 L230.70,408.57 L231.30,408.58 L231.90,408.58 L232.50,408.58 L233.10,408.59 L233.70,408.59 L234.30,408.59 L234.90,408.59 L235.50,408.59 L236.10,408.60 L236.70,408.60 L237.30,408.60 L237.90,408.60 L238.50,408.60 L239.10,408.60 L239.70,408.60 L240.30,408.60 L240.90,408.60 L241.50,408.60 L242.10,408.60 L242.70,408.60 L243.30,408.60 L243.90,408.60 L244.50,408.60 L245.10,408.60 L245.70,408.60 L246.30,408.60 L246.90,408.60 L247.50,408.60 L248.10,408.60 L248.70,408.60 L249.30,408.60 L249.90,408.60 L250.50,408.60 L251.10,408.60 L251.70,408.60 L252.30,408.60 L252.90,408.60 L253.50,408.60 L254.10,408.60 L254.70,408.60 L255.30,408.60 L255.90,408.60 L256.50,408.60 L257.10,408.60 L257.70,408.60 L258.30,408.60 L258.90,408.60 L259.50,408.60 L260.10,408.60 L260.70,408.60 L261.30,408.60 L261.90,408.60 L262.50,408.60 L263.10,408.60 L263.70,408.60 L264.30,408.60 L264.90,408.60 L265.50,408.60 L266.10,408.60 L266.70,408.60 L267.30,408.60 L267.90,408.60 L268.50,408.60 L269.10,408.60 L269.70,408.60 L270.30,408.60 L270.90,408.60 L271.50,408.60 L272.10,408.60 L272.70,408.60 L273.30,408.60 L273.90,408.60 L274.50,408.60 L275.10,408.60 L275.70,408.60 L276.30,408.60 L276.50,408.60 Z" fill="#ed68b0" stroke="none" stroke-width="0" fill-opacity="0.75"/>
<path d="M158.10,408.60 L158.10,408.60 L158.70,408.60 L159.30,408.60 L159.90,408.60 L160.50,408.60 L161.10,408.60 L161.70,408.60 L162.30,408.60 L162.90,408.60 L163.50,408.60 L164.10,408.60 L164.70,408.60 L165.30,408.60 L165.90,408.60 L166.50,408.60 L167.10,408.60 L167.70,408.60 L168.30,408.60 L168.90,408.60 L169.50,408.60 L170.10,408.60 L170.70,408.60 L171.30,408.60 L171.90,408.60 L172.50,408.60 L173.10,408.60 L173.70,408.60 L174.30,408.59 L174.90,408.59 L175.50,408.59 L176.10,408.59 L176.70,408.58 L177.30,408.58 L177.90,408.57 L178.50,408.57 L179.10,408.56 L179.70,408.55 L180.30,408.54 L180.90,408.52 L181.50,408.51 L182.10,408.49 L182.70,408.46 L183.30,408.43 L183.90,408.40 L184.50,408.36 L185.10,408.32 L185.70,408.27 L186.30,408.21 L186.90,408.14 L187.50,408.06 L188.10,407.98 L188.70,407.88 L189.30,407.76 L189.90,407.62 L190.50,407.46 L191.10,407.25 L191.70,407.00 L192.30,406.69 L192.90,406.29 L193.50,405.78 L194.10,405.13 L194.70,404.32 L195.30,403.31 L195.90,402.08 L196.50,400.56 L197.10,398.54 L197.70,396.68 L198.30,394.24 L198.90,392.57 L199.50,390.36 L200.10,388.78 L200.70,386.64 L201.30,383.48 L201.90,383.08 L202.50,381.08 L203.10,380.95 L203.70,383.04 L204.30,383.52 L204.90,382.76 L205.50,384.73 L206.10,386.59 L206.70,388.01 L207.30,389.62 L207.90,390.42 L208.50,393.29 L209.10,394.32 L209.70,396.63 L210.30,398.28 L210.90,399.02 L211.50,400.77 L212.10,401.97 L212.70,403.02 L213.30,403.93 L213.90,404.70 L214.50,405.36 L215.10,405.91 L215.70,406.36 L216.30,406.73 L216.90,407.04 L217.50,407.29 L218.10,407.50 L218.70,407.67 L219.30,407.81 L219.90,407.93 L220.50,408.02 L221.10,408.11 L221.70,408.18 L222.30,408.24 L222.90,408.29 L223.50,408.34 L224.10,408.38 L224.70,408.41 L225.30,408.44 L225.90,408.46 L226.50,408.49 L227.10,408.50 L227.70,408.52 L228.30,408.53 L228.90,408.54 L229.50,408.55 L230.10,408.56 L230.70,408.57 L231.30,408.58 L231.90,408.58 L232.50,408.58 L233.10,408.59 L233.70,408.59 L234.30,408.59 L234.90,408.59 L235.50,408.59 L236.10,408.60 L236.70,408.60 L237.30,408.60 L237.90,408.60 L238.50,408.60 L239.10,408.60 L239.70,408.60 L240.30,408.60 L240.90,408.60 L241.50,408.60 L242.10,408.60 L242.70,408.60 L243.30,408.60 L243.90,408.60 L244.50,408.60 L245.10,408.60 L245.70,408.60 L246.30,408.60 L246.90,408.60 L247.50,408.60 L248.10,408.60 L248.70,408.60 L249.30,408.60 L249.90,408.60 L250.50,408.60 L251.10,408.60 L251.70,408.60 L252.30,408.60 L252.90,408.60 L253.50,408.60 L254.10,408.60 L254.70,408.60 L255.30,408.60 L255.90,408.60 L256.50,408.60 L257.10,408.60 L257.70,408.60 L258.30,408.60 L258.90,408.60 L259.50,408.60 L260.10,408.60 L260.70,408.60 L261.30,408.60 L261.90,408.60 L262.50,408.60 L263.10,408.60 L263.70,408.60 L264.30,408.60 L264.90,408.60 L265.50,408.60 L266.10,408.60 L266.70,408.60 L267.30,408.60 L267.90,408.60 L268.50,408.60 L269.10,408.60 L269.70,408.60 L270.30,408.60 L270.90,408.60 L271.50,408.60 L272.10,408.60 L272.70,408.60 L273.30,408.60 L273.90,408.60 L274.50,408.60 L275.10,408.60 L275.70,408.60 L276.30,408.60" fill="none" stroke="#d42a80" stroke-width="1.1" stroke-linejoin="round"/>
<text x="0.00" y="0.00" font-size="4.9" text-anchor="end" font-weight="normal" fill="#161616" stroke="#161616" stroke-width="0.16" transform="translate(275.70,322.60) scale(1.1,1)">shNC 1.4%</text>
<text x="0.00" y="0.00" font-size="4.9" text-anchor="end" font-weight="normal" fill="#161616" stroke="#161616" stroke-width="0.16" transform="translate(275.70,339.20) scale(1.1,1)">shM 4.6%</text>
<text x="0.00" y="0.00" font-size="4.9" text-anchor="end" font-weight="normal" fill="#161616" stroke="#161616" stroke-width="0.16" transform="translate(275.70,355.80) scale(1.1,1)">shNC+RSL3 54.9%</text>
<text x="0.00" y="0.00" font-size="4.9" text-anchor="end" font-weight="normal" fill="#161616" stroke="#161616" stroke-width="0.16" transform="translate(275.70,372.60) scale(1.1,1)">shM+RSL3 29.6%</text>
<text x="0.00" y="0.00" font-size="4.9" text-anchor="end" font-weight="normal" fill="#161616" stroke="#161616" stroke-width="0.16" transform="translate(275.70,382.20) scale(1.1,1)">shNC+</text>
<text x="0.00" y="0.00" font-size="4.9" text-anchor="end" font-weight="normal" fill="#161616" stroke="#161616" stroke-width="0.16" transform="translate(275.70,389.60) scale(1.1,1)">RSL3+Fer-1 4.9%</text>
<text x="0.00" y="0.00" font-size="4.9" text-anchor="end" font-weight="normal" fill="#161616" stroke="#161616" stroke-width="0.16" transform="translate(275.70,405.90) scale(1.1,1)">shM+RSL3+Fer-1 9.4%</text>
<line x1="218.90" y1="288.40" x2="218.90" y2="408.60" stroke="#111" stroke-width="1.0" stroke-dasharray="1.5,1.3"/>
<line x1="218.90" y1="305.20" x2="261.10" y2="305.20" stroke="#222" stroke-width="0.7"/>
<line x1="261.10" y1="303.60" x2="261.10" y2="306.80" stroke="#222" stroke-width="0.7"/>
<text x="0.00" y="0.00" font-size="5.0" text-anchor="start" font-weight="normal" fill="#333" stroke="#333" stroke-width="0.16" transform="translate(227.50,301.80) scale(1.1,1)">Lipid ROS</text>
<rect x="158.10" y="288.40" width="118.40" height="120.20" fill="none" stroke="#222" stroke-width="0.9"/>
<line x1="157.70" y1="408.60" x2="276.90" y2="408.60" stroke="#111" stroke-width="1.3"/>
<line x1="158.10" y1="408.60" x2="158.10" y2="411.80" stroke="#111" stroke-width="0.8"/>
<text x="156.90" y="422.40" font-size="6.2" text-anchor="middle" font-weight="normal" fill="#161616" stroke="#161616" stroke-width="0.16">10</text>
<text x="160.90" y="419.00" font-size="3.6" text-anchor="middle" font-weight="normal" fill="#161616" stroke="#161616" stroke-width="0.16">1</text>
<line x1="167.01" y1="408.60" x2="167.01" y2="410.50" stroke="#111" stroke-width="0.6"/>
<line x1="172.22" y1="408.60" x2="172.22" y2="410.50" stroke="#111" stroke-width="0.6"/>
<line x1="175.92" y1="408.60" x2="175.92" y2="410.50" stroke="#111" stroke-width="0.6"/>
<line x1="178.79" y1="408.60" x2="178.79" y2="410.50" stroke="#111" stroke-width="0.6"/>
<line x1="181.13" y1="408.60" x2="181.13" y2="410.50" stroke="#111" stroke-width="0.6"/>
<line x1="183.11" y1="408.60" x2="183.11" y2="410.50" stroke="#111" stroke-width="0.6"/>
<line x1="184.83" y1="408.60" x2="184.83" y2="410.50" stroke="#111" stroke-width="0.6"/>
<line x1="186.35" y1="408.60" x2="186.35" y2="410.50" stroke="#111" stroke-width="0.6"/>
<line x1="187.70" y1="408.60" x2="187.70" y2="411.80" stroke="#111" stroke-width="0.8"/>
<text x="186.50" y="422.40" font-size="6.2" text-anchor="middle" font-weight="normal" fill="#161616" stroke="#161616" stroke-width="0.16">10</text>
<text x="190.50" y="419.00" font-size="3.6" text-anchor="middle" font-weight="normal" fill="#161616" stroke="#161616" stroke-width="0.16">2</text>
<line x1="196.61" y1="408.60" x2="196.61" y2="410.50" stroke="#111" stroke-width="0.6"/>
<line x1="201.82" y1="408.60" x2="201.82" y2="410.50" stroke="#111" stroke-width="0.6"/>
<line x1="205.52" y1="408.60" x2="205.52" y2="410.50" stroke="#111" stroke-width="0.6"/>
<line x1="208.39" y1="408.60" x2="208.39" y2="410.50" stroke="#111" stroke-width="0.6"/>
<line x1="210.73" y1="408.60" x2="210.73" y2="410.50" stroke="#111" stroke-width="0.6"/>
<line x1="212.71" y1="408.60" x2="212.71" y2="410.50" stroke="#111" stroke-width="0.6"/>
<line x1="214.43" y1="408.60" x2="214.43" y2="410.50" stroke="#111" stroke-width="0.6"/>
<line x1="215.95" y1="408.60" x2="215.95" y2="410.50" stroke="#111" stroke-width="0.6"/>
<line x1="217.30" y1="408.60" x2="217.30" y2="411.80" stroke="#111" stroke-width="0.8"/>
<text x="216.10" y="422.40" font-size="6.2" text-anchor="middle" font-weight="normal" fill="#161616" stroke="#161616" stroke-width="0.16">10</text>
<text x="220.10" y="419.00" font-size="3.6" text-anchor="middle" font-weight="normal" fill="#161616" stroke="#161616" stroke-width="0.16">3</text>
<line x1="226.21" y1="408.60" x2="226.21" y2="410.50" stroke="#111" stroke-width="0.6"/>
<line x1="231.42" y1="408.60" x2="231.42" y2="410.50" stroke="#111" stroke-width="0.6"/>
<line x1="235.12" y1="408.60" x2="235.12" y2="410.50" stroke="#111" stroke-width="0.6"/>
<line x1="237.99" y1="408.60" x2="237.99" y2="410.50" stroke="#111" stroke-width="0.6"/>
<line x1="240.33" y1="408.60" x2="240.33" y2="410.50" stroke="#111" stroke-width="0.6"/>
<line x1="242.31" y1="408.60" x2="242.31" y2="410.50" stroke="#111" stroke-width="0.6"/>
<line x1="244.03" y1="408.60" x2="244.03" y2="410.50" stroke="#111" stroke-width="0.6"/>
<line x1="245.55" y1="408.60" x2="245.55" y2="410.50" stroke="#111" stroke-width="0.6"/>
<line x1="246.90" y1="408.60" x2="246.90" y2="411.80" stroke="#111" stroke-width="0.8"/>
<text x="245.70" y="422.40" font-size="6.2" text-anchor="middle" font-weight="normal" fill="#161616" stroke="#161616" stroke-width="0.16">10</text>
<text x="249.70" y="419.00" font-size="3.6" text-anchor="middle" font-weight="normal" fill="#161616" stroke="#161616" stroke-width="0.16">4</text>
<line x1="255.81" y1="408.60" x2="255.81" y2="410.50" stroke="#111" stroke-width="0.6"/>
<line x1="261.02" y1="408.60" x2="261.02" y2="410.50" stroke="#111" stroke-width="0.6"/>
<line x1="264.72" y1="408.60" x2="264.72" y2="410.50" stroke="#111" stroke-width="0.6"/>
<line x1="267.59" y1="408.60" x2="267.59" y2="410.50" stroke="#111" stroke-width="0.6"/>
<line x1="269.93" y1="408.60" x2="269.93" y2="410.50" stroke="#111" stroke-width="0.6"/>
<line x1="271.91" y1="408.60" x2="271.91" y2="410.50" stroke="#111" stroke-width="0.6"/>
<line x1="273.63" y1="408.60" x2="273.63" y2="410.50" stroke="#111" stroke-width="0.6"/>
<line x1="275.15" y1="408.60" x2="275.15" y2="410.50" stroke="#111" stroke-width="0.6"/>
<line x1="276.50" y1="408.60" x2="276.50" y2="411.80" stroke="#111" stroke-width="0.8"/>
<text x="275.30" y="422.40" font-size="6.2" text-anchor="middle" font-weight="normal" fill="#161616" stroke="#161616" stroke-width="0.16">10</text>
<text x="279.30" y="419.00" font-size="3.6" text-anchor="middle" font-weight="normal" fill="#161616" stroke="#161616" stroke-width="0.16">5</text>
<text x="0.00" y="0.00" font-size="8.2" text-anchor="middle" font-weight="bold" fill="#161616" stroke="#161616" stroke-width="0.1" transform="translate(217.30,434.60) scale(0.7,1)">FITC-A</text>
<line x1="320.00" y1="327.80" x2="320.00" y2="408.50" stroke="#151515" stroke-width="1.1"/>
<line x1="317.50" y1="408.50" x2="320.00" y2="408.50" stroke="#151515" stroke-width="1.1"/>
<text x="0.00" y="0.00" font-size="5.5" text-anchor="end" font-weight="normal" fill="#151515" stroke="#151515" stroke-width="0.16" transform="translate(313.20,410.48) scale(1.15,1)">0</text>
<line x1="317.50" y1="392.50" x2="320.00" y2="392.50" stroke="#151515" stroke-width="1.1"/>
<text x="0.00" y="0.00" font-size="5.5" text-anchor="end" font-weight="normal" fill="#151515" stroke="#151515" stroke-width="0.16" transform="translate(313.20,394.48) scale(1.15,1)">20</text>
<line x1="317.50" y1="376.50" x2="320.00" y2="376.50" stroke="#151515" stroke-width="1.1"/>
<text x="0.00" y="0.00" font-size="5.5" text-anchor="end" font-weight="normal" fill="#151515" stroke="#151515" stroke-width="0.16" transform="translate(313.20,378.48) scale(1.15,1)">40</text>
<line x1="317.50" y1="360.50" x2="320.00" y2="360.50" stroke="#151515" stroke-width="1.1"/>
<text x="0.00" y="0.00" font-size="5.5" text-anchor="end" font-weight="normal" fill="#151515" stroke="#151515" stroke-width="0.16" transform="translate(313.20,362.48) scale(1.15,1)">60</text>
<line x1="317.50" y1="344.50" x2="320.00" y2="344.50" stroke="#151515" stroke-width="1.1"/>
<text x="0.00" y="0.00" font-size="5.5" text-anchor="end" font-weight="normal" fill="#151515" stroke="#151515" stroke-width="0.16" transform="translate(313.20,346.48) scale(1.15,1)">80</text>
<line x1="317.50" y1="328.50" x2="320.00" y2="328.50" stroke="#151515" stroke-width="1.1"/>
<text x="0.00" y="0.00" font-size="5.5" text-anchor="end" font-weight="normal" fill="#151515" stroke="#151515" stroke-width="0.16" transform="translate(313.20,330.48) scale(1.15,1)">100</text>
<line x1="320.00" y1="408.50" x2="438.80" y2="408.50" stroke="#151515" stroke-width="1.1"/>
<line x1="349.00" y1="408.50" x2="349.00" y2="410.50" stroke="#151515" stroke-width="1.1"/>
<line x1="410.00" y1="408.50" x2="410.00" y2="410.50" stroke="#151515" stroke-width="1.1"/>
<text transform="translate(297.30,367.30) rotate(-90)" font-size="8.6" font-weight="bold" text-anchor="middle" fill="#161616" stroke="#161616" stroke-width="0.1" textLength="59.3" lengthAdjust="spacingAndGlyphs">Lipid ROS (% of cells)</text>
<text x="0.00" y="0.00" font-size="5.8" text-anchor="middle" font-weight="normal" fill="#161616" stroke="#161616" stroke-width="0.16" transform="translate(349.00,420.30) scale(1.12,1)">NCI-H929</text>
<text x="0.00" y="0.00" font-size="5.8" text-anchor="middle" font-weight="normal" fill="#161616" stroke="#161616" stroke-width="0.16" transform="translate(410.00,420.30) scale(1.12,1)">OPM-2</text>
<rect x="323.20" y="400.77" width="5.60" height="7.73" fill="#7190c6" stroke="none" stroke-width="0"/>
<line x1="326.00" y1="399.10" x2="326.00" y2="400.77" stroke="#1b3a6c" stroke-width="0.5"/>
<circle cx="324.70" cy="398.90" r="1.60" fill="#1b3a6c" stroke="none" stroke-width="0"/>
<circle cx="326.00" cy="401.30" r="1.60" fill="#1b3a6c" stroke="none" stroke-width="0"/>
<circle cx="327.30" cy="402.10" r="1.60" fill="#1b3a6c" stroke="none" stroke-width="0"/>
<rect x="332.42" y="396.77" width="5.60" height="11.73" fill="#dc6b78" stroke="none" stroke-width="0"/>
<line x1="335.22" y1="393.53" x2="335.22" y2="396.77" stroke="#ad1a2b" stroke-width="0.5"/>
<rect x="332.48" y="393.46" width="2.88" height="2.88" fill="#ad1a2b" stroke="none" stroke-width="0"/>
<rect x="333.78" y="393.46" width="2.88" height="2.88" fill="#ad1a2b" stroke="none" stroke-width="0"/>
<rect x="335.08" y="399.06" width="2.88" height="2.88" fill="#ad1a2b" stroke="none" stroke-width="0"/>
<rect x="341.64" y="374.10" width="5.60" height="34.40" fill="#a3d48c" stroke="none" stroke-width="0"/>
<line x1="344.44" y1="373.30" x2="344.44" y2="374.10" stroke="#3f9e3e" stroke-width="0.5"/>
<path d="M343.14,371.46 L344.89,374.59 L341.39,374.59 Z" fill="#3f9e3e" stroke="none" stroke-width="0"/>
<path d="M344.44,372.26 L346.19,375.39 L342.69,375.39 Z" fill="#3f9e3e" stroke="none" stroke-width="0"/>
<path d="M345.74,373.06 L347.49,376.19 L343.99,376.19 Z" fill="#3f9e3e" stroke="none" stroke-width="0"/>
<rect x="350.86" y="394.37" width="5.60" height="14.13" fill="#f8c57c" stroke="none" stroke-width="0"/>
<line x1="353.66" y1="391.34" x2="353.66" y2="394.37" stroke="#ef9a2a" stroke-width="0.5"/>
<path d="M352.36,388.98 L353.96,390.90 L352.36,392.82 L350.76,390.90 Z" fill="#ef9a2a" stroke="none" stroke-width="0"/>
<path d="M353.66,393.78 L355.26,395.70 L353.66,397.62 L352.06,395.70 Z" fill="#ef9a2a" stroke="none" stroke-width="0"/>
<path d="M354.96,394.58 L356.56,396.50 L354.96,398.42 L353.36,396.50 Z" fill="#ef9a2a" stroke="none" stroke-width="0"/>
<rect x="360.08" y="395.70" width="5.60" height="12.80" fill="#a8d3f2" stroke="none" stroke-width="0"/>
<line x1="362.88" y1="392.82" x2="362.88" y2="395.70" stroke="#2f96d4" stroke-width="0.5"/>
<circle cx="361.58" cy="393.30" r="1.60" fill="#2f96d4" stroke="none" stroke-width="0"/>
<circle cx="362.88" cy="394.90" r="1.60" fill="#2f96d4" stroke="none" stroke-width="0"/>
<circle cx="364.18" cy="398.90" r="1.60" fill="#2f96d4" stroke="none" stroke-width="0"/>
<rect x="369.30" y="393.83" width="5.60" height="14.67" fill="#f5a6cb" stroke="none" stroke-width="0"/>
<line x1="372.10" y1="391.82" x2="372.10" y2="393.83" stroke="#e0307c" stroke-width="0.5"/>
<circle cx="370.80" cy="391.70" r="1.68" fill="none" stroke="#e0307c" stroke-width="0.6"/>
<circle cx="372.10" cy="394.10" r="1.68" fill="none" stroke="#e0307c" stroke-width="0.6"/>
<circle cx="373.40" cy="395.70" r="1.68" fill="none" stroke="#e0307c" stroke-width="0.6"/>
<rect x="384.10" y="407.62" width="5.60" height="0.88" fill="#7190c6" stroke="none" stroke-width="0"/>
<line x1="386.90" y1="407.33" x2="386.90" y2="407.62" stroke="#1b3a6c" stroke-width="0.5"/>
<circle cx="385.60" cy="407.30" r="1.60" fill="#1b3a6c" stroke="none" stroke-width="0"/>
<circle cx="386.90" cy="407.70" r="1.60" fill="#1b3a6c" stroke="none" stroke-width="0"/>
<circle cx="388.20" cy="407.86" r="1.60" fill="#1b3a6c" stroke="none" stroke-width="0"/>
<rect x="393.32" y="405.06" width="5.60" height="3.44" fill="#dc6b78" stroke="none" stroke-width="0"/>
<line x1="396.12" y1="404.85" x2="396.12" y2="405.06" stroke="#ad1a2b" stroke-width="0.5"/>
<rect x="393.38" y="403.46" width="2.88" height="2.88" fill="#ad1a2b" stroke="none" stroke-width="0"/>
<rect x="394.68" y="403.86" width="2.88" height="2.88" fill="#ad1a2b" stroke="none" stroke-width="0"/>
<rect x="395.98" y="403.54" width="2.88" height="2.88" fill="#ad1a2b" stroke="none" stroke-width="0"/>
<rect x="402.54" y="364.50" width="5.60" height="44.00" fill="#a3d48c" stroke="none" stroke-width="0"/>
<line x1="405.34" y1="363.70" x2="405.34" y2="364.50" stroke="#3f9e3e" stroke-width="0.5"/>
<path d="M404.04,361.86 L405.79,364.99 L402.29,364.99 Z" fill="#3f9e3e" stroke="none" stroke-width="0"/>
<path d="M405.34,363.46 L407.09,366.59 L403.59,366.59 Z" fill="#3f9e3e" stroke="none" stroke-width="0"/>
<path d="M406.64,362.66 L408.39,365.79 L404.89,365.79 Z" fill="#3f9e3e" stroke="none" stroke-width="0"/>
<rect x="411.76" y="383.43" width="5.60" height="25.07" fill="#f8c57c" stroke="none" stroke-width="0"/>
<line x1="414.56" y1="382.97" x2="414.56" y2="383.43" stroke="#ef9a2a" stroke-width="0.5"/>
<path d="M413.26,380.98 L414.86,382.90 L413.26,384.82 L411.66,382.90 Z" fill="#ef9a2a" stroke="none" stroke-width="0"/>
<path d="M414.56,381.78 L416.16,383.70 L414.56,385.62 L412.96,383.70 Z" fill="#ef9a2a" stroke="none" stroke-width="0"/>
<path d="M415.86,381.78 L417.46,383.70 L415.86,385.62 L414.26,383.70 Z" fill="#ef9a2a" stroke="none" stroke-width="0"/>
<rect x="420.98" y="405.35" width="5.60" height="3.15" fill="#a8d3f2" stroke="none" stroke-width="0"/>
<line x1="423.78" y1="405.11" x2="423.78" y2="405.35" stroke="#2f96d4" stroke-width="0.5"/>
<circle cx="422.48" cy="405.14" r="1.60" fill="#2f96d4" stroke="none" stroke-width="0"/>
<circle cx="423.78" cy="405.62" r="1.60" fill="#2f96d4" stroke="none" stroke-width="0"/>
<circle cx="425.08" cy="405.30" r="1.60" fill="#2f96d4" stroke="none" stroke-width="0"/>
<rect x="430.20" y="402.90" width="5.60" height="5.60" fill="#f5a6cb" stroke="none" stroke-width="0"/>
<line x1="433.00" y1="402.10" x2="433.00" y2="402.90" stroke="#e0307c" stroke-width="0.5"/>
<circle cx="431.70" cy="402.10" r="1.68" fill="none" stroke="#e0307c" stroke-width="0.6"/>
<circle cx="433.00" cy="403.70" r="1.68" fill="none" stroke="#e0307c" stroke-width="0.6"/>
<circle cx="434.30" cy="402.90" r="1.68" fill="none" stroke="#e0307c" stroke-width="0.6"/>
<path d="M326.0,386.5 L326.0,366.3 L344.3,366.3 L344.3,370.5" fill="none" stroke="#555" stroke-width="0.6"/>
<text x="335.20" y="366.36" font-size="6.2" text-anchor="middle" font-weight="normal" fill="#161616" stroke="#161616" stroke-width="0.16">***</text>
<path d="M344.3,370.5 L344.3,360.8 L353.5,360.8 L353.5,388.0" fill="none" stroke="#555" stroke-width="0.6"/>
<text x="348.90" y="360.96" font-size="6.2" text-anchor="middle" font-weight="normal" fill="#161616" stroke="#161616" stroke-width="0.16">***</text>
<path d="M344.3,370.5 L344.3,351.5 L362.8,351.5 L362.8,390.5" fill="none" stroke="#555" stroke-width="0.6"/>
<text x="353.50" y="352.16" font-size="6.2" text-anchor="middle" font-weight="normal" fill="#161616" stroke="#161616" stroke-width="0.16">***</text>
<path d="M386.9,405.0 L386.9,358.0 L405.4,358.0 L405.4,362.0" fill="none" stroke="#555" stroke-width="0.6"/>
<text x="396.20" y="358.06" font-size="6.2" text-anchor="middle" font-weight="normal" fill="#161616" stroke="#161616" stroke-width="0.16">***</text>
<path d="M405.4,362.0 L405.4,353.4 L414.6,353.4 L414.6,381.5" fill="none" stroke="#555" stroke-width="0.6"/>
<text x="410.00" y="353.16" font-size="6.2" text-anchor="middle" font-weight="normal" fill="#161616" stroke="#161616" stroke-width="0.16">***</text>
<path d="M405.4,362.0 L405.4,345.0 L423.8,345.0 L423.8,402.0" fill="none" stroke="#555" stroke-width="0.6"/>
<text x="414.60" y="344.46" font-size="6.2" text-anchor="middle" font-weight="normal" fill="#161616" stroke="#161616" stroke-width="0.16">***</text>
<circle cx="328.80" cy="294.70" r="1.50" fill="#1b3a6c" stroke="none" stroke-width="0"/>
<text x="0.00" y="0.00" font-size="5.8" text-anchor="start" font-weight="normal" fill="#161616" stroke="#161616" stroke-width="0.16" transform="translate(333.40,296.80) scale(1.14,1)">shNC</text>
<rect x="327.45" y="303.75" width="2.70" height="2.70" fill="#ad1a2b" stroke="none" stroke-width="0"/>
<text x="0.00" y="0.00" font-size="5.8" text-anchor="start" font-weight="normal" fill="#161616" stroke="#161616" stroke-width="0.16" transform="translate(333.40,307.20) scale(1.14,1)">shM</text>
<path d="M328.80,313.57 L330.44,316.51 L327.16,316.51 Z" fill="#3f9e3e" stroke="none" stroke-width="0"/>
<text x="0.00" y="0.00" font-size="5.8" text-anchor="start" font-weight="normal" fill="#161616" stroke="#161616" stroke-width="0.16" transform="translate(333.40,317.40) scale(1.14,1)">shM+RSL3</text>
<path d="M374.20,292.90 L375.70,294.70 L374.20,296.50 L372.70,294.70 Z" fill="#ef9a2a" stroke="none" stroke-width="0"/>
<text x="0.00" y="0.00" font-size="5.8" text-anchor="start" font-weight="normal" fill="#161616" stroke="#161616" stroke-width="0.16" transform="translate(378.80,296.80) scale(1.14,1)">shNC+RSL3</text>
<circle cx="374.20" cy="305.10" r="1.50" fill="#2f96d4" stroke="none" stroke-width="0"/>
<text x="0.00" y="0.00" font-size="5.8" text-anchor="start" font-weight="normal" fill="#161616" stroke="#161616" stroke-width="0.16" transform="translate(378.80,307.20) scale(1.14,1)">shM+RSL3+Fer-1</text>
<circle cx="374.20" cy="315.30" r="1.52" fill="none" stroke="#e0307c" stroke-width="0.6"/>
<text x="0.00" y="0.00" font-size="5.8" text-anchor="start" font-weight="normal" fill="#161616" stroke="#161616" stroke-width="0.16" transform="translate(378.80,317.40) scale(1.14,1)">shM+RSL3+Fer-1</text>
<text x="7.50" y="457.00" font-size="11.0" text-anchor="start" font-weight="bold" fill="#111">G</text>
<text x="0.00" y="0.00" font-size="8.1" text-anchor="middle" font-weight="normal" fill="#161616" stroke="#161616" stroke-width="0.16" transform="translate(115.40,455.00) scale(1.12,1)">shNC</text>
<text x="0.00" y="0.00" font-size="8.1" text-anchor="middle" font-weight="normal" fill="#161616" stroke="#161616" stroke-width="0.16" transform="translate(290.80,454.50) scale(1.07,1)">shMMSET</text>
<text x="0.00" y="0.00" font-size="6.3" text-anchor="end" font-weight="normal" fill="#161616" stroke="#161616" stroke-width="0.16" transform="translate(39.30,485.00) scale(1.1,1)">DMSO</text>
<text x="0.00" y="0.00" font-size="6.3" text-anchor="end" font-weight="normal" fill="#161616" stroke="#161616" stroke-width="0.16" transform="translate(38.60,540.20) scale(1.1,1)">RSL3</text>
<text x="0.00" y="0.00" font-size="6.3" text-anchor="end" font-weight="normal" fill="#161616" stroke="#161616" stroke-width="0.16" transform="translate(215.20,485.00) scale(1.1,1)">DMSO</text>
<text x="0.00" y="0.00" font-size="6.3" text-anchor="end" font-weight="normal" fill="#161616" stroke="#161616" stroke-width="0.16" transform="translate(215.20,539.60) scale(1.1,1)">RSL3</text>
<clipPath id="g1"><rect x="43.60" y="459.70" width="67.80" height="51.50"/></clipPath>
<g clip-path="url(#g1)">
<rect x="43.60" y="459.70" width="67.80" height="51.50" fill="#b2b2b2" stroke="none" stroke-width="0"/>
<rect x="43.60" y="459.70" width="67.80" height="51.50" filter="url(#noise0)" opacity="0.5"/>
<path d="M77.9,467.1Q77.1,467.9 74.2,472.0M105.2,505.5Q107.2,504.1 110.5,506.9M64.5,493.5Q67.0,493.4 67.6,496.0M104.4,489.5Q101.3,489.1 102.6,487.5M54.1,486.8Q55.8,483.2 58.2,483.7M50.6,471.5Q51.8,468.4 56.3,469.8M111.4,511.3Q109.7,512.9 107.7,510.6M59.6,501.2Q59.3,498.8 54.7,501.3M63.1,463.2Q62.3,468.3 66.1,468.9M67.2,491.3Q64.4,489.9 64.2,491.5M65.4,458.1Q64.7,457.5 62.2,456.5M102.0,510.9Q102.3,512.3 99.7,515.8M84.5,498.5Q86.4,496.2 88.3,494.0M68.9,493.3Q71.1,494.3 71.5,493.0M72.1,458.7Q73.0,462.9 71.3,465.3M109.0,507.5Q112.3,509.1 113.5,507.8M75.6,461.4Q73.1,457.1 71.6,457.6M54.8,467.1Q50.0,466.7 48.6,467.8M56.6,464.8Q59.2,469.2 59.0,469.1M107.4,511.3Q103.3,511.5 101.5,510.2M102.4,473.8Q103.5,476.3 103.4,477.2M72.1,470.1Q72.0,471.9 69.0,470.2M49.4,478.6Q52.5,479.4 52.2,476.2M92.5,496.5Q90.7,495.5 89.5,498.6M50.3,493.2Q52.6,495.9 50.3,496.8M77.3,487.0Q80.1,486.4 83.9,488.1M54.2,499.6Q51.7,501.4 49.5,498.5M112.2,481.9Q114.1,485.2 118.3,485.2M41.8,501.6Q37.3,502.7 35.5,502.9M112.3,476.8Q116.5,475.6 118.2,479.4M66.8,465.8Q64.5,467.0 61.6,469.0M76.4,499.4Q79.3,501.2 80.6,501.4M77.0,510.5Q78.1,513.6 75.5,512.9M87.5,509.8Q84.6,509.3 82.9,509.6M71.0,480.4Q68.7,480.5 70.8,484.8M89.9,484.9Q89.5,483.3 93.0,480.9M91.1,500.8Q89.4,497.7 90.2,494.1M61.3,464.7Q60.1,462.7 62.2,461.7M55.8,462.4Q57.3,467.0 59.0,467.2M60.9,477.1Q60.2,479.0 56.4,477.8M80.7,475.4Q81.4,472.4 78.1,473.4M82.0,503.4Q83.3,506.7 83.6,507.1M112.5,509.8Q116.0,506.8 118.2,507.7M109.8,483.3Q110.6,482.4 107.6,479.6M93.2,506.0Q91.6,507.0 91.0,509.6M41.6,478.1Q44.0,479.4 46.6,476.6M78.1,496.5Q74.9,495.2 76.1,490.8M68.1,491.3Q69.2,491.3 73.1,493.2M101.1,492.5Q105.7,492.0 107.3,492.4M65.8,480.3Q69.4,479.5 72.0,479.9M96.9,492.1Q97.6,495.8 100.5,498.0M78.6,462.6Q82.3,464.7 81.1,467.8M71.5,467.2Q71.3,464.5 66.3,464.9M104.4,480.7Q108.6,478.9 108.3,480.1M107.0,502.5Q104.6,503.0 102.5,504.4M94.8,468.9Q96.4,470.5 95.7,473.3M97.6,513.0Q98.5,513.0 100.7,516.2M82.9,505.2Q85.1,504.1 86.5,506.7M68.1,494.3Q65.0,491.5 63.5,489.8M94.2,459.0Q94.1,461.5 91.2,462.3M95.5,468.2Q92.4,469.9 92.2,466.6M54.7,494.4Q58.6,496.0 60.3,495.3M90.6,470.9Q90.8,469.0 88.6,466.0M86.6,481.3Q88.1,481.8 93.2,479.5M85.0,496.2Q83.8,496.9 83.2,499.9M47.6,488.1Q47.6,485.3 52.6,484.9M109.3,489.0Q112.8,488.6 113.4,485.7M105.9,484.1Q107.4,483.4 111.6,484.9M104.9,471.4Q106.6,468.0 105.0,467.5M52.4,493.8Q51.4,498.6 49.9,498.5M104.5,472.8Q106.7,470.1 105.4,469.2M90.0,507.2Q92.7,507.7 94.8,505.6M54.9,505.8Q57.7,505.0 57.9,501.2M70.1,458.4Q70.3,457.8 65.7,457.9M94.7,483.7Q91.7,485.5 89.6,487.4M57.4,492.4Q57.9,492.8 54.4,495.2M113.1,509.4Q115.1,507.6 114.3,505.2M96.9,503.5Q96.2,504.1 91.6,506.6M51.6,478.5Q53.0,481.1 51.0,481.1M56.6,496.9Q58.8,498.7 57.1,500.8M76.2,501.4Q73.9,501.9 71.1,501.3M80.2,462.0Q79.2,463.5 77.5,461.9M90.4,506.0Q87.3,505.3 87.2,505.5M79.1,505.4Q76.8,506.9 73.5,505.3M82.0,507.1Q84.7,505.9 88.5,509.1M48.3,460.4Q44.0,458.9 42.7,459.4M107.1,488.2Q110.1,483.7 108.2,482.1M78.8,510.5Q80.5,513.7 82.2,513.5M87.5,482.7Q88.8,478.9 90.2,479.0M99.8,490.1Q103.1,489.4 102.1,492.5M66.5,513.0Q62.8,514.1 62.5,514.1M47.8,501.3Q45.9,502.7 48.4,507.6M71.1,499.9Q69.8,498.6 72.7,495.3M108.0,469.6Q105.4,466.9 101.3,468.6M68.4,466.5Q73.6,466.6 73.9,469.3M82.7,481.4Q82.8,483.2 78.4,482.7M92.2,482.0Q94.9,480.5 96.3,478.1M58.6,458.1Q61.3,455.8 59.4,454.3M57.8,473.1Q54.8,474.4 53.3,471.5M54.1,505.2Q52.6,505.6 51.4,502.8M73.7,477.7Q74.6,475.5 80.0,475.2M64.9,501.6Q67.3,505.0 67.1,504.4" fill="none" stroke="#333" stroke-width="0.6" opacity="0.6"/>
<path d="M43,459 L62,459 Q50,463 47,476 L43,478 Z" fill="#dcdcdc" opacity="0.85"/>
<path d="M80,459 L112,459 L112,486 Q108,470 96,464 Q88,461 80,459 Z" fill="#dcdcdc" opacity="0.85"/>
<path d="M86,512 L88,507 Q92,503 96,504 Q99,500 103,501 Q106,502 108,506 L110,512 Z" fill="#1a1a1a" opacity="0.92"/>
<path d="M70,512 Q74,495 84,488 Q94,483 112,484" fill="none" stroke="#4a4a4a" stroke-width="0.9"/>
<path d="M47,478 Q50,462 70,461 Q95,460 106,474 Q112,483 111,492" fill="none" stroke="#777" stroke-width="0.8"/>
<ellipse cx="57.90" cy="475.30" rx="3.60" ry="3.60" fill="#4e4e4e" stroke="#303030" stroke-width="0.7" transform="rotate(0 57.90 475.30)" opacity="0.92"/>
<ellipse cx="64.20" cy="470.50" rx="3.00" ry="3.00" fill="#4e4e4e" stroke="#303030" stroke-width="0.7" transform="rotate(0 64.20 470.50)" opacity="0.92"/>
<ellipse cx="60.70" cy="480.90" rx="2.50" ry="2.50" fill="#4e4e4e" stroke="#303030" stroke-width="0.7" transform="rotate(0 60.70 480.90)" opacity="0.92"/>
<ellipse cx="71.80" cy="476.00" rx="3.40" ry="3.40" fill="#4e4e4e" stroke="#303030" stroke-width="0.7" transform="rotate(0 71.80 476.00)" opacity="0.92"/>
<ellipse cx="66.20" cy="484.30" rx="3.00" ry="3.00" fill="#4e4e4e" stroke="#303030" stroke-width="0.7" transform="rotate(0 66.20 484.30)" opacity="0.92"/>
<ellipse cx="55.20" cy="485.00" rx="2.50" ry="2.50" fill="#4e4e4e" stroke="#303030" stroke-width="0.7" transform="rotate(0 55.20 485.00)" opacity="0.92"/>
<ellipse cx="78.00" cy="473.20" rx="2.50" ry="2.50" fill="#4e4e4e" stroke="#303030" stroke-width="0.7" transform="rotate(0 78.00 473.20)" opacity="0.92"/>
<ellipse cx="78.70" cy="482.20" rx="2.50" ry="2.50" fill="#4e4e4e" stroke="#303030" stroke-width="0.7" transform="rotate(0 78.70 482.20)" opacity="0.92"/>
<ellipse cx="83.60" cy="471.90" rx="2.40" ry="2.40" fill="#7c7c7c" stroke="#303030" stroke-width="0.7" transform="rotate(0 83.60 471.90)" opacity="0.92"/>
<ellipse cx="60.00" cy="502.30" rx="3.40" ry="3.40" fill="#666" stroke="#303030" stroke-width="0.7" transform="rotate(0 60.00 502.30)" opacity="0.92"/>
<ellipse cx="55.20" cy="498.20" rx="2.50" ry="2.50" fill="#6a6a6a" stroke="#303030" stroke-width="0.7" transform="rotate(0 55.20 498.20)" opacity="0.92"/>
<ellipse cx="69.70" cy="490.50" rx="1.20" ry="1.20" fill="#111" stroke="none" stroke-width="0.7" transform="rotate(0 69.70 490.50)" opacity="0.92"/>
<ellipse cx="71.80" cy="471.90" rx="1.00" ry="1.00" fill="#111" stroke="none" stroke-width="0.7" transform="rotate(0 71.80 471.90)" opacity="0.92"/>
<ellipse cx="55.80" cy="504.40" rx="1.60" ry="1.60" fill="#f0f0f0" stroke="none" stroke-width="0.7" transform="rotate(0 55.80 504.40)" opacity="0.92"/>
<rect x="43.60" y="459.70" width="67.80" height="51.50" filter="url(#noise1)" opacity="0.18"/>
</g>
<clipPath id="g2"><rect x="120.10" y="459.70" width="67.70" height="51.50"/></clipPath>
<g clip-path="url(#g2)">
<rect x="120.10" y="459.70" width="67.70" height="51.50" fill="#a8a8a8" stroke="none" stroke-width="0"/>
<rect x="120.10" y="459.70" width="67.70" height="51.50" filter="url(#noise1)" opacity="0.5"/>
<path d="M145.4,488.6Q144.7,485.6 143.8,484.4M163.8,481.5Q166.3,483.4 168.4,481.9M173.6,497.7Q171.7,495.6 169.0,494.3M182.0,478.3Q183.6,474.4 183.2,475.5M136.5,468.8Q141.1,467.6 142.6,468.3M180.2,472.8Q178.1,473.6 180.7,470.2M178.4,484.9Q177.2,486.8 174.1,484.3M181.9,474.2Q178.3,474.5 177.6,477.1M130.5,490.0Q129.0,489.3 130.8,487.4M128.8,513.2Q129.4,509.8 130.7,511.3M155.0,479.7Q156.6,480.6 160.5,482.7M140.7,460.6Q140.0,457.8 140.4,458.1M186.4,493.2Q183.5,490.1 180.6,490.8M178.4,505.7Q178.2,503.4 179.9,501.9M180.5,464.2Q180.4,465.4 185.1,465.7M158.0,472.0Q157.1,469.6 155.3,470.9M154.1,493.5Q152.5,497.3 151.3,499.4M120.9,464.9Q118.1,463.2 115.3,464.8M139.1,501.9Q139.7,502.3 139.0,505.3M176.1,466.9Q177.7,462.5 176.8,460.9M185.9,464.0Q182.7,464.4 183.4,463.4M139.6,463.5Q139.8,464.5 143.9,461.5M142.6,481.1Q143.7,480.8 141.9,485.3M121.4,497.4Q121.7,498.7 119.5,501.0M174.9,491.7Q176.4,490.2 179.0,487.0M125.6,488.5Q126.0,488.8 121.4,486.8M176.2,509.4Q171.1,509.1 170.6,511.1M150.7,477.7Q148.6,481.5 149.5,482.0M170.8,469.3Q171.8,468.0 168.7,471.2M146.2,470.7Q143.0,474.7 142.7,476.2M119.5,495.8Q120.8,494.5 121.0,489.3M147.4,487.0Q147.4,485.6 147.2,484.0M169.2,479.1Q167.9,480.0 163.4,478.6M130.1,489.5Q130.7,492.3 133.2,491.2M169.5,473.3Q171.9,471.4 172.6,472.0M125.6,479.4Q126.3,481.1 123.5,481.7M178.7,459.8Q178.9,462.3 181.5,461.1M157.3,504.4Q152.7,503.5 150.9,503.7M148.6,496.6Q146.3,494.1 146.9,493.0M151.5,474.1Q153.1,477.4 155.7,477.1M132.5,472.5Q131.9,473.3 132.8,477.4M181.1,469.1Q184.0,470.9 182.3,475.2M126.4,511.8Q123.8,515.6 124.6,517.3M148.0,460.9Q148.1,456.4 145.9,456.5M120.1,483.6Q118.2,481.8 117.6,481.2M182.7,484.6Q181.9,484.2 179.1,482.6M187.4,476.7Q186.6,476.4 189.0,474.2M124.0,479.7Q123.8,477.0 120.1,476.2M172.0,470.1Q172.0,468.6 175.3,471.7M165.0,487.0Q166.2,484.0 163.8,483.5M183.3,500.9Q186.8,496.5 187.5,495.8M128.0,498.0Q129.5,497.9 128.7,500.5M138.4,465.3Q141.7,463.7 144.3,462.0M181.1,475.4Q182.9,474.7 184.1,473.4M180.2,510.2Q180.6,509.5 178.6,513.5M164.6,499.7Q164.5,499.2 169.1,498.7M174.0,469.4Q169.4,470.2 168.9,466.5M137.3,474.7Q134.9,473.2 133.3,474.2M140.2,500.2Q142.1,501.3 141.2,502.9M132.7,478.5Q135.7,476.7 135.7,474.8M148.1,508.3Q149.7,509.6 153.5,510.7M185.3,484.9Q187.7,486.0 192.2,484.4M120.7,495.5Q119.6,492.7 120.3,492.8M181.7,469.7Q180.1,471.4 180.5,474.4M152.5,479.6Q151.9,482.6 154.8,485.6M136.0,506.2Q141.3,507.4 142.3,504.9M121.4,505.0Q122.1,501.6 124.0,502.9M147.8,489.3Q149.0,488.4 153.5,490.9M137.7,495.1Q136.1,492.1 137.4,489.9M140.4,488.2Q141.2,490.6 140.6,492.5M171.0,463.2Q167.9,463.8 166.6,468.4M173.5,500.6Q175.1,504.3 173.7,504.9M140.4,459.3Q141.9,458.2 143.6,458.0M189.1,471.4Q189.3,474.5 188.9,475.1M156.0,476.3Q156.3,478.0 153.5,479.3M142.7,460.1Q138.2,460.4 138.5,465.5M130.9,487.7Q132.5,492.5 132.1,494.0M130.6,501.8Q129.7,500.9 127.7,502.7M175.4,482.1Q174.3,483.7 171.5,483.9M166.9,488.2Q165.2,486.4 163.9,485.1M129.0,467.0Q127.8,465.4 126.9,461.2M157.2,484.4Q158.4,486.3 158.4,490.0M154.4,479.9Q157.0,479.0 155.0,474.1M164.7,475.8Q160.7,473.8 159.6,475.9M143.6,498.8Q142.5,494.3 143.8,491.9M186.1,486.4Q187.5,487.9 186.7,489.8M157.3,491.4Q159.3,494.8 159.6,494.4M182.2,503.9Q183.3,499.3 181.6,499.0M143.4,460.8Q144.2,462.8 144.4,465.7M166.4,483.4Q165.0,484.4 163.9,483.0M167.6,503.4Q166.9,502.2 166.6,498.5M143.6,485.4Q140.7,487.9 141.1,488.9M150.0,458.4Q152.0,455.7 155.4,457.0M128.4,486.3Q125.8,488.6 123.8,488.7M159.9,480.7Q159.4,485.2 156.3,486.3M187.6,459.3Q187.5,458.2 189.6,454.1M160.4,480.8Q163.4,482.8 165.1,484.1M188.6,507.8Q191.6,506.2 191.2,505.7M146.2,491.1Q143.9,492.2 140.5,493.4M145.0,480.4Q145.6,480.4 149.2,476.6M167.0,487.0Q168.1,484.8 164.4,480.8M175.3,484.2Q171.9,482.5 171.2,484.4" fill="none" stroke="#333" stroke-width="0.6" opacity="0.6"/>
<path d="M120,459 L162,459 Q140,462 130,472 Q123,482 121,500 L120,505 Z" fill="#dcdcdc" opacity="0.9"/>
<path d="M121,505 Q123,482 131,472 Q141,462 162,459.5" fill="none" stroke="#777" stroke-width="1.6" opacity="0.8"/>
<ellipse cx="142.90" cy="489.20" rx="6.50" ry="7.00" fill="#404040" stroke="#303030" stroke-width="0.7" transform="rotate(0 142.90 489.20)" opacity="0.92"/>
<ellipse cx="155.10" cy="479.50" rx="5.20" ry="5.20" fill="#3e3e3e" stroke="#303030" stroke-width="0.7" transform="rotate(0 155.10 479.50)" opacity="0.92"/>
<ellipse cx="170.60" cy="491.90" rx="6.30" ry="6.30" fill="#444" stroke="#303030" stroke-width="0.7" transform="rotate(0 170.60 491.90)" opacity="0.92"/>
<ellipse cx="183.60" cy="487.80" rx="5.00" ry="6.00" fill="#454545" stroke="#303030" stroke-width="0.7" transform="rotate(0 183.60 487.80)" opacity="0.92"/>
<ellipse cx="138.10" cy="508.00" rx="6.00" ry="6.00" fill="#474747" stroke="#303030" stroke-width="0.7" transform="rotate(0 138.10 508.00)" opacity="0.92"/>
<ellipse cx="158.20" cy="507.50" rx="6.00" ry="6.00" fill="#444" stroke="#303030" stroke-width="0.7" transform="rotate(0 158.20 507.50)" opacity="0.92"/>
<ellipse cx="183.80" cy="504.20" rx="4.50" ry="4.50" fill="#4a4a4a" stroke="#303030" stroke-width="0.7" transform="rotate(0 183.80 504.20)" opacity="0.92"/>
<ellipse cx="154.70" cy="490.00" rx="3.60" ry="3.60" fill="#8a8a8a" stroke="none" stroke-width="0.7" transform="rotate(0 154.70 490.00)" opacity="0.92"/>
<ellipse cx="148.50" cy="499.60" rx="3.20" ry="3.20" fill="#9a9a9a" stroke="#222" stroke-width="1.3" transform="rotate(0 148.50 499.60)" opacity="0.92"/>
<path d="M137.30,482.45 L134.02,479.57 L136.00,480.20 L136.45,478.17 Z" fill="#0a0a0a"/><line x1="136.00" y1="480.20" x2="133.66" y2="476.15" stroke="#0a0a0a" stroke-width="0.6"/>
<path d="M173.65,486.16 L172.98,481.85 L174.10,483.60 L175.75,482.33 Z" fill="#0a0a0a"/><line x1="174.10" y1="483.60" x2="174.91" y2="478.99" stroke="#0a0a0a" stroke-width="0.6"/>
<path d="M168,480 Q166,484 170,486 Q167,483 170,480 Z" fill="#111"/>
<rect x="120.10" y="459.70" width="67.70" height="51.50" filter="url(#noise2)" opacity="0.18"/>
</g>
<clipPath id="g3"><rect x="43.60" y="513.70" width="67.80" height="51.30"/></clipPath>
<g clip-path="url(#g3)">
<rect x="43.60" y="513.70" width="67.80" height="51.30" fill="#989898" stroke="none" stroke-width="0"/>
<rect x="43.60" y="513.70" width="67.80" height="51.30" filter="url(#noise2)" opacity="0.5"/>
<path d="M75.3,529.4Q70.2,530.8 69.3,528.1M75.1,514.0Q73.8,514.9 69.7,518.3M58.6,553.6Q58.8,555.3 61.4,552.5M97.3,525.4Q98.8,526.7 103.4,524.4M105.1,517.0Q107.7,514.0 106.4,512.4M71.2,525.0Q73.6,525.1 72.6,521.2M46.4,532.1Q48.2,529.4 48.8,530.6M53.0,530.1Q54.5,531.3 56.5,528.2M107.4,534.4Q106.8,532.3 102.7,533.7M68.8,547.7Q69.8,547.2 70.3,549.8M76.1,523.4Q75.2,524.7 76.7,529.1M71.0,539.5Q70.0,539.4 66.4,541.0M62.0,555.2Q65.2,556.7 66.8,554.6M53.6,562.1Q53.3,561.9 58.0,564.3M106.6,560.8Q105.2,558.3 103.6,555.2M72.0,551.1Q70.3,555.3 71.8,555.2M41.9,541.5Q41.8,538.6 43.9,540.0M76.1,513.9Q77.4,512.8 77.1,508.7M77.8,516.5Q76.9,514.5 74.8,516.5M93.5,532.2Q93.5,532.7 91.9,535.8M59.5,516.3Q55.7,518.8 55.6,518.0M44.0,560.2Q41.2,561.1 40.0,557.2M83.1,536.9Q86.6,537.9 86.0,540.6M87.5,523.9Q86.7,523.3 90.7,523.4M95.3,519.3Q96.1,517.1 93.9,514.2M96.8,551.6Q96.2,551.5 94.1,551.0M72.5,552.0Q76.9,550.7 78.1,552.0M97.2,517.9Q93.5,518.4 93.2,515.6M65.8,546.6Q68.5,549.7 67.5,548.5M94.1,558.3Q92.0,553.7 91.9,553.0M109.3,537.4Q106.3,541.1 108.1,541.3M66.0,565.1Q63.8,565.9 64.2,568.5M96.8,557.2Q94.7,555.2 93.6,556.3M104.1,546.4Q103.7,548.7 104.0,551.9M55.2,556.7Q55.5,559.1 57.7,557.1M56.9,547.8Q62.1,547.5 63.5,548.6M64.5,517.4Q62.8,514.3 65.7,514.0M74.4,561.4Q77.8,560.9 78.3,560.3M112.5,524.2Q111.6,525.2 108.1,522.8M78.8,524.0Q78.5,522.7 73.9,524.2M75.9,540.3Q78.1,540.2 79.5,535.9M109.3,513.4Q109.8,514.4 106.1,519.6M86.0,556.8Q87.2,556.0 89.4,557.7M74.5,519.0Q74.2,521.1 75.1,522.2M107.7,548.8Q110.6,548.1 112.3,551.9M102.7,538.8Q102.3,543.9 102.5,544.2M103.5,546.9Q105.2,547.6 107.0,549.6M100.8,534.0Q96.3,531.5 95.8,531.5M91.1,545.3Q91.4,546.6 88.3,549.1M69.1,559.6Q66.8,561.2 66.9,562.6M63.4,527.7Q63.0,527.4 66.9,522.2M88.0,518.0Q89.8,520.5 90.2,523.8M46.4,528.4Q43.5,527.5 42.5,528.7M71.0,565.8Q73.7,565.2 73.6,568.8M72.3,521.6Q74.3,524.5 71.7,527.3M104.8,553.9Q105.5,555.0 109.5,552.5M97.7,524.4Q98.6,527.2 96.6,529.3M44.6,551.1Q45.5,548.6 50.3,551.2M100.0,547.1Q101.4,545.7 106.3,545.5M42.5,530.8Q40.6,530.1 39.5,527.3M85.9,537.7Q88.3,539.6 92.5,537.2M85.6,534.4Q83.0,536.7 79.6,536.8M104.1,559.6Q106.5,555.6 104.7,555.2M45.5,554.9Q44.1,557.9 46.9,560.8M98.3,518.0Q96.1,514.4 97.2,513.1M93.6,560.9Q92.3,560.5 95.3,563.8M58.0,519.1Q56.4,519.4 54.9,517.3M80.6,513.7Q81.1,510.9 77.8,512.6M107.1,519.4Q104.3,520.7 104.2,521.3M65.0,550.5Q62.8,549.9 61.8,546.3M59.1,550.8Q55.0,549.1 55.3,549.1M48.0,548.1Q45.4,548.4 46.6,551.8M63.0,517.8Q62.9,515.3 62.1,515.1M96.4,519.2Q97.7,519.0 96.1,516.4M75.0,513.4Q76.5,512.8 78.0,516.0M42.4,524.0Q40.3,522.0 43.2,520.7M111.4,561.0Q113.3,557.9 116.7,557.5M43.8,515.9Q42.4,517.4 43.9,519.6M102.7,547.7Q103.8,547.7 101.4,550.1M100.9,544.1Q104.4,542.1 105.7,544.9M86.7,561.3Q85.9,563.1 83.9,560.7M43.7,521.8Q40.1,519.5 39.8,517.3M94.5,563.7Q91.2,563.5 92.3,558.8M95.9,541.4Q95.1,542.0 91.1,542.1M100.7,544.4Q103.5,540.8 101.7,539.7M71.0,553.2Q67.6,554.8 68.2,552.9M112.7,513.5Q110.3,513.9 107.5,511.9M101.3,565.4Q97.7,566.7 98.8,566.8M66.9,532.2Q67.7,534.0 64.2,534.2M110.8,512.9Q111.0,510.6 112.0,509.0M96.3,553.4Q93.5,552.9 93.7,547.7M77.9,553.4Q74.3,555.2 74.4,551.9M100.2,516.0Q98.5,516.6 93.8,517.3M45.2,517.2Q46.3,516.6 42.8,512.4M71.3,528.9Q69.9,526.7 65.5,529.0M91.9,518.4Q89.4,517.6 88.4,517.0M84.0,546.2Q81.7,546.7 80.6,549.9M56.2,555.3Q53.1,554.2 51.0,553.6M65.5,538.9Q67.2,539.5 64.6,541.7M94.7,525.6Q98.2,527.4 99.1,524.6M57.1,512.0Q57.2,514.8 56.6,516.2M77.7,554.3Q79.4,556.2 83.8,556.9M73.7,553.5Q74.6,549.3 75.7,550.0M45.9,518.8Q44.6,515.9 43.4,514.5M45.3,565.8Q45.8,567.4 42.7,565.0M83.1,519.4Q83.9,520.2 85.6,523.3M112.4,522.7Q111.3,523.8 109.4,522.4M103.0,515.9Q104.7,515.7 105.5,512.8M98.8,543.2Q98.2,546.1 102.0,545.6M93.6,515.3Q92.7,514.9 89.3,511.1M64.3,566.7Q66.6,570.6 64.4,573.6M53.9,540.2Q53.8,539.6 56.6,537.8M85.6,546.2Q82.5,544.6 80.1,546.1M108.2,566.8Q108.9,563.6 105.2,563.4M97.3,563.9Q97.3,563.4 101.4,566.3M97.0,537.3Q98.5,536.6 99.9,539.4M61.9,545.5Q61.6,546.1 61.4,542.8M103.9,527.4Q104.3,526.7 109.4,525.4M50.9,565.1Q49.0,566.0 48.0,562.4M66.4,539.0Q67.0,534.2 63.7,534.0M99.2,532.3Q95.0,528.8 93.2,529.0M92.2,521.8Q86.7,520.5 86.0,520.8M110.0,536.4Q112.5,535.7 113.2,530.2M54.4,524.0Q51.6,523.5 49.2,522.2M49.6,530.5Q47.3,532.1 49.2,534.2M53.3,524.0Q54.3,525.7 57.7,525.2M70.1,514.4Q68.9,511.3 68.4,510.2M54.7,521.8Q55.5,523.1 53.1,526.9M103.8,530.1Q105.1,533.3 105.3,534.2M57.7,515.3Q55.4,514.7 55.6,518.3M87.3,563.7Q87.4,569.4 87.7,570.7M53.9,555.0Q51.6,554.0 49.3,550.9M54.2,536.0Q56.7,536.4 56.5,539.6" fill="none" stroke="#333" stroke-width="0.6" opacity="0.6"/>
<path d="M63,513 L68,513 Q70,524 71,535 Q68,528 64,522 Z" fill="#e6e6e6" opacity="0.9"/>
<path d="M86,513 L112,513 L112,522 Q100,526 92,520 Z" fill="#cfcfcf" opacity="0.8"/>
<path d="M44,556 Q56,550 70,540" fill="none" stroke="#dcdcdc" stroke-width="1.6" opacity="0.8"/>
<ellipse cx="81.00" cy="522.00" rx="3.20" ry="3.20" fill="#8e8e8e" stroke="#303030" stroke-width="0.7" transform="rotate(0 81.00 522.00)" opacity="0.92"/>
<ellipse cx="75.00" cy="530.00" rx="3.00" ry="3.00" fill="#8e8e8e" stroke="#303030" stroke-width="0.7" transform="rotate(0 75.00 530.00)" opacity="0.92"/>
<ellipse cx="95.00" cy="534.00" rx="3.50" ry="3.50" fill="#808080" stroke="#303030" stroke-width="0.7" transform="rotate(0 95.00 534.00)" opacity="0.92"/>
<ellipse cx="52.00" cy="545.00" rx="3.50" ry="3.50" fill="#b0b0b0" stroke="#555" stroke-width="0.7" transform="rotate(0 52.00 545.00)" opacity="0.92"/>
<ellipse cx="62.00" cy="549.00" rx="3.00" ry="3.00" fill="#a8a8a8" stroke="#555" stroke-width="0.7" transform="rotate(0 62.00 549.00)" opacity="0.92"/>
<ellipse cx="70.00" cy="557.00" rx="3.20" ry="3.20" fill="#8a8a8a" stroke="#555" stroke-width="0.7" transform="rotate(0 70.00 557.00)" opacity="0.92"/>
<ellipse cx="55.00" cy="559.00" rx="3.00" ry="3.00" fill="#9a9a9a" stroke="#555" stroke-width="0.7" transform="rotate(0 55.00 559.00)" opacity="0.92"/>
<ellipse cx="73.00" cy="545.00" rx="2.40" ry="2.40" fill="#888" stroke="#555" stroke-width="0.7" transform="rotate(0 73.00 545.00)" opacity="0.92"/>
<ellipse cx="90.00" cy="553.00" rx="3.40" ry="3.40" fill="#6c6c6c" stroke="#444" stroke-width="0.7" transform="rotate(0 90.00 553.00)" opacity="0.92"/>
<ellipse cx="104.00" cy="545.00" rx="5.00" ry="9.00" fill="#888" stroke="none" stroke-width="0.7" transform="rotate(0 104.00 545.00)" opacity="0.6"/>
<rect x="43.60" y="513.70" width="67.80" height="51.30" filter="url(#noise0)" opacity="0.18"/>
</g>
<clipPath id="g4"><rect x="120.10" y="513.70" width="67.70" height="51.30"/></clipPath>
<g clip-path="url(#g4)">
<rect x="120.10" y="513.70" width="67.70" height="51.30" fill="#9c9c9c" stroke="none" stroke-width="0"/>
<rect x="120.10" y="513.70" width="67.70" height="51.30" filter="url(#noise0)" opacity="0.5"/>
<path d="M121.3,566.5Q120.2,564.1 123.4,563.0M174.3,521.4Q176.9,521.5 180.1,521.4M179.0,553.2Q181.3,552.3 182.6,555.9M165.8,517.6Q163.3,517.7 164.1,513.6M164.9,553.8Q168.6,553.0 169.2,553.6M129.3,551.1Q132.1,548.4 131.0,546.3M184.9,545.9Q184.2,549.4 183.1,548.9M152.7,526.3Q153.8,522.6 150.1,521.8M129.3,543.5Q130.0,540.1 127.0,541.0M176.2,559.6Q175.0,560.1 170.8,560.8M140.6,526.8Q140.3,526.0 135.9,527.5M142.8,555.6Q142.9,556.6 142.4,560.6M128.9,559.6Q131.9,557.6 130.7,557.5M144.2,515.3Q142.0,515.5 139.4,515.0M118.8,562.4Q116.4,561.3 112.1,563.1M142.6,556.8Q142.9,556.3 145.6,558.7M150.2,558.8Q145.2,557.8 143.9,561.8M154.7,536.1Q153.8,537.7 157.7,534.7M120.0,555.8Q117.5,560.6 120.0,561.8M135.9,566.3Q139.7,567.3 139.2,567.8M165.2,541.4Q165.5,538.7 163.7,539.1M164.1,546.9Q164.9,542.2 167.0,540.7M156.3,553.6Q156.4,552.7 158.6,548.5M184.8,545.8Q182.7,544.4 179.3,544.1M131.6,525.4Q131.6,527.0 131.8,531.0M131.6,523.9Q128.1,525.5 129.3,529.8M137.5,546.4Q136.3,541.8 138.6,542.0M144.4,539.9Q144.0,536.0 141.6,534.2M172.3,536.8Q171.8,539.7 174.5,541.3M174.5,512.3Q174.5,512.0 169.9,516.6M147.5,540.4Q147.7,540.2 151.1,540.1M157.2,542.0Q156.9,543.6 153.9,542.4M141.5,566.2Q142.4,568.0 145.2,568.2M137.2,541.1Q135.9,541.8 134.2,542.9M155.5,563.7Q157.1,560.7 158.1,561.5M186.8,561.8Q182.3,558.6 182.5,559.2M146.5,513.7Q146.1,514.8 141.9,516.2M148.9,518.1Q148.0,514.6 146.8,515.4M126.2,540.2Q124.9,536.3 127.0,537.4M179.6,550.9Q179.0,553.9 183.3,556.6M141.5,540.1Q139.2,537.9 139.9,537.7M136.2,523.9Q137.4,522.1 137.7,521.4M135.1,553.6Q136.9,553.7 134.5,548.9M160.1,515.2Q156.8,515.5 156.6,518.4M182.3,514.3Q179.5,514.2 177.8,510.6M178.3,562.7Q176.6,566.3 178.6,566.4M131.5,561.3Q134.7,561.4 133.9,564.2M169.3,564.2Q170.1,561.8 166.5,558.9M121.7,560.1Q124.2,558.2 123.6,557.8M124.5,516.8Q122.1,518.0 119.3,520.8M157.1,549.1Q159.0,546.1 159.3,547.7M170.6,526.5Q169.7,529.9 170.6,532.8M164.1,548.4Q164.1,549.1 165.2,554.7M159.2,539.3Q160.8,538.0 162.3,540.6M183.3,560.7Q183.7,564.6 185.5,566.7M124.6,564.3Q123.4,566.9 123.2,566.6M138.7,564.3Q138.7,564.6 135.4,566.9M152.6,546.6Q151.5,548.4 148.9,549.5M177.8,562.2Q174.5,559.1 174.9,556.4M165.1,532.7Q164.4,529.2 161.9,527.7M156.3,547.0Q155.5,544.6 156.1,542.7M143.7,531.5Q142.5,532.2 139.6,534.4M187.9,537.4Q187.8,539.1 190.7,538.2M130.4,540.6Q131.3,539.8 128.1,543.8M122.6,534.6Q120.4,532.7 122.4,530.8M118.8,538.2Q120.2,535.6 119.5,535.4M157.9,566.5Q154.0,563.5 153.9,564.0M123.2,541.0Q124.6,539.1 122.1,535.7M125.7,549.3Q123.3,546.4 120.9,546.1M151.8,541.2Q150.6,538.4 152.9,537.8M131.9,532.1Q133.1,534.6 131.3,536.8M143.6,522.7Q141.7,525.0 138.0,522.3M185.9,513.4Q186.6,515.0 191.3,516.0M144.9,556.2Q143.0,554.2 143.9,552.1M126.8,565.4Q127.1,568.0 126.8,568.0M183.7,535.2Q180.1,534.0 180.6,529.9M159.0,533.1Q163.9,528.3 163.9,528.2M182.9,546.2Q181.7,547.4 178.5,548.8M132.7,531.8Q136.1,533.3 136.2,535.8M162.4,516.7Q163.4,519.3 166.5,519.1M183.1,521.7Q180.6,522.5 178.7,524.1M161.5,555.4Q161.1,554.8 164.3,557.1M145.5,553.5Q145.4,556.0 149.2,554.9M175.0,553.0Q174.9,553.0 178.5,550.4M153.0,525.7Q148.8,527.2 149.3,524.4M142.4,555.2Q140.2,559.0 141.2,558.1M161.3,552.9Q164.9,555.9 164.0,556.2M167.3,548.8Q165.7,546.6 166.3,544.8M140.1,535.4Q137.9,535.7 136.7,535.6M124.5,515.0Q125.1,515.7 130.6,514.2M141.0,560.0Q143.5,559.0 141.4,562.6M168.1,516.0Q165.4,517.4 164.7,521.0M122.8,564.9Q122.1,562.9 123.2,560.8M134.4,565.7Q134.6,562.7 137.3,563.0M138.5,562.8Q139.0,560.9 141.3,556.6M152.4,523.7Q155.2,523.4 153.6,518.9M142.4,549.7Q146.0,551.2 147.5,548.3M121.0,523.3Q121.1,524.2 124.8,524.2M119.2,565.2Q118.7,565.2 119.1,561.7M187.9,556.3Q185.3,555.8 186.5,553.3M138.6,553.4Q139.5,553.3 141.2,556.5M122.3,565.9Q122.1,568.7 125.2,570.7M118.9,512.9Q116.9,515.1 113.4,516.1M186.0,555.4Q184.6,553.6 185.2,551.1M126.4,536.5Q128.5,537.7 130.0,535.1M139.3,527.2Q139.0,527.9 135.2,529.3M165.1,512.6Q162.9,513.7 162.7,519.1M145.4,546.8Q148.5,544.3 147.8,544.6M141.6,558.9Q136.9,560.2 136.3,562.5M158.2,516.4Q157.9,517.4 154.5,517.6M184.2,551.4Q182.4,549.2 185.2,546.7M170.0,558.5Q165.2,558.2 163.7,556.5M120.6,513.8Q119.3,519.0 121.7,520.0M171.8,524.7Q173.9,524.2 174.9,525.1M180.3,544.6Q179.7,543.6 177.5,539.9M179.1,539.3Q182.0,540.7 184.5,542.7M185.6,528.6Q185.7,529.8 188.5,528.2M168.0,523.4Q170.0,524.0 170.4,528.3M144.8,536.5Q144.0,534.9 142.3,534.9M148.8,556.3Q144.9,558.3 142.9,559.9M121.3,561.7Q119.8,558.7 119.5,559.8M162.6,523.6Q161.4,522.4 162.7,519.4M155.1,517.5Q154.2,516.9 151.1,514.6M169.5,546.1Q165.8,548.5 164.5,546.3M125.2,536.1Q126.4,534.7 131.7,537.2M155.8,516.1Q156.9,513.4 160.9,511.5M138.6,546.9Q140.9,550.4 141.8,552.6M155.5,546.1Q154.8,545.2 150.3,549.1M162.2,558.7Q161.1,561.4 162.7,562.5M143.4,548.1Q143.1,546.5 140.0,545.1M175.1,515.2Q171.5,518.5 169.9,517.0M168.8,532.0Q170.7,535.2 170.7,533.9M136.5,556.7Q136.3,554.2 134.3,555.0" fill="none" stroke="#333" stroke-width="0.6" opacity="0.6"/>
<path d="M140,530 L160,513 L165,513 L143,532 Z" fill="#d8d8d8" opacity="0.8"/>
<path d="M120,560 Q128,556 136,565 L120,565 Z" fill="#d0d0d0" opacity="0.8"/>
<ellipse cx="171.30" cy="522.40" rx="6.50" ry="6.50" fill="#848484" stroke="#444" stroke-width="1.0" transform="rotate(0 171.30 522.40)" opacity="0.92"/>
<ellipse cx="174.80" cy="540.40" rx="8.00" ry="8.00" fill="#b8b8b8" stroke="#4a4a4a" stroke-width="1.2" transform="rotate(0 174.80 540.40)" opacity="0.92"/>
<ellipse cx="151.90" cy="539.00" rx="8.50" ry="8.50" fill="#b4b4b4" stroke="#4a4a4a" stroke-width="1.2" transform="rotate(0 151.90 539.00)" opacity="0.92"/>
<ellipse cx="147.10" cy="557.50" rx="7.00" ry="7.00" fill="#727272" stroke="#444" stroke-width="1.0" transform="rotate(0 147.10 557.50)" opacity="0.92"/>
<ellipse cx="130.50" cy="546.60" rx="5.00" ry="9.00" fill="#bcbcbc" stroke="#5a5a5a" stroke-width="0.9" transform="rotate(-10 130.50 546.60)" opacity="0.92"/>
<ellipse cx="165.00" cy="560.00" rx="5.00" ry="5.00" fill="#909090" stroke="#555" stroke-width="0.7" transform="rotate(0 165.00 560.00)" opacity="0.92"/>
<ellipse cx="131.00" cy="522.00" rx="9.00" ry="7.00" fill="#8c8c8c" stroke="none" stroke-width="0.7" transform="rotate(0 131.00 522.00)" opacity="0.55"/>
<path d="M148.20,538.70 L144.58,536.92 L146.50,537.00 L146.42,535.08 Z" fill="#0a0a0a"/><line x1="146.50" y1="537.00" x2="143.45" y2="533.95" stroke="#0a0a0a" stroke-width="0.6"/>
<path d="M176.00,540.60 L177.30,544.42 L176.00,543.00 L174.70,544.42 Z" fill="#0a0a0a"/><line x1="176.00" y1="543.00" x2="176.00" y2="547.32" stroke="#0a0a0a" stroke-width="0.6"/>
<rect x="184.5" y="513" width="3.5" height="53" fill="#7a7a7a" opacity="0.6"/>
<rect x="120.10" y="513.70" width="67.70" height="51.30" filter="url(#noise1)" opacity="0.18"/>
</g>
<clipPath id="g5"><rect x="217.70" y="459.70" width="68.50" height="50.90"/></clipPath>
<g clip-path="url(#g5)">
<rect x="217.70" y="459.70" width="68.50" height="50.90" fill="#b2b2b2" stroke="none" stroke-width="0"/>
<rect x="217.70" y="459.70" width="68.50" height="50.90" filter="url(#noise1)" opacity="0.5"/>
<path d="M242.3,463.2Q242.3,464.1 245.5,468.5M279.5,466.5Q275.7,469.6 275.5,469.8M274.9,487.0Q277.3,488.7 281.4,485.7M225.6,503.6Q225.5,501.7 223.2,500.0M251.3,477.3Q251.2,478.3 252.5,479.8M243.8,506.0Q242.9,505.2 237.1,506.6M239.3,495.7Q236.7,497.3 236.8,496.6M284.3,469.8Q283.3,472.7 280.3,470.8M241.3,500.5Q242.7,500.7 244.5,505.0M239.8,467.8Q241.4,465.5 242.7,464.9M253.4,506.0Q250.6,510.7 249.3,511.5M249.3,475.5Q249.6,479.5 248.8,480.5M268.0,504.5Q266.1,505.5 265.7,510.9M254.5,479.0Q254.3,478.3 257.9,475.2M272.9,478.4Q273.9,476.3 271.8,472.3M216.2,499.2Q214.8,499.8 212.8,497.8M266.2,506.5Q265.1,504.9 267.4,503.0M273.7,462.1Q269.6,459.9 269.3,457.3M244.5,490.0Q242.9,489.7 242.9,492.5M223.1,468.8Q225.2,467.6 229.4,469.5M272.0,495.4Q273.8,493.8 274.8,494.7M262.9,463.9Q262.6,462.2 264.1,460.8M269.5,464.0Q269.3,462.9 267.2,457.9M257.1,481.3Q256.1,480.4 257.2,477.9M218.9,487.7Q221.2,486.6 222.2,488.6M241.9,461.6Q240.3,464.8 240.3,463.9M218.3,487.4Q218.6,489.2 219.0,490.5M219.7,486.3Q219.6,488.1 216.9,487.7M221.9,473.3Q224.1,475.0 223.7,475.6M277.5,508.5Q277.4,506.0 274.6,506.3M221.7,494.7Q224.9,496.1 225.6,494.4M259.7,469.3Q258.5,465.9 258.9,466.3M266.0,490.7Q268.1,491.8 269.4,493.6M266.3,507.2Q264.2,503.9 264.8,504.8M245.7,467.7Q247.4,467.9 247.0,470.9M260.6,505.7Q259.2,504.3 256.0,506.8M240.6,473.1Q236.7,470.9 237.2,471.8M285.5,471.4Q283.8,476.4 286.2,476.6M269.7,464.0Q272.0,462.9 271.8,458.5M248.9,471.1Q249.9,470.0 252.9,467.2M287.7,504.8Q288.8,502.2 294.2,502.8M277.6,478.3Q275.1,480.0 276.2,482.5M281.9,463.5Q280.8,461.2 280.5,461.3M222.8,483.1Q224.4,483.3 227.0,486.8M240.6,511.9Q241.1,513.5 244.6,512.2M271.6,467.8Q271.3,471.4 266.4,471.8M215.9,482.7Q216.6,484.9 218.2,488.2M237.5,475.7Q241.6,476.9 242.6,476.8M281.5,502.5Q284.2,504.5 285.5,506.1M219.2,460.3Q218.7,462.6 221.8,461.3M221.1,490.2Q221.5,487.0 220.2,484.9M230.2,500.7Q229.3,500.7 228.5,505.2M229.6,467.4Q226.4,470.6 226.7,470.3M246.1,493.2Q248.5,495.7 246.3,496.2M283.1,510.9Q286.9,511.2 286.8,509.6M238.5,500.0Q243.1,502.4 244.6,501.4M220.9,485.2Q220.6,484.8 216.3,480.8M246.2,508.6Q247.3,509.3 250.0,509.8M246.7,487.0Q245.8,483.6 242.5,485.0M233.7,489.2Q234.5,488.5 237.9,490.9M218.0,510.7Q218.5,511.4 215.9,507.5M240.9,480.1Q239.7,475.5 237.8,475.4M231.1,492.4Q227.4,496.1 226.3,497.1M252.9,487.9Q248.6,488.2 249.1,491.5M248.6,485.8Q249.9,480.3 248.3,479.6M282.1,474.0Q279.8,472.3 278.4,470.4M231.9,491.9Q232.0,492.8 232.1,495.5M252.5,465.5Q252.6,465.5 257.0,469.2M265.7,493.3Q262.6,491.1 262.5,492.1M268.4,501.2Q266.0,502.3 262.6,499.1M260.4,461.9Q262.9,466.8 263.5,467.5M230.2,480.1Q231.1,481.0 230.1,485.0M267.9,475.2Q267.7,475.7 269.8,477.5M284.2,479.8Q288.4,481.0 290.0,482.2M240.5,507.7Q237.5,509.3 237.1,508.4M224.7,482.3Q220.0,479.4 220.2,477.2M242.0,488.4Q239.0,491.3 237.8,491.0M281.5,472.8Q285.1,475.2 285.2,474.2M261.8,469.7Q259.6,473.3 256.3,472.2M278.7,477.5Q278.3,477.8 273.2,473.4M262.2,491.1Q263.5,491.4 265.8,487.7M273.6,488.6Q277.7,488.4 278.8,486.4M227.6,480.5Q226.6,479.7 223.2,478.7M287.9,493.6Q286.1,493.0 281.7,493.0M273.2,501.3Q272.2,497.9 270.0,495.6M254.6,484.4Q255.7,483.0 254.2,481.3M216.0,486.9Q216.9,491.9 216.3,492.1M226.6,498.6Q223.7,501.2 219.7,499.2M261.4,477.4Q260.8,475.2 255.3,475.1M230.4,493.1Q230.6,493.2 233.1,491.7M229.1,495.0Q230.5,497.0 228.5,499.3M235.6,511.3Q236.7,512.6 239.4,510.8M267.5,461.8Q270.6,461.9 270.1,464.0M255.6,460.6Q254.9,458.9 257.8,455.8M277.3,502.5Q276.8,500.1 277.4,499.6M263.1,465.2Q267.0,466.2 267.7,469.9M256.3,503.7Q257.8,507.6 258.4,506.6M263.0,468.1Q260.1,466.5 259.7,467.2M251.6,500.4Q251.6,504.8 248.6,506.3M225.0,508.8Q225.2,509.5 226.4,513.3M259.2,493.0Q258.7,492.7 255.5,493.7M285.2,476.6Q283.8,480.8 284.7,480.1" fill="none" stroke="#333" stroke-width="0.6" opacity="0.6"/>
<rect x="217" y="459" width="70" height="10" fill="#8c8c8c" opacity="0.45"/>
<path d="M217,489 Q229,501 247,511 L217,511 Z" fill="#dcdcdc" opacity="0.9"/>
<path d="M217,489 Q229,501 247,511" fill="none" stroke="#666" stroke-width="0.9"/>
<ellipse cx="231.90" cy="485.00" rx="3.50" ry="2.50" fill="#505050" stroke="#303030" stroke-width="0.7" transform="rotate(20 231.90 485.00)" opacity="0.92"/>
<ellipse cx="240.90" cy="484.30" rx="2.50" ry="2.50" fill="#555" stroke="#303030" stroke-width="0.7" transform="rotate(0 240.90 484.30)" opacity="0.92"/>
<ellipse cx="243.00" cy="475.30" rx="2.60" ry="2.60" fill="#5a5a5a" stroke="#303030" stroke-width="0.7" transform="rotate(0 243.00 475.30)" opacity="0.92"/>
<ellipse cx="238.90" cy="492.60" rx="2.50" ry="2.50" fill="#5a5a5a" stroke="#303030" stroke-width="0.7" transform="rotate(0 238.90 492.60)" opacity="0.92"/>
<ellipse cx="240.20" cy="466.30" rx="1.50" ry="1.50" fill="#333" stroke="#303030" stroke-width="0.7" transform="rotate(0 240.20 466.30)" opacity="0.92"/>
<ellipse cx="265.20" cy="489.90" rx="4.00" ry="2.50" fill="#4a4a4a" stroke="#303030" stroke-width="0.7" transform="rotate(-10 265.20 489.90)" opacity="0.92"/>
<ellipse cx="268.60" cy="500.90" rx="2.50" ry="2.50" fill="#444" stroke="#303030" stroke-width="0.7" transform="rotate(0 268.60 500.90)" opacity="0.92"/>
<ellipse cx="263.10" cy="499.60" rx="2.00" ry="2.00" fill="#444" stroke="#303030" stroke-width="0.7" transform="rotate(0 263.10 499.60)" opacity="0.92"/>
<ellipse cx="275.60" cy="474.60" rx="2.50" ry="2.50" fill="#5a5a5a" stroke="#303030" stroke-width="0.7" transform="rotate(0 275.60 474.60)" opacity="0.92"/>
<ellipse cx="281.10" cy="503.70" rx="2.60" ry="2.60" fill="#3a3a3a" stroke="#303030" stroke-width="0.7" transform="rotate(0 281.10 503.70)" opacity="0.92"/>
<ellipse cx="255.50" cy="495.40" rx="1.50" ry="1.50" fill="#333" stroke="#303030" stroke-width="0.7" transform="rotate(0 255.50 495.40)" opacity="0.92"/>
<ellipse cx="229.00" cy="477.00" rx="2.00" ry="2.00" fill="#666" stroke="#303030" stroke-width="0.7" transform="rotate(0 229.00 477.00)" opacity="0.92"/>
<rect x="217.70" y="459.70" width="68.50" height="50.90" filter="url(#noise2)" opacity="0.18"/>
</g>
<clipPath id="g6"><rect x="294.30" y="459.70" width="67.60" height="50.70"/></clipPath>
<g clip-path="url(#g6)">
<rect x="294.30" y="459.70" width="67.60" height="50.70" fill="#b4b4b4" stroke="none" stroke-width="0"/>
<rect x="294.30" y="459.70" width="67.60" height="50.70" filter="url(#noise2)" opacity="0.5"/>
<path d="M299.7,474.2Q303.0,474.5 304.0,472.3M321.0,481.6Q321.2,480.5 319.0,478.3M293.0,507.3Q294.6,508.2 296.3,510.1M315.9,493.0Q313.9,495.3 316.4,496.5M359.0,490.0Q361.5,492.7 363.0,491.8M334.1,476.3Q333.0,478.0 335.9,482.8M330.0,486.7Q327.6,486.3 328.0,488.3M349.2,499.8Q349.0,499.1 351.7,498.6M333.2,490.8Q335.5,490.7 337.7,495.4M344.1,481.5Q344.3,476.4 346.2,474.9M338.4,498.9Q334.5,502.0 333.8,501.3M305.1,499.7Q307.9,498.3 309.1,500.0M361.7,468.0Q363.2,469.8 368.0,469.8M334.5,475.6Q331.3,474.7 330.2,477.4M334.3,473.6Q329.0,471.2 328.6,472.4M297.4,484.8Q294.5,483.0 293.9,481.0M334.6,508.2Q333.7,510.4 331.7,508.5M343.3,506.7Q343.7,507.8 345.0,510.5M311.4,495.7Q313.3,495.0 313.8,493.1M347.3,495.6Q345.2,493.2 347.0,490.3M313.3,478.2Q313.6,478.4 312.2,481.8M296.0,459.3Q296.3,463.9 299.0,464.3M307.1,482.7Q305.8,479.7 306.3,475.9M304.6,484.2Q309.6,482.8 311.1,482.9M362.2,507.6Q360.3,504.6 357.0,506.3M340.2,498.4Q337.2,496.4 336.7,496.2M304.7,496.5Q302.9,497.1 304.6,493.2M334.2,473.9Q332.5,477.1 333.5,480.2M347.0,511.4Q346.7,510.9 350.9,511.7M294.9,485.6Q298.2,485.8 298.3,487.9M360.4,490.3Q360.0,491.8 363.8,489.0M353.2,494.0Q353.5,495.2 349.4,495.0M344.5,466.7Q345.6,464.2 347.2,460.6M328.4,476.3Q329.2,478.1 331.6,478.1M339.2,498.9Q338.5,499.6 334.1,497.2M294.6,501.5Q292.4,500.0 289.4,498.2M341.7,511.8Q344.3,513.1 346.1,511.4M343.5,502.7Q340.1,501.5 340.8,499.8M345.5,472.3Q346.8,475.8 345.9,476.2M313.9,504.8Q314.4,504.7 315.8,501.9M311.8,470.0Q312.1,468.1 314.4,466.5M346.8,488.7Q343.1,489.7 340.6,491.5M342.7,481.8Q340.4,485.8 338.6,486.7M307.3,498.2Q304.9,500.1 304.8,498.2M350.5,500.6Q350.8,498.3 353.1,498.3M314.5,470.4Q314.2,470.8 317.6,471.5M327.2,510.1Q327.2,508.7 331.3,509.1M331.5,464.1Q328.4,467.2 328.6,467.9M293.2,502.8Q294.7,504.2 297.2,502.1M335.3,462.3Q337.4,460.3 338.5,456.5M320.1,506.4Q322.1,505.3 319.2,508.9M361.0,490.7Q360.5,490.5 358.7,488.9M321.3,473.9Q321.9,472.5 327.1,471.2M358.0,511.8Q357.6,511.6 355.6,510.8M344.9,510.0Q344.1,509.8 338.6,510.0M354.7,460.0Q353.0,463.0 354.8,464.7M309.1,487.5Q309.1,489.6 309.9,494.0M359.8,483.3Q360.4,480.9 361.9,480.3M359.6,484.6Q363.8,481.3 364.5,481.2M345.1,511.7Q343.6,513.3 339.6,510.4M362.9,472.4Q361.0,470.4 359.8,472.8M331.7,468.0Q326.1,466.4 324.7,468.0M294.6,465.4Q290.5,467.3 291.3,469.3M340.6,464.0Q343.2,465.9 342.5,468.7M338.0,466.5Q338.7,471.0 336.5,472.8M353.5,506.8Q350.1,506.8 350.2,505.9M331.8,487.0Q337.1,487.1 338.1,488.8M343.7,471.2Q343.8,471.8 344.2,468.2M355.9,469.7Q358.9,465.1 356.9,464.7M339.0,498.5Q341.2,501.3 344.2,501.3M297.7,469.5Q296.5,470.0 294.1,474.1M339.3,510.2Q343.0,510.1 343.0,505.8M311.4,496.8Q309.1,493.2 307.1,493.2M302.5,500.3Q304.6,500.7 306.6,498.8M333.3,498.4Q333.9,500.8 335.0,500.8M314.6,475.5Q309.8,472.6 309.1,472.3M297.1,465.3Q299.0,464.0 297.0,459.4M319.9,478.9Q324.6,478.1 326.6,480.3M309.0,494.0Q309.4,496.0 314.8,497.1M316.8,459.6Q320.9,459.5 323.1,459.3M336.4,508.3Q340.6,510.1 343.3,506.9M342.2,499.9Q344.2,498.4 344.3,493.5M361.3,502.0Q358.6,500.4 358.2,497.7M304.1,458.9Q302.9,460.0 300.3,457.0M310.2,488.5Q310.2,489.7 307.0,488.2M354.2,510.0Q351.2,505.7 352.6,505.1M337.1,487.7Q336.9,488.8 340.0,485.7M294.5,503.9Q296.3,500.2 295.7,501.5M319.2,489.5Q318.8,485.2 315.9,485.5M318.3,482.7Q319.4,485.8 322.7,484.4M295.5,479.8Q298.0,482.3 299.5,480.0M314.4,511.6Q316.1,511.8 315.2,507.3M341.0,484.4Q339.2,482.3 341.9,481.9M337.6,462.6Q337.1,459.3 335.0,460.4M304.5,471.6Q303.8,475.7 305.6,478.1M334.9,461.0Q336.9,462.7 334.9,464.9M333.7,494.9Q331.8,494.8 332.5,499.4M332.0,463.1Q335.5,464.9 334.6,467.0M361.7,475.3Q362.0,475.9 359.5,476.7M309.8,470.8Q309.7,469.3 306.8,464.6" fill="none" stroke="#333" stroke-width="0.6" opacity="0.6"/>
<path d="M338,468 Q352,462 362,466 L362,492 Q350,488 340,482 Z" fill="#c8c8c8" opacity="0.7"/>
<ellipse cx="315.50" cy="489.20" rx="7.00" ry="5.00" fill="#626262" stroke="#333" stroke-width="1.0" transform="rotate(25 315.50 489.20)" opacity="0.92"/>
<ellipse cx="331.50" cy="487.80" rx="5.00" ry="4.00" fill="#6a6a6a" stroke="#333" stroke-width="0.7" transform="rotate(-20 331.50 487.80)" opacity="0.92"/>
<ellipse cx="326.60" cy="501.50" rx="5.00" ry="5.00" fill="#707070" stroke="#3a3a3a" stroke-width="0.7" transform="rotate(0 326.60 501.50)" opacity="0.92"/>
<ellipse cx="336.00" cy="469.10" rx="3.50" ry="3.50" fill="#5a5a5a" stroke="#303030" stroke-width="0.7" transform="rotate(0 336.00 469.10)" opacity="0.92"/>
<ellipse cx="344.60" cy="495.10" rx="2.50" ry="2.50" fill="#6a6a6a" stroke="#303030" stroke-width="0.7" transform="rotate(0 344.60 495.10)" opacity="0.92"/>
<ellipse cx="357.10" cy="505.10" rx="4.00" ry="4.00" fill="#5e5e5e" stroke="#303030" stroke-width="0.7" transform="rotate(0 357.10 505.10)" opacity="0.92"/>
<ellipse cx="361.30" cy="494.70" rx="3.00" ry="3.00" fill="#555" stroke="#303030" stroke-width="0.7" transform="rotate(0 361.30 494.70)" opacity="0.92"/>
<rect x="354" y="459.7" width="8" height="3" fill="#222" opacity="0.6"/>
<path d="M318.05,484.76 L315.95,480.93 L317.60,482.20 L318.72,480.45 Z" fill="#0a0a0a"/><line x1="317.60" y1="482.20" x2="316.79" y2="477.59" stroke="#0a0a0a" stroke-width="0.6"/>
<path d="M333.74,502.75 L337.57,500.65 L336.30,502.30 L338.05,503.42 Z" fill="#0a0a0a"/><line x1="336.30" y1="502.30" x2="340.91" y2="501.49" stroke="#0a0a0a" stroke-width="0.6"/>
<rect x="294.30" y="459.70" width="67.60" height="50.70" filter="url(#noise0)" opacity="0.18"/>
</g>
<clipPath id="g7"><rect x="217.70" y="515.00" width="68.50" height="50.80"/></clipPath>
<g clip-path="url(#g7)">
<rect x="217.70" y="515.00" width="68.50" height="50.80" fill="#b0b0b0" stroke="none" stroke-width="0"/>
<rect x="217.70" y="515.00" width="68.50" height="50.80" filter="url(#noise0)" opacity="0.5"/>
<path d="M263.7,559.9Q260.9,559.9 260.6,555.6M222.5,535.2Q220.9,533.0 223.3,529.2M264.1,523.2Q265.1,521.2 261.7,524.0M265.8,557.6Q265.9,555.4 267.9,554.0M249.4,546.8Q250.4,544.6 247.4,542.6M244.7,537.4Q242.1,540.9 243.7,541.9M238.8,536.8Q237.4,538.2 238.7,543.3M251.4,530.3Q249.4,530.3 247.5,534.1M222.0,559.7Q221.3,560.2 217.5,560.2M261.3,521.3Q260.1,520.1 255.8,522.5M232.6,514.4Q234.9,512.6 232.8,510.4M246.6,558.5Q246.5,555.3 247.2,553.6M261.6,560.8Q261.5,555.4 263.1,554.9M221.1,532.3Q220.6,532.8 220.8,536.0M218.7,549.3Q216.9,548.9 219.3,546.2M243.9,533.9Q245.0,530.9 249.6,531.0M246.8,543.2Q245.4,543.2 248.4,545.1M279.3,515.3Q278.4,513.1 278.1,512.4M223.0,513.2Q224.2,511.2 229.2,513.7M286.2,536.4Q286.5,537.3 289.6,538.5M259.1,554.6Q256.5,555.9 256.0,553.5M272.6,547.2Q273.7,545.0 270.5,545.9M259.1,543.8Q262.3,542.9 263.5,541.2M230.5,539.2Q230.6,535.2 231.6,532.7M285.4,521.0Q284.5,518.9 281.1,518.5M266.1,539.9Q270.2,536.4 269.9,536.4M275.9,517.1Q277.3,513.7 280.3,512.6M239.4,521.1Q236.9,520.0 235.9,522.0M283.5,558.1Q281.6,557.7 281.5,556.0M223.7,550.0Q227.1,549.5 226.7,550.8M276.5,541.7Q276.1,539.3 274.7,534.9M228.7,536.9Q226.4,539.8 222.7,539.8M230.9,553.5Q235.5,551.4 235.4,553.8M242.4,547.5Q245.8,547.6 244.5,549.8M284.2,524.5Q285.1,526.7 288.3,525.9M217.4,520.0Q217.0,519.7 220.2,522.2M275.0,551.9Q272.5,550.9 269.7,548.8M234.3,551.8Q231.4,548.1 229.9,549.4M220.7,527.9Q221.5,525.0 221.8,522.5M219.2,552.0Q221.5,553.9 225.4,554.2M229.0,546.0Q229.0,549.7 233.1,549.8M276.1,535.9Q275.4,535.9 278.7,535.8M266.8,539.7Q266.0,544.3 269.5,545.0M255.7,555.7Q259.4,558.7 259.3,559.2M270.3,557.1Q267.8,556.2 266.1,553.3M233.0,540.5Q234.2,543.1 235.4,544.4M239.0,520.1Q236.6,517.0 237.4,516.8M277.8,560.6Q277.7,562.8 277.0,566.2M221.8,532.5Q220.6,529.4 220.4,530.4M247.6,524.0Q248.6,526.2 244.6,523.6M275.9,566.0Q275.1,568.9 277.6,569.2M220.0,513.3Q219.6,512.5 217.0,510.2M246.3,524.9Q248.6,522.2 248.4,521.7M287.5,549.4Q287.6,550.2 289.4,554.8M278.5,565.5Q278.5,568.8 279.6,570.1M251.0,530.7Q250.1,526.7 252.7,527.6M222.0,535.5Q226.4,536.8 225.9,533.8M275.7,565.7Q274.1,565.2 273.9,561.8M224.5,554.1Q223.9,553.9 219.0,553.5M284.0,518.0Q282.1,517.3 278.2,514.8M281.6,544.4Q281.3,546.2 283.0,550.3M218.0,553.8Q218.5,556.3 216.0,556.4M235.0,516.3Q237.1,514.5 237.6,517.4M261.4,542.9Q262.4,539.2 262.7,539.9M261.1,522.9Q263.9,527.7 263.5,529.5M251.6,555.1Q248.0,556.8 249.2,556.9M254.7,535.3Q252.8,535.0 252.4,537.0M229.7,525.2Q230.7,527.5 236.2,527.7M268.8,536.1Q267.2,535.6 268.7,533.1M231.9,531.9Q231.4,530.7 228.9,529.5M217.5,536.7Q215.7,535.9 216.2,539.3M265.3,541.1Q263.8,540.3 262.0,540.5M225.0,562.7Q227.1,562.3 230.8,563.1M272.4,527.0Q271.8,523.6 273.8,524.4M264.0,541.7Q264.2,544.7 267.2,543.5M237.5,530.9Q239.0,530.5 240.7,533.0M287.5,556.3Q285.4,556.2 283.9,558.9M218.3,561.7Q218.4,560.1 216.5,555.4M216.8,551.2Q214.9,555.9 217.9,556.9M254.7,524.7Q258.8,525.0 258.8,526.0M216.4,540.3Q214.5,543.9 216.7,543.3M241.9,553.2Q244.3,552.9 246.4,555.4M229.3,539.6Q231.4,540.0 233.7,539.7M234.5,524.0Q232.6,528.2 231.3,528.2M282.6,534.8Q285.6,535.5 284.4,532.5M251.7,538.4Q254.6,533.3 252.8,532.0M243.4,513.9Q240.9,516.5 238.2,517.6M243.1,519.8Q242.0,519.2 243.1,516.1M257.9,526.9Q254.7,528.7 255.4,525.6M236.7,531.6Q235.5,532.6 235.9,535.4M221.5,541.8Q222.5,541.7 220.6,538.3M266.3,527.1Q264.1,527.5 266.0,530.4M285.0,561.7Q286.7,561.8 289.6,557.5M254.9,543.4Q255.4,543.1 257.9,543.4M235.6,548.1Q233.8,545.4 234.1,545.1M278.1,513.2Q274.7,511.9 275.1,512.8M275.8,537.8Q274.2,534.4 271.3,535.9M265.6,533.6Q263.5,530.7 261.3,532.5M255.6,526.0Q253.6,521.7 256.3,519.5M279.9,530.8Q277.9,533.4 275.4,534.8M257.1,537.3Q254.8,539.1 253.7,536.5M273.4,526.2Q272.7,526.7 276.0,524.7" fill="none" stroke="#333" stroke-width="0.6" opacity="0.6"/>
<path d="M217,515 L248,515 Q236,528 226,538 Q221,543 217,546 Z" fill="#dcdcdc" opacity="0.9"/>
<path d="M248,515 Q236,528 226,538 Q221,543 217,546" fill="none" stroke="#6a6a6a" stroke-width="0.9"/>
<path d="M251.3,566 Q253,550 260,543 Q270,535 286,533" fill="none" stroke="#555" stroke-width="0.9"/>
<path d="M258,566 Q262,548 286,540 L286,566 Z" fill="#b8b8b8" opacity="0.5"/>
<path d="M263.8,566 L264,561 Q268,556 274,557 Q279,555 283,558 L286,557 L286,566 Z" fill="#141414" opacity="0.95"/>
<ellipse cx="234.70" cy="543.90" rx="2.60" ry="3.40" fill="#6e6e6e" stroke="#303030" stroke-width="0.7" transform="rotate(0 234.70 543.90)" opacity="0.92"/>
<ellipse cx="241.60" cy="539.70" rx="2.20" ry="3.60" fill="#6e6e6e" stroke="#303030" stroke-width="0.7" transform="rotate(0 241.60 539.70)" opacity="0.92"/>
<ellipse cx="231.90" cy="550.80" rx="3.40" ry="3.40" fill="#6e6e6e" stroke="#303030" stroke-width="0.7" transform="rotate(0 231.90 550.80)" opacity="0.92"/>
<ellipse cx="238.20" cy="548.70" rx="2.50" ry="2.50" fill="#707070" stroke="#303030" stroke-width="0.7" transform="rotate(0 238.20 548.70)" opacity="0.92"/>
<ellipse cx="227.10" cy="554.20" rx="2.60" ry="2.60" fill="#757575" stroke="#303030" stroke-width="0.7" transform="rotate(0 227.10 554.20)" opacity="0.92"/>
<ellipse cx="242.30" cy="556.30" rx="2.60" ry="2.60" fill="#6a6a6a" stroke="#303030" stroke-width="0.7" transform="rotate(0 242.30 556.30)" opacity="0.92"/>
<ellipse cx="247.20" cy="558.40" rx="2.40" ry="2.40" fill="#6a6a6a" stroke="#303030" stroke-width="0.7" transform="rotate(0 247.20 558.40)" opacity="0.92"/>
<ellipse cx="231.20" cy="563.20" rx="2.60" ry="2.60" fill="#6e6e6e" stroke="#303030" stroke-width="0.7" transform="rotate(0 231.20 563.20)" opacity="0.92"/>
<ellipse cx="260.30" cy="536.20" rx="3.00" ry="3.00" fill="#626262" stroke="#303030" stroke-width="0.7" transform="rotate(0 260.30 536.20)" opacity="0.92"/>
<ellipse cx="253.40" cy="543.20" rx="2.50" ry="2.50" fill="#6a6a6a" stroke="#303030" stroke-width="0.7" transform="rotate(0 253.40 543.20)" opacity="0.92"/>
<ellipse cx="261.70" cy="524.50" rx="2.50" ry="2.50" fill="#6a6a6a" stroke="#303030" stroke-width="0.7" transform="rotate(0 261.70 524.50)" opacity="0.92"/>
<ellipse cx="268.60" cy="525.20" rx="3.00" ry="3.00" fill="#666" stroke="#303030" stroke-width="0.7" transform="rotate(0 268.60 525.20)" opacity="0.92"/>
<ellipse cx="279.70" cy="525.90" rx="3.00" ry="3.00" fill="#666" stroke="#303030" stroke-width="0.7" transform="rotate(0 279.70 525.90)" opacity="0.92"/>
<ellipse cx="222.00" cy="560.00" rx="2.40" ry="2.40" fill="#777" stroke="#303030" stroke-width="0.7" transform="rotate(0 222.00 560.00)" opacity="0.92"/>
<rect x="217.70" y="515.00" width="68.50" height="50.80" filter="url(#noise1)" opacity="0.18"/>
</g>
<clipPath id="g8"><rect x="294.30" y="515.00" width="67.60" height="50.80"/></clipPath>
<g clip-path="url(#g8)">
<rect x="294.30" y="515.00" width="67.60" height="50.80" fill="#b2b2b2" stroke="none" stroke-width="0"/>
<rect x="294.30" y="515.00" width="67.60" height="50.80" filter="url(#noise1)" opacity="0.5"/>
<path d="M318.0,527.8Q320.4,530.2 320.8,530.4M334.2,547.2Q335.4,548.2 336.8,545.9M296.2,540.6Q298.3,539.7 301.3,543.2M296.4,554.2Q298.6,553.8 299.5,558.1M346.8,526.7Q345.0,528.0 345.9,530.3M328.2,557.2Q325.3,553.2 327.0,551.7M329.2,538.3Q325.1,539.3 325.8,539.1M363.1,546.4Q364.1,546.5 366.5,545.2M347.3,547.9Q348.3,550.5 348.4,550.3M322.4,531.9Q324.8,533.0 326.0,533.4M321.6,537.2Q321.6,537.6 319.6,534.2M343.8,540.7Q344.8,542.4 350.3,542.5M319.0,566.0Q317.4,566.7 315.9,567.6M296.2,519.0Q296.4,522.7 297.9,524.8M300.5,552.9Q301.9,550.3 300.9,549.9M356.1,522.2Q354.5,525.1 353.0,523.2M359.9,515.4Q362.7,515.8 364.7,514.4M307.3,546.1Q303.7,547.6 302.9,544.7M330.3,550.1Q331.0,554.6 332.2,554.9M304.4,545.0Q304.5,542.9 306.5,542.1M349.6,553.2Q346.0,554.0 345.6,556.2M347.9,559.8Q348.6,558.4 352.9,558.3M308.7,518.6Q311.0,516.3 308.9,511.6M297.8,538.6Q298.8,536.5 302.8,535.4M336.3,526.0Q334.9,525.9 333.0,528.8M298.4,563.5Q302.7,560.3 304.2,559.9M315.8,564.5Q317.8,567.4 322.5,566.1M348.4,517.6Q352.5,518.8 354.1,515.5M299.2,520.0Q296.8,519.8 295.5,517.7M293.1,539.4Q296.4,541.2 298.1,538.5M303.3,566.9Q300.9,569.5 301.9,570.3M306.8,563.4Q308.2,563.8 309.7,563.7M300.0,560.0Q302.7,557.6 302.5,555.6M309.8,538.4Q309.1,539.5 304.0,536.9M326.9,523.5Q325.6,519.7 326.8,519.1M316.5,517.8Q313.7,522.0 311.5,522.6M353.4,514.4Q349.0,515.9 349.5,514.1M353.9,554.2Q349.1,557.5 348.4,556.4M318.1,550.4Q320.5,546.9 320.1,548.3M358.8,541.8Q361.8,540.7 360.5,544.2M331.5,529.3Q328.0,529.7 327.9,530.4M334.8,545.8Q334.2,544.6 334.6,542.7M319.2,519.2Q316.6,519.7 312.7,519.2M324.0,522.3Q325.3,525.0 329.1,526.9M337.8,521.3Q339.1,521.7 339.6,518.7M352.7,514.8Q356.9,515.4 356.9,515.7M310.1,530.9Q308.5,529.4 307.6,532.9M306.1,530.5Q306.6,531.9 305.0,535.1M360.6,552.5Q362.1,554.7 364.7,552.5M321.6,534.7Q324.3,536.6 324.8,536.1M312.5,517.5Q312.4,517.2 316.9,519.7M346.1,550.8Q344.6,549.7 347.8,547.2M323.6,543.9Q323.9,545.3 319.5,547.5M316.7,536.6Q312.7,535.8 312.6,536.6M360.1,549.1Q361.1,550.6 358.4,551.2M360.4,537.7Q363.6,540.2 364.5,538.5M318.7,533.5Q318.3,536.2 319.3,536.1M333.7,517.4Q334.9,518.7 331.7,523.6M350.3,548.5Q354.2,548.3 356.7,547.6M342.2,527.8Q340.0,529.1 341.6,530.9M341.6,551.4Q343.4,554.6 341.2,554.9M318.1,523.1Q315.1,524.8 314.9,526.3M301.5,545.0Q302.2,545.7 302.9,541.9M310.8,543.0Q311.7,543.0 312.7,538.3M363.2,513.3Q366.9,512.0 369.2,513.8M360.7,526.0Q357.4,526.7 358.3,523.3M345.1,543.0Q346.6,543.9 347.4,544.8M317.1,560.7Q320.0,558.9 322.5,560.3M340.0,530.4Q337.4,534.0 335.0,533.9M321.5,517.4Q322.2,514.4 326.0,513.2M315.7,516.0Q318.1,519.1 316.4,521.6M349.4,533.2Q348.8,533.7 351.1,536.5M355.5,517.3Q356.2,518.3 355.0,520.2M300.7,557.2Q298.2,561.6 298.4,563.7M355.8,561.2Q355.8,561.2 358.5,564.5M321.2,557.3Q322.5,559.8 323.8,559.2M347.0,541.9Q350.6,542.3 353.3,539.9M295.7,534.5Q298.6,532.3 299.9,529.0M359.7,515.7Q359.9,512.2 360.4,513.1M310.2,521.6Q309.1,522.2 304.5,518.1M353.1,565.8Q354.6,568.5 357.0,571.0M303.9,538.1Q302.8,538.2 297.5,539.9M340.7,555.5Q340.8,554.8 345.6,551.9M300.2,562.1Q299.5,562.8 302.1,559.3M300.0,526.4Q296.8,522.7 298.7,523.2M303.4,540.4Q299.8,542.0 297.7,541.0M344.2,557.8Q344.8,556.0 347.1,554.3M316.1,515.2Q319.3,516.3 318.2,513.1M339.7,543.8Q335.5,543.7 336.2,544.0M358.1,557.4Q356.7,556.4 352.3,554.9M358.1,557.0Q359.6,558.8 360.5,556.0M318.7,546.4Q321.3,543.2 322.4,541.0M352.4,565.3Q350.9,568.1 353.8,570.9M347.4,535.7Q350.6,536.9 349.4,539.4M344.1,535.5Q344.9,530.5 343.8,529.9M351.7,533.3Q349.7,530.1 348.2,531.1M351.7,553.7Q350.7,551.6 351.9,550.1M315.0,531.4Q312.1,532.9 311.3,530.6M340.5,536.8Q342.0,540.3 345.9,540.3M353.9,537.9Q354.3,539.6 357.6,536.8M349.2,527.7Q347.3,528.7 348.3,532.7" fill="none" stroke="#333" stroke-width="0.6" opacity="0.6"/>
<path d="M294,515 L308,515 Q300,521 294,530 Z" fill="#dcdcdc" opacity="0.9"/>
<ellipse cx="321.80" cy="543.20" rx="6.00" ry="8.00" fill="#686868" stroke="#c4c4c4" stroke-width="1.0" transform="rotate(0 321.80 543.20)" opacity="0.92"/>
<ellipse cx="325.90" cy="527.20" rx="4.50" ry="6.00" fill="#6a6a6a" stroke="#303030" stroke-width="0.7" transform="rotate(0 325.90 527.20)" opacity="0.92"/>
<ellipse cx="332.90" cy="534.90" rx="4.50" ry="4.50" fill="#6e6e6e" stroke="#303030" stroke-width="0.7" transform="rotate(0 332.90 534.90)" opacity="0.92"/>
<ellipse cx="310.00" cy="548.70" rx="4.50" ry="6.00" fill="#727272" stroke="#c0c0c0" stroke-width="0.9" transform="rotate(0 310.00 548.70)" opacity="0.92"/>
<ellipse cx="340.50" cy="551.50" rx="5.00" ry="5.00" fill="#5e5e5e" stroke="#303030" stroke-width="0.7" transform="rotate(0 340.50 551.50)" opacity="0.92"/>
<ellipse cx="350.90" cy="554.20" rx="4.50" ry="4.50" fill="#646464" stroke="#303030" stroke-width="0.7" transform="rotate(0 350.90 554.20)" opacity="0.92"/>
<ellipse cx="341.90" cy="561.00" rx="4.50" ry="4.50" fill="#5e5e5e" stroke="#303030" stroke-width="0.7" transform="rotate(0 341.90 561.00)" opacity="0.92"/>
<ellipse cx="319.70" cy="565.00" rx="4.00" ry="4.00" fill="#6a6a6a" stroke="#303030" stroke-width="0.7" transform="rotate(0 319.70 565.00)" opacity="0.92"/>
<ellipse cx="339.80" cy="521.00" rx="4.00" ry="6.00" fill="#5a5a5a" stroke="#303030" stroke-width="0.7" transform="rotate(0 339.80 521.00)" opacity="0.92"/>
<ellipse cx="343.20" cy="539.70" rx="3.00" ry="3.00" fill="#b0b0b0" stroke="#333" stroke-width="0.9" transform="rotate(0 343.20 539.70)" opacity="0.92"/>
<ellipse cx="358.50" cy="527.20" rx="3.00" ry="3.00" fill="#555" stroke="#303030" stroke-width="0.7" transform="rotate(0 358.50 527.20)" opacity="0.92"/>
<rect x="358.5" y="540" width="3.5" height="26" fill="#555" opacity="0.6"/>
<path d="M318.27,535.31 L315.85,531.68 L317.60,532.80 L318.56,530.95 Z" fill="#0a0a0a"/><line x1="317.60" y1="532.80" x2="316.39" y2="528.28" stroke="#0a0a0a" stroke-width="0.6"/>
<path d="M331.35,561.80 L334.23,558.52 L333.60,560.50 L335.63,560.95 Z" fill="#0a0a0a"/><line x1="333.60" y1="560.50" x2="337.65" y2="558.16" stroke="#0a0a0a" stroke-width="0.6"/>
<rect x="294.30" y="515.00" width="67.60" height="50.80" filter="url(#noise2)" opacity="0.18"/>
</g>
<rect x="45.40" y="459.90" width="35.40" height="27.70" fill="none" stroke="#111" stroke-width="0.7"/>
<rect x="43.70" y="537.30" width="35.00" height="27.30" fill="none" stroke="#111" stroke-width="0.7"/>
<rect x="221.50" y="470.20" width="36.10" height="27.30" fill="none" stroke="#111" stroke-width="0.7"/>
<rect x="248.50" y="521.40" width="36.10" height="26.90" fill="none" stroke="#111" stroke-width="0.7"/>
<line x1="80.80" y1="459.90" x2="120.10" y2="459.90" stroke="#111" stroke-width="0.6"/>
<line x1="80.80" y1="487.60" x2="120.10" y2="511.00" stroke="#111" stroke-width="0.6"/>
<line x1="78.70" y1="537.30" x2="120.10" y2="513.70" stroke="#111" stroke-width="0.6"/>
<line x1="78.70" y1="564.60" x2="120.10" y2="564.80" stroke="#111" stroke-width="0.6"/>
<line x1="257.60" y1="470.20" x2="294.30" y2="459.70" stroke="#111" stroke-width="0.6"/>
<line x1="257.60" y1="497.50" x2="294.30" y2="510.40" stroke="#111" stroke-width="0.6"/>
<line x1="284.60" y1="521.40" x2="294.30" y2="515.00" stroke="#111" stroke-width="0.6"/>
<line x1="284.60" y1="548.30" x2="294.30" y2="565.80" stroke="#111" stroke-width="0.6"/>
<line x1="392.30" y1="473.50" x2="392.30" y2="547.40" stroke="#151515" stroke-width="1.1"/>
<line x1="389.80" y1="547.40" x2="392.30" y2="547.40" stroke="#151515" stroke-width="1.1"/>
<text x="0.00" y="0.00" font-size="5.5" text-anchor="end" font-weight="normal" fill="#151515" stroke="#151515" stroke-width="0.16" transform="translate(385.50,549.38) scale(1.15,1)">0</text>
<line x1="389.80" y1="532.90" x2="392.30" y2="532.90" stroke="#151515" stroke-width="1.1"/>
<text x="0.00" y="0.00" font-size="5.5" text-anchor="end" font-weight="normal" fill="#151515" stroke="#151515" stroke-width="0.16" transform="translate(385.50,534.88) scale(1.15,1)">1</text>
<line x1="389.80" y1="518.40" x2="392.30" y2="518.40" stroke="#151515" stroke-width="1.1"/>
<text x="0.00" y="0.00" font-size="5.5" text-anchor="end" font-weight="normal" fill="#151515" stroke="#151515" stroke-width="0.16" transform="translate(385.50,520.38) scale(1.15,1)">2</text>
<line x1="389.80" y1="503.90" x2="392.30" y2="503.90" stroke="#151515" stroke-width="1.1"/>
<text x="0.00" y="0.00" font-size="5.5" text-anchor="end" font-weight="normal" fill="#151515" stroke="#151515" stroke-width="0.16" transform="translate(385.50,505.88) scale(1.15,1)">3</text>
<line x1="389.80" y1="489.40" x2="392.30" y2="489.40" stroke="#151515" stroke-width="1.1"/>
<text x="0.00" y="0.00" font-size="5.5" text-anchor="end" font-weight="normal" fill="#151515" stroke="#151515" stroke-width="0.16" transform="translate(385.50,491.38) scale(1.15,1)">4</text>
<line x1="389.80" y1="474.90" x2="392.30" y2="474.90" stroke="#151515" stroke-width="1.1"/>
<text x="0.00" y="0.00" font-size="5.5" text-anchor="end" font-weight="normal" fill="#151515" stroke="#151515" stroke-width="0.16" transform="translate(385.50,476.88) scale(1.15,1)">5</text>
<line x1="392.30" y1="547.40" x2="463.00" y2="547.40" stroke="#151515" stroke-width="1.1"/>
<line x1="409.80" y1="547.40" x2="409.80" y2="549.40" stroke="#151515" stroke-width="1.1"/>
<line x1="448.70" y1="547.40" x2="448.70" y2="549.40" stroke="#151515" stroke-width="1.1"/>
<text transform="translate(377.50,510.50) rotate(-90)" font-size="8.6" font-weight="bold" text-anchor="middle" fill="#161616" stroke="#161616" stroke-width="0.1" textLength="65" lengthAdjust="spacingAndGlyphs">Mitochondria alterations</text>
<rect x="398.20" y="518.40" width="8.80" height="29.00" fill="#8e9dc5" stroke="none" stroke-width="0"/>
<line x1="402.60" y1="511.15" x2="402.60" y2="518.40" stroke="#1c3d74" stroke-width="0.6"/>
<line x1="401.00" y1="511.15" x2="404.20" y2="511.15" stroke="#1c3d74" stroke-width="0.6"/>
<circle cx="402.60" cy="511.15" r="1.30" fill="#1c3d74" stroke="none" stroke-width="0"/>
<circle cx="402.60" cy="513.32" r="1.30" fill="#1c3d74" stroke="none" stroke-width="0"/>
<circle cx="402.60" cy="515.50" r="1.30" fill="#1c3d74" stroke="none" stroke-width="0"/>
<circle cx="402.60" cy="517.67" r="1.30" fill="#1c3d74" stroke="none" stroke-width="0"/>
<circle cx="402.60" cy="519.12" r="1.30" fill="#1c3d74" stroke="none" stroke-width="0"/>
<rect x="412.60" y="514.77" width="8.80" height="32.62" fill="#eca291" stroke="none" stroke-width="0"/>
<line x1="417.00" y1="511.74" x2="417.00" y2="514.77" stroke="#c1272f" stroke-width="0.6"/>
<line x1="415.40" y1="511.74" x2="418.60" y2="511.74" stroke="#c1272f" stroke-width="0.6"/>
<path d="M417.00,508.93 L418.42,511.47 L415.58,511.47 Z" fill="#c1272f" stroke="none" stroke-width="0"/>
<path d="M414.40,512.55 L415.82,515.10 L412.98,515.10 Z" fill="#c1272f" stroke="none" stroke-width="0"/>
<path d="M419.60,512.55 L421.02,515.10 L418.18,515.10 Z" fill="#c1272f" stroke="none" stroke-width="0"/>
<path d="M414.40,516.18 L415.82,518.72 L412.98,518.72 Z" fill="#c1272f" stroke="none" stroke-width="0"/>
<path d="M419.60,516.18 L421.02,518.72 L418.18,518.72 Z" fill="#c1272f" stroke="none" stroke-width="0"/>
<rect x="437.10" y="495.20" width="8.80" height="52.20" fill="#8e9dc5" stroke="none" stroke-width="0"/>
<line x1="441.50" y1="486.76" x2="441.50" y2="495.20" stroke="#1c3d74" stroke-width="0.6"/>
<line x1="439.90" y1="486.76" x2="443.10" y2="486.76" stroke="#1c3d74" stroke-width="0.6"/>
<circle cx="441.50" cy="485.05" r="1.30" fill="#1c3d74" stroke="none" stroke-width="0"/>
<circle cx="441.50" cy="488.67" r="1.30" fill="#1c3d74" stroke="none" stroke-width="0"/>
<circle cx="441.50" cy="496.65" r="1.30" fill="#1c3d74" stroke="none" stroke-width="0"/>
<circle cx="441.50" cy="499.55" r="1.30" fill="#1c3d74" stroke="none" stroke-width="0"/>
<circle cx="441.50" cy="506.07" r="1.30" fill="#1c3d74" stroke="none" stroke-width="0"/>
<rect x="451.40" y="515.50" width="8.80" height="31.90" fill="#eca291" stroke="none" stroke-width="0"/>
<line x1="455.80" y1="510.37" x2="455.80" y2="515.50" stroke="#c1272f" stroke-width="0.6"/>
<line x1="454.20" y1="510.37" x2="457.40" y2="510.37" stroke="#c1272f" stroke-width="0.6"/>
<path d="M455.80,506.03 L457.22,508.57 L454.38,508.57 Z" fill="#c1272f" stroke="none" stroke-width="0"/>
<path d="M453.20,512.55 L454.62,515.10 L451.78,515.10 Z" fill="#c1272f" stroke="none" stroke-width="0"/>
<path d="M458.40,514.73 L459.82,517.27 L456.98,517.27 Z" fill="#c1272f" stroke="none" stroke-width="0"/>
<path d="M453.20,517.63 L454.62,520.17 L451.78,520.17 Z" fill="#c1272f" stroke="none" stroke-width="0"/>
<path d="M458.40,519.08 L459.82,521.62 L456.98,521.62 Z" fill="#c1272f" stroke="none" stroke-width="0"/>
<path d="M402.2,477.8 L402.2,473.9 L417.2,473.9 L417.2,477.8" fill="none" stroke="#333" stroke-width="0.6"/>
<text x="0.00" y="0.00" font-size="5.8" text-anchor="middle" font-weight="normal" fill="#333" stroke="#333" stroke-width="0.16" transform="translate(409.70,470.80) scale(1.12,1)">ns</text>
<path d="M440.6,477.8 L440.6,473.9 L455.4,473.9 L455.4,477.8" fill="none" stroke="#333" stroke-width="0.6"/>
<text x="448.00" y="473.26" font-size="6.2" text-anchor="middle" font-weight="normal" fill="#161616" stroke="#161616" stroke-width="0.16">***</text>
<circle cx="472.90" cy="481.00" r="1.30" fill="#1c3d74" stroke="none" stroke-width="0"/>
<text x="0.00" y="0.00" font-size="5.8" text-anchor="start" font-weight="normal" fill="#161616" stroke="#161616" stroke-width="0.16" transform="translate(477.50,483.20) scale(1.12,1)">shNC</text>
<path d="M472.90,490.40 L474.13,492.61 L471.66,492.61 Z" fill="#c1272f" stroke="none" stroke-width="0"/>
<text x="0.00" y="0.00" font-size="5.8" text-anchor="start" font-weight="normal" fill="#161616" stroke="#161616" stroke-width="0.16" transform="translate(477.50,493.90) scale(1.12,1)">shM</text>
<text x="0.00" y="0.00" font-size="5.8" text-anchor="middle" font-weight="normal" fill="#161616" stroke="#161616" stroke-width="0.16" transform="translate(409.80,560.30) scale(1.12,1)">DMSO</text>
<text x="0.00" y="0.00" font-size="5.8" text-anchor="middle" font-weight="normal" fill="#161616" stroke="#161616" stroke-width="0.16" transform="translate(448.70,560.30) scale(1.12,1)">RSL3</text>
<text x="7.20" y="587.50" font-size="11.0" text-anchor="start" font-weight="bold" fill="#111">H</text>
<circle cx="45.90" cy="580.50" r="1.55" fill="#2aa3de" stroke="none" stroke-width="0"/>
<text x="0.00" y="0.00" font-size="6.0" text-anchor="start" font-weight="normal" fill="#161616" stroke="#161616" stroke-width="0.16" transform="translate(49.90,582.70) scale(1.08,1)">Vehicle</text>
<circle cx="45.90" cy="590.60" r="1.55" fill="#8f86c6" stroke="none" stroke-width="0"/>
<text x="0.00" y="0.00" font-size="6.0" text-anchor="start" font-weight="normal" fill="#161616" stroke="#161616" stroke-width="0.16" transform="translate(49.90,592.80) scale(1.08,1)">AA</text>
<circle cx="45.90" cy="600.60" r="1.55" fill="#3a1d55" stroke="none" stroke-width="0"/>
<text x="0.00" y="0.00" font-size="6.0" text-anchor="start" font-weight="normal" fill="#161616" stroke="#161616" stroke-width="0.16" transform="translate(49.90,602.80) scale(1.08,1)">AdA</text>
<circle cx="45.90" cy="611.10" r="1.55" fill="#3aa44a" stroke="none" stroke-width="0"/>
<text x="0.00" y="0.00" font-size="6.0" text-anchor="start" font-weight="normal" fill="#161616" stroke="#161616" stroke-width="0.16" transform="translate(49.90,613.30) scale(1.08,1)">OA</text>
<circle cx="78.10" cy="585.10" r="1.55" fill="#1d3d74" stroke="none" stroke-width="0"/>
<text x="0.00" y="0.00" font-size="6.0" text-anchor="start" font-weight="normal" fill="#161616" stroke="#161616" stroke-width="0.16" transform="translate(82.30,587.30) scale(1.08,1)">AA+Fer-1</text>
<circle cx="78.10" cy="595.70" r="1.55" fill="#e17b2b" stroke="none" stroke-width="0"/>
<text x="0.00" y="0.00" font-size="6.0" text-anchor="start" font-weight="normal" fill="#161616" stroke="#161616" stroke-width="0.16" transform="translate(82.30,597.90) scale(1.08,1)">AdA+Fer-1</text>
<circle cx="78.10" cy="605.40" r="1.55" fill="#c41d3a" stroke="none" stroke-width="0"/>
<text x="0.00" y="0.00" font-size="6.0" text-anchor="start" font-weight="normal" fill="#161616" stroke="#161616" stroke-width="0.16" transform="translate(82.30,607.60) scale(1.08,1)">OA+Fer-1</text>
<line x1="120.40" y1="576.70" x2="120.40" y2="612.20" stroke="#222" stroke-width="0.8"/>
<text x="0.00" y="0.00" font-size="6.0" text-anchor="start" font-weight="normal" fill="#161616" stroke="#161616" stroke-width="0.16" transform="translate(123.60,596.40) scale(1.08,1)">+RSL3</text>
<line x1="37.50" y1="620.50" x2="37.50" y2="694.40" stroke="#151515" stroke-width="1.1"/>
<line x1="35.00" y1="694.40" x2="37.50" y2="694.40" stroke="#151515" stroke-width="1.1"/>
<text x="0.00" y="0.00" font-size="5.5" text-anchor="end" font-weight="normal" fill="#151515" stroke="#151515" stroke-width="0.16" transform="translate(30.70,696.38) scale(1.15,1)">0</text>
<line x1="35.00" y1="679.86" x2="37.50" y2="679.86" stroke="#151515" stroke-width="1.1"/>
<text x="0.00" y="0.00" font-size="5.5" text-anchor="end" font-weight="normal" fill="#151515" stroke="#151515" stroke-width="0.16" transform="translate(30.70,681.84) scale(1.15,1)">20</text>
<line x1="35.00" y1="665.32" x2="37.50" y2="665.32" stroke="#151515" stroke-width="1.1"/>
<text x="0.00" y="0.00" font-size="5.5" text-anchor="end" font-weight="normal" fill="#151515" stroke="#151515" stroke-width="0.16" transform="translate(30.70,667.30) scale(1.15,1)">40</text>
<line x1="35.00" y1="650.78" x2="37.50" y2="650.78" stroke="#151515" stroke-width="1.1"/>
<text x="0.00" y="0.00" font-size="5.5" text-anchor="end" font-weight="normal" fill="#151515" stroke="#151515" stroke-width="0.16" transform="translate(30.70,652.76) scale(1.15,1)">60</text>
<line x1="35.00" y1="636.24" x2="37.50" y2="636.24" stroke="#151515" stroke-width="1.1"/>
<text x="0.00" y="0.00" font-size="5.5" text-anchor="end" font-weight="normal" fill="#151515" stroke="#151515" stroke-width="0.16" transform="translate(30.70,638.22) scale(1.15,1)">80</text>
<line x1="35.00" y1="621.70" x2="37.50" y2="621.70" stroke="#151515" stroke-width="1.1"/>
<text x="0.00" y="0.00" font-size="5.5" text-anchor="end" font-weight="normal" fill="#151515" stroke="#151515" stroke-width="0.16" transform="translate(30.70,623.68) scale(1.15,1)">100</text>
<line x1="37.50" y1="694.40" x2="150.00" y2="694.40" stroke="#151515" stroke-width="1.1"/>
<line x1="65.50" y1="694.40" x2="65.50" y2="696.40" stroke="#151515" stroke-width="1.1"/>
<line x1="123.10" y1="694.40" x2="123.10" y2="696.40" stroke="#151515" stroke-width="1.1"/>
<text transform="translate(14.80,656.40) rotate(-90)" font-size="8.6" font-weight="bold" text-anchor="middle" fill="#161616" stroke="#161616" stroke-width="0.1" textLength="72.4" lengthAdjust="spacingAndGlyphs">Cell viability (% of control)</text>
<rect x="40.40" y="659.26" width="5.00" height="35.14" fill="#a9d4f1" stroke="none" stroke-width="0"/>
<line x1="42.90" y1="658.15" x2="42.90" y2="659.26" stroke="#2aa3de" stroke-width="0.5"/>
<line x1="42.00" y1="658.15" x2="43.80" y2="658.15" stroke="#2aa3de" stroke-width="0.5"/>
<circle cx="42.00" cy="658.05" r="1.40" fill="#2aa3de" stroke="none" stroke-width="0"/>
<circle cx="42.90" cy="659.50" r="1.40" fill="#2aa3de" stroke="none" stroke-width="0"/>
<circle cx="43.80" cy="660.23" r="1.40" fill="#2aa3de" stroke="none" stroke-width="0"/>
<rect x="47.95" y="671.38" width="5.00" height="23.02" fill="#cbc3e3" stroke="none" stroke-width="0"/>
<line x1="50.45" y1="667.94" x2="50.45" y2="671.38" stroke="#8f86c6" stroke-width="0.5"/>
<line x1="49.55" y1="667.94" x2="51.35" y2="667.94" stroke="#8f86c6" stroke-width="0.5"/>
<circle cx="49.55" cy="667.50" r="1.40" fill="#8f86c6" stroke="none" stroke-width="0"/>
<circle cx="50.45" cy="672.59" r="1.40" fill="#8f86c6" stroke="none" stroke-width="0"/>
<circle cx="51.35" cy="674.04" r="1.40" fill="#8f86c6" stroke="none" stroke-width="0"/>
<rect x="55.50" y="675.26" width="5.00" height="19.14" fill="#9c86b5" stroke="none" stroke-width="0"/>
<line x1="58.00" y1="672.32" x2="58.00" y2="675.26" stroke="#3a1d55" stroke-width="0.5"/>
<line x1="57.10" y1="672.32" x2="58.90" y2="672.32" stroke="#3a1d55" stroke-width="0.5"/>
<circle cx="57.10" cy="672.59" r="1.40" fill="#3a1d55" stroke="none" stroke-width="0"/>
<circle cx="58.00" cy="674.77" r="1.40" fill="#3a1d55" stroke="none" stroke-width="0"/>
<circle cx="58.90" cy="678.41" r="1.40" fill="#3a1d55" stroke="none" stroke-width="0"/>
<rect x="63.05" y="658.29" width="5.00" height="36.11" fill="#97d08e" stroke="none" stroke-width="0"/>
<line x1="65.55" y1="656.46" x2="65.55" y2="658.29" stroke="#3aa44a" stroke-width="0.5"/>
<line x1="64.65" y1="656.46" x2="66.45" y2="656.46" stroke="#3aa44a" stroke-width="0.5"/>
<circle cx="64.65" cy="656.60" r="1.40" fill="#3aa44a" stroke="none" stroke-width="0"/>
<circle cx="65.55" cy="658.05" r="1.40" fill="#3aa44a" stroke="none" stroke-width="0"/>
<circle cx="66.45" cy="660.23" r="1.40" fill="#3aa44a" stroke="none" stroke-width="0"/>
<rect x="70.60" y="647.63" width="5.00" height="46.77" fill="#7f97c9" stroke="none" stroke-width="0"/>
<line x1="73.10" y1="644.35" x2="73.10" y2="647.63" stroke="#1d3d74" stroke-width="0.5"/>
<line x1="72.20" y1="644.35" x2="74.00" y2="644.35" stroke="#1d3d74" stroke-width="0.5"/>
<circle cx="72.20" cy="644.24" r="1.40" fill="#1d3d74" stroke="none" stroke-width="0"/>
<circle cx="73.10" cy="647.87" r="1.40" fill="#1d3d74" stroke="none" stroke-width="0"/>
<circle cx="74.00" cy="650.78" r="1.40" fill="#1d3d74" stroke="none" stroke-width="0"/>
<rect x="78.15" y="648.11" width="5.00" height="46.29" fill="#f2ba8d" stroke="none" stroke-width="0"/>
<line x1="80.65" y1="645.56" x2="80.65" y2="648.11" stroke="#e17b2b" stroke-width="0.5"/>
<line x1="79.75" y1="645.56" x2="81.55" y2="645.56" stroke="#e17b2b" stroke-width="0.5"/>
<circle cx="79.75" cy="645.69" r="1.40" fill="#e17b2b" stroke="none" stroke-width="0"/>
<circle cx="80.65" cy="647.87" r="1.40" fill="#e17b2b" stroke="none" stroke-width="0"/>
<circle cx="81.55" cy="650.78" r="1.40" fill="#e17b2b" stroke="none" stroke-width="0"/>
<rect x="85.70" y="638.18" width="5.00" height="56.22" fill="#ed8b7d" stroke="none" stroke-width="0"/>
<line x1="88.20" y1="637.07" x2="88.20" y2="638.18" stroke="#c41d3a" stroke-width="0.5"/>
<line x1="87.30" y1="637.07" x2="89.10" y2="637.07" stroke="#c41d3a" stroke-width="0.5"/>
<circle cx="87.30" cy="636.97" r="1.40" fill="#c41d3a" stroke="none" stroke-width="0"/>
<circle cx="88.20" cy="638.42" r="1.40" fill="#c41d3a" stroke="none" stroke-width="0"/>
<circle cx="89.10" cy="639.15" r="1.40" fill="#c41d3a" stroke="none" stroke-width="0"/>
<rect x="97.90" y="635.51" width="5.00" height="58.89" fill="#a9d4f1" stroke="none" stroke-width="0"/>
<line x1="100.40" y1="634.79" x2="100.40" y2="635.51" stroke="#2aa3de" stroke-width="0.5"/>
<line x1="99.50" y1="634.79" x2="101.30" y2="634.79" stroke="#2aa3de" stroke-width="0.5"/>
<circle cx="99.50" cy="634.79" r="1.40" fill="#2aa3de" stroke="none" stroke-width="0"/>
<circle cx="100.40" cy="635.51" r="1.40" fill="#2aa3de" stroke="none" stroke-width="0"/>
<circle cx="101.30" cy="636.24" r="1.40" fill="#2aa3de" stroke="none" stroke-width="0"/>
<rect x="105.45" y="655.87" width="5.00" height="38.53" fill="#cbc3e3" stroke="none" stroke-width="0"/>
<line x1="107.95" y1="654.41" x2="107.95" y2="655.87" stroke="#8f86c6" stroke-width="0.5"/>
<line x1="107.05" y1="654.41" x2="108.85" y2="654.41" stroke="#8f86c6" stroke-width="0.5"/>
<circle cx="107.05" cy="654.41" r="1.40" fill="#8f86c6" stroke="none" stroke-width="0"/>
<circle cx="107.95" cy="655.87" r="1.40" fill="#8f86c6" stroke="none" stroke-width="0"/>
<circle cx="108.85" cy="657.32" r="1.40" fill="#8f86c6" stroke="none" stroke-width="0"/>
<rect x="113.00" y="661.44" width="5.00" height="32.96" fill="#9c86b5" stroke="none" stroke-width="0"/>
<line x1="115.50" y1="659.61" x2="115.50" y2="661.44" stroke="#3a1d55" stroke-width="0.5"/>
<line x1="114.60" y1="659.61" x2="116.40" y2="659.61" stroke="#3a1d55" stroke-width="0.5"/>
<circle cx="114.60" cy="659.50" r="1.40" fill="#3a1d55" stroke="none" stroke-width="0"/>
<circle cx="115.50" cy="661.68" r="1.40" fill="#3a1d55" stroke="none" stroke-width="0"/>
<circle cx="116.40" cy="663.14" r="1.40" fill="#3a1d55" stroke="none" stroke-width="0"/>
<rect x="120.55" y="636.24" width="5.00" height="58.16" fill="#97d08e" stroke="none" stroke-width="0"/>
<line x1="123.05" y1="635.51" x2="123.05" y2="636.24" stroke="#3aa44a" stroke-width="0.5"/>
<line x1="122.15" y1="635.51" x2="123.95" y2="635.51" stroke="#3aa44a" stroke-width="0.5"/>
<circle cx="122.15" cy="635.51" r="1.40" fill="#3aa44a" stroke="none" stroke-width="0"/>
<circle cx="123.05" cy="636.24" r="1.40" fill="#3aa44a" stroke="none" stroke-width="0"/>
<circle cx="123.95" cy="636.97" r="1.40" fill="#3aa44a" stroke="none" stroke-width="0"/>
<rect x="128.10" y="635.51" width="5.00" height="58.89" fill="#7f97c9" stroke="none" stroke-width="0"/>
<line x1="130.60" y1="633.33" x2="130.60" y2="635.51" stroke="#1d3d74" stroke-width="0.5"/>
<line x1="129.70" y1="633.33" x2="131.50" y2="633.33" stroke="#1d3d74" stroke-width="0.5"/>
<circle cx="129.70" cy="633.33" r="1.40" fill="#1d3d74" stroke="none" stroke-width="0"/>
<circle cx="130.60" cy="635.51" r="1.40" fill="#1d3d74" stroke="none" stroke-width="0"/>
<circle cx="131.50" cy="637.69" r="1.40" fill="#1d3d74" stroke="none" stroke-width="0"/>
<rect x="135.65" y="635.27" width="5.00" height="59.13" fill="#f2ba8d" stroke="none" stroke-width="0"/>
<line x1="138.15" y1="631.54" x2="138.15" y2="635.27" stroke="#e17b2b" stroke-width="0.5"/>
<line x1="137.25" y1="631.54" x2="139.05" y2="631.54" stroke="#e17b2b" stroke-width="0.5"/>
<circle cx="137.25" cy="631.15" r="1.40" fill="#e17b2b" stroke="none" stroke-width="0"/>
<circle cx="138.15" cy="636.24" r="1.40" fill="#e17b2b" stroke="none" stroke-width="0"/>
<circle cx="139.05" cy="638.42" r="1.40" fill="#e17b2b" stroke="none" stroke-width="0"/>
<rect x="143.20" y="629.45" width="5.00" height="64.95" fill="#ed8b7d" stroke="none" stroke-width="0"/>
<line x1="145.70" y1="627.63" x2="145.70" y2="629.45" stroke="#c41d3a" stroke-width="0.5"/>
<line x1="144.80" y1="627.63" x2="146.60" y2="627.63" stroke="#c41d3a" stroke-width="0.5"/>
<circle cx="144.80" cy="627.52" r="1.40" fill="#c41d3a" stroke="none" stroke-width="0"/>
<circle cx="145.70" cy="629.70" r="1.40" fill="#c41d3a" stroke="none" stroke-width="0"/>
<circle cx="146.60" cy="631.15" r="1.40" fill="#c41d3a" stroke="none" stroke-width="0"/>
<text x="108.20" y="652.66" font-size="6.2" text-anchor="middle" font-weight="normal" fill="#161616" stroke="#161616" stroke-width="0.16">***</text>
<text x="115.40" y="658.36" font-size="6.2" text-anchor="middle" font-weight="normal" fill="#161616" stroke="#161616" stroke-width="0.16">***</text>
<text x="0.00" y="0.00" font-size="5.8" text-anchor="middle" font-weight="normal" fill="#444" stroke="#444" stroke-width="0.16" transform="translate(123.30,632.20) scale(1.12,1)">ns</text>
<text x="0.00" y="0.00" font-size="5.8" text-anchor="middle" font-weight="normal" fill="#161616" stroke="#161616" stroke-width="0.16" transform="translate(65.50,706.00) scale(1.1,1)">shNC</text>
<text x="0.00" y="0.00" font-size="5.8" text-anchor="middle" font-weight="normal" fill="#161616" stroke="#161616" stroke-width="0.16" transform="translate(123.10,706.00) scale(1.1,1)">shMMSET</text>
<text x="0.00" y="0.00" font-size="8.6" text-anchor="middle" font-weight="bold" fill="#161616" stroke="#161616" stroke-width="0.1" transform="translate(95.20,719.00) scale(0.68,1)">NCI-H929</text>
<circle cx="196.20" cy="580.50" r="1.55" fill="#2aa3de" stroke="none" stroke-width="0"/>
<text x="0.00" y="0.00" font-size="6.0" text-anchor="start" font-weight="normal" fill="#161616" stroke="#161616" stroke-width="0.16" transform="translate(200.20,582.70) scale(1.08,1)">Vehicle</text>
<circle cx="196.20" cy="590.60" r="1.55" fill="#8f86c6" stroke="none" stroke-width="0"/>
<text x="0.00" y="0.00" font-size="6.0" text-anchor="start" font-weight="normal" fill="#161616" stroke="#161616" stroke-width="0.16" transform="translate(200.20,592.80) scale(1.08,1)">AA</text>
<circle cx="196.20" cy="600.60" r="1.55" fill="#3a1d55" stroke="none" stroke-width="0"/>
<text x="0.00" y="0.00" font-size="6.0" text-anchor="start" font-weight="normal" fill="#161616" stroke="#161616" stroke-width="0.16" transform="translate(200.20,602.80) scale(1.08,1)">AdA</text>
<circle cx="196.20" cy="611.10" r="1.55" fill="#3aa44a" stroke="none" stroke-width="0"/>
<text x="0.00" y="0.00" font-size="6.0" text-anchor="start" font-weight="normal" fill="#161616" stroke="#161616" stroke-width="0.16" transform="translate(200.20,613.30) scale(1.08,1)">OA</text>
<circle cx="228.40" cy="585.10" r="1.55" fill="#1d3d74" stroke="none" stroke-width="0"/>
<text x="0.00" y="0.00" font-size="6.0" text-anchor="start" font-weight="normal" fill="#161616" stroke="#161616" stroke-width="0.16" transform="translate(232.60,587.30) scale(1.08,1)">AA+Fer-1</text>
<circle cx="228.40" cy="595.70" r="1.55" fill="#e17b2b" stroke="none" stroke-width="0"/>
<text x="0.00" y="0.00" font-size="6.0" text-anchor="start" font-weight="normal" fill="#161616" stroke="#161616" stroke-width="0.16" transform="translate(232.60,597.90) scale(1.08,1)">AdA+Fer-1</text>
<circle cx="228.40" cy="605.40" r="1.55" fill="#c41d3a" stroke="none" stroke-width="0"/>
<text x="0.00" y="0.00" font-size="6.0" text-anchor="start" font-weight="normal" fill="#161616" stroke="#161616" stroke-width="0.16" transform="translate(232.60,607.60) scale(1.08,1)">OA+Fer-1</text>
<line x1="270.70" y1="576.70" x2="270.70" y2="612.20" stroke="#222" stroke-width="0.8"/>
<text x="0.00" y="0.00" font-size="6.0" text-anchor="start" font-weight="normal" fill="#161616" stroke="#161616" stroke-width="0.16" transform="translate(273.90,596.40) scale(1.08,1)">+RSL3</text>
<line x1="187.80" y1="620.50" x2="187.80" y2="694.40" stroke="#151515" stroke-width="1.1"/>
<line x1="185.30" y1="694.40" x2="187.80" y2="694.40" stroke="#151515" stroke-width="1.1"/>
<text x="0.00" y="0.00" font-size="5.5" text-anchor="end" font-weight="normal" fill="#151515" stroke="#151515" stroke-width="0.16" transform="translate(181.00,696.38) scale(1.15,1)">0</text>
<line x1="185.30" y1="679.86" x2="187.80" y2="679.86" stroke="#151515" stroke-width="1.1"/>
<text x="0.00" y="0.00" font-size="5.5" text-anchor="end" font-weight="normal" fill="#151515" stroke="#151515" stroke-width="0.16" transform="translate(181.00,681.84) scale(1.15,1)">20</text>
<line x1="185.30" y1="665.32" x2="187.80" y2="665.32" stroke="#151515" stroke-width="1.1"/>
<text x="0.00" y="0.00" font-size="5.5" text-anchor="end" font-weight="normal" fill="#151515" stroke="#151515" stroke-width="0.16" transform="translate(181.00,667.30) scale(1.15,1)">40</text>
<line x1="185.30" y1="650.78" x2="187.80" y2="650.78" stroke="#151515" stroke-width="1.1"/>
<text x="0.00" y="0.00" font-size="5.5" text-anchor="end" font-weight="normal" fill="#151515" stroke="#151515" stroke-width="0.16" transform="translate(181.00,652.76) scale(1.15,1)">60</text>
<line x1="185.30" y1="636.24" x2="187.80" y2="636.24" stroke="#151515" stroke-width="1.1"/>
<text x="0.00" y="0.00" font-size="5.5" text-anchor="end" font-weight="normal" fill="#151515" stroke="#151515" stroke-width="0.16" transform="translate(181.00,638.22) scale(1.15,1)">80</text>
<line x1="185.30" y1="621.70" x2="187.80" y2="621.70" stroke="#151515" stroke-width="1.1"/>
<text x="0.00" y="0.00" font-size="5.5" text-anchor="end" font-weight="normal" fill="#151515" stroke="#151515" stroke-width="0.16" transform="translate(181.00,623.68) scale(1.15,1)">100</text>
<line x1="187.80" y1="694.40" x2="300.30" y2="694.40" stroke="#151515" stroke-width="1.1"/>
<line x1="215.80" y1="694.40" x2="215.80" y2="696.40" stroke="#151515" stroke-width="1.1"/>
<line x1="273.40" y1="694.40" x2="273.40" y2="696.40" stroke="#151515" stroke-width="1.1"/>
<text transform="translate(165.10,656.40) rotate(-90)" font-size="8.6" font-weight="bold" text-anchor="middle" fill="#161616" stroke="#161616" stroke-width="0.1" textLength="72.4" lengthAdjust="spacingAndGlyphs">Cell viability (% of control)</text>
<rect x="190.70" y="661.20" width="5.00" height="33.20" fill="#a9d4f1" stroke="none" stroke-width="0"/>
<line x1="193.20" y1="659.69" x2="193.20" y2="661.20" stroke="#2aa3de" stroke-width="0.5"/>
<line x1="192.30" y1="659.69" x2="194.10" y2="659.69" stroke="#2aa3de" stroke-width="0.5"/>
<circle cx="192.30" cy="659.50" r="1.40" fill="#2aa3de" stroke="none" stroke-width="0"/>
<circle cx="193.20" cy="661.68" r="1.40" fill="#2aa3de" stroke="none" stroke-width="0"/>
<circle cx="194.10" cy="662.41" r="1.40" fill="#2aa3de" stroke="none" stroke-width="0"/>
<rect x="198.25" y="675.26" width="5.00" height="19.14" fill="#cbc3e3" stroke="none" stroke-width="0"/>
<line x1="200.75" y1="672.92" x2="200.75" y2="675.26" stroke="#8f86c6" stroke-width="0.5"/>
<line x1="199.85" y1="672.92" x2="201.65" y2="672.92" stroke="#8f86c6" stroke-width="0.5"/>
<circle cx="199.85" cy="672.59" r="1.40" fill="#8f86c6" stroke="none" stroke-width="0"/>
<circle cx="200.75" cy="676.23" r="1.40" fill="#8f86c6" stroke="none" stroke-width="0"/>
<circle cx="201.65" cy="676.95" r="1.40" fill="#8f86c6" stroke="none" stroke-width="0"/>
<rect x="205.80" y="677.68" width="5.00" height="16.72" fill="#9c86b5" stroke="none" stroke-width="0"/>
<line x1="208.30" y1="674.35" x2="208.30" y2="677.68" stroke="#3a1d55" stroke-width="0.5"/>
<line x1="207.40" y1="674.35" x2="209.20" y2="674.35" stroke="#3a1d55" stroke-width="0.5"/>
<circle cx="207.40" cy="674.04" r="1.40" fill="#3a1d55" stroke="none" stroke-width="0"/>
<circle cx="208.30" cy="678.41" r="1.40" fill="#3a1d55" stroke="none" stroke-width="0"/>
<circle cx="209.20" cy="680.59" r="1.40" fill="#3a1d55" stroke="none" stroke-width="0"/>
<rect x="213.35" y="659.50" width="5.00" height="34.90" fill="#97d08e" stroke="none" stroke-width="0"/>
<line x1="215.85" y1="658.05" x2="215.85" y2="659.50" stroke="#3aa44a" stroke-width="0.5"/>
<line x1="214.95" y1="658.05" x2="216.75" y2="658.05" stroke="#3aa44a" stroke-width="0.5"/>
<circle cx="214.95" cy="658.05" r="1.40" fill="#3aa44a" stroke="none" stroke-width="0"/>
<circle cx="215.85" cy="659.50" r="1.40" fill="#3aa44a" stroke="none" stroke-width="0"/>
<circle cx="216.75" cy="660.96" r="1.40" fill="#3aa44a" stroke="none" stroke-width="0"/>
<rect x="220.90" y="646.42" width="5.00" height="47.98" fill="#7f97c9" stroke="none" stroke-width="0"/>
<line x1="223.40" y1="645.69" x2="223.40" y2="646.42" stroke="#1d3d74" stroke-width="0.5"/>
<line x1="222.50" y1="645.69" x2="224.30" y2="645.69" stroke="#1d3d74" stroke-width="0.5"/>
<circle cx="222.50" cy="645.69" r="1.40" fill="#1d3d74" stroke="none" stroke-width="0"/>
<circle cx="223.40" cy="646.42" r="1.40" fill="#1d3d74" stroke="none" stroke-width="0"/>
<circle cx="224.30" cy="647.14" r="1.40" fill="#1d3d74" stroke="none" stroke-width="0"/>
<rect x="228.45" y="647.87" width="5.00" height="46.53" fill="#f2ba8d" stroke="none" stroke-width="0"/>
<line x1="230.95" y1="646.42" x2="230.95" y2="647.87" stroke="#e17b2b" stroke-width="0.5"/>
<line x1="230.05" y1="646.42" x2="231.85" y2="646.42" stroke="#e17b2b" stroke-width="0.5"/>
<circle cx="230.05" cy="646.42" r="1.40" fill="#e17b2b" stroke="none" stroke-width="0"/>
<circle cx="230.95" cy="647.87" r="1.40" fill="#e17b2b" stroke="none" stroke-width="0"/>
<circle cx="231.85" cy="649.33" r="1.40" fill="#e17b2b" stroke="none" stroke-width="0"/>
<rect x="236.00" y="640.36" width="5.00" height="54.04" fill="#ed8b7d" stroke="none" stroke-width="0"/>
<line x1="238.50" y1="638.53" x2="238.50" y2="640.36" stroke="#c41d3a" stroke-width="0.5"/>
<line x1="237.60" y1="638.53" x2="239.40" y2="638.53" stroke="#c41d3a" stroke-width="0.5"/>
<circle cx="237.60" cy="638.42" r="1.40" fill="#c41d3a" stroke="none" stroke-width="0"/>
<circle cx="238.50" cy="640.60" r="1.40" fill="#c41d3a" stroke="none" stroke-width="0"/>
<circle cx="239.40" cy="642.06" r="1.40" fill="#c41d3a" stroke="none" stroke-width="0"/>
<rect x="248.20" y="636.72" width="5.00" height="57.68" fill="#a9d4f1" stroke="none" stroke-width="0"/>
<line x1="250.70" y1="635.61" x2="250.70" y2="636.72" stroke="#2aa3de" stroke-width="0.5"/>
<line x1="249.80" y1="635.61" x2="251.60" y2="635.61" stroke="#2aa3de" stroke-width="0.5"/>
<circle cx="249.80" cy="635.51" r="1.40" fill="#2aa3de" stroke="none" stroke-width="0"/>
<circle cx="250.70" cy="636.97" r="1.40" fill="#2aa3de" stroke="none" stroke-width="0"/>
<circle cx="251.60" cy="637.69" r="1.40" fill="#2aa3de" stroke="none" stroke-width="0"/>
<rect x="255.75" y="656.60" width="5.00" height="37.80" fill="#cbc3e3" stroke="none" stroke-width="0"/>
<line x1="258.25" y1="652.75" x2="258.25" y2="656.60" stroke="#8f86c6" stroke-width="0.5"/>
<line x1="257.35" y1="652.75" x2="259.15" y2="652.75" stroke="#8f86c6" stroke-width="0.5"/>
<circle cx="257.35" cy="652.23" r="1.40" fill="#8f86c6" stroke="none" stroke-width="0"/>
<circle cx="258.25" cy="658.05" r="1.40" fill="#8f86c6" stroke="none" stroke-width="0"/>
<circle cx="259.15" cy="659.50" r="1.40" fill="#8f86c6" stroke="none" stroke-width="0"/>
<rect x="263.30" y="663.38" width="5.00" height="31.02" fill="#9c86b5" stroke="none" stroke-width="0"/>
<line x1="265.80" y1="661.87" x2="265.80" y2="663.38" stroke="#3a1d55" stroke-width="0.5"/>
<line x1="264.90" y1="661.87" x2="266.70" y2="661.87" stroke="#3a1d55" stroke-width="0.5"/>
<circle cx="264.90" cy="661.68" r="1.40" fill="#3a1d55" stroke="none" stroke-width="0"/>
<circle cx="265.80" cy="663.87" r="1.40" fill="#3a1d55" stroke="none" stroke-width="0"/>
<circle cx="266.70" cy="664.59" r="1.40" fill="#3a1d55" stroke="none" stroke-width="0"/>
<rect x="270.85" y="636.97" width="5.00" height="57.43" fill="#97d08e" stroke="none" stroke-width="0"/>
<line x1="273.35" y1="636.24" x2="273.35" y2="636.97" stroke="#3aa44a" stroke-width="0.5"/>
<line x1="272.45" y1="636.24" x2="274.25" y2="636.24" stroke="#3aa44a" stroke-width="0.5"/>
<circle cx="272.45" cy="636.24" r="1.40" fill="#3aa44a" stroke="none" stroke-width="0"/>
<circle cx="273.35" cy="636.97" r="1.40" fill="#3aa44a" stroke="none" stroke-width="0"/>
<circle cx="274.25" cy="637.69" r="1.40" fill="#3aa44a" stroke="none" stroke-width="0"/>
<rect x="278.40" y="636.24" width="5.00" height="58.16" fill="#7f97c9" stroke="none" stroke-width="0"/>
<line x1="280.90" y1="635.51" x2="280.90" y2="636.24" stroke="#1d3d74" stroke-width="0.5"/>
<line x1="280.00" y1="635.51" x2="281.80" y2="635.51" stroke="#1d3d74" stroke-width="0.5"/>
<circle cx="280.00" cy="635.51" r="1.40" fill="#1d3d74" stroke="none" stroke-width="0"/>
<circle cx="280.90" cy="636.24" r="1.40" fill="#1d3d74" stroke="none" stroke-width="0"/>
<circle cx="281.80" cy="636.97" r="1.40" fill="#1d3d74" stroke="none" stroke-width="0"/>
<rect x="285.95" y="636.24" width="5.00" height="58.16" fill="#f2ba8d" stroke="none" stroke-width="0"/>
<line x1="288.45" y1="633.62" x2="288.45" y2="636.24" stroke="#e17b2b" stroke-width="0.5"/>
<line x1="287.55" y1="633.62" x2="289.35" y2="633.62" stroke="#e17b2b" stroke-width="0.5"/>
<circle cx="287.55" cy="633.33" r="1.40" fill="#e17b2b" stroke="none" stroke-width="0"/>
<circle cx="288.45" cy="636.97" r="1.40" fill="#e17b2b" stroke="none" stroke-width="0"/>
<circle cx="289.35" cy="638.42" r="1.40" fill="#e17b2b" stroke="none" stroke-width="0"/>
<rect x="293.50" y="632.12" width="5.00" height="62.28" fill="#ed8b7d" stroke="none" stroke-width="0"/>
<line x1="296.00" y1="629.90" x2="296.00" y2="632.12" stroke="#c41d3a" stroke-width="0.5"/>
<line x1="295.10" y1="629.90" x2="296.90" y2="629.90" stroke="#c41d3a" stroke-width="0.5"/>
<circle cx="295.10" cy="629.70" r="1.40" fill="#c41d3a" stroke="none" stroke-width="0"/>
<circle cx="296.00" cy="632.61" r="1.40" fill="#c41d3a" stroke="none" stroke-width="0"/>
<circle cx="296.90" cy="634.06" r="1.40" fill="#c41d3a" stroke="none" stroke-width="0"/>
<text x="258.50" y="651.36" font-size="6.2" text-anchor="middle" font-weight="normal" fill="#161616" stroke="#161616" stroke-width="0.16">***</text>
<text x="265.70" y="660.66" font-size="6.2" text-anchor="middle" font-weight="normal" fill="#161616" stroke="#161616" stroke-width="0.16">***</text>
<text x="0.00" y="0.00" font-size="5.8" text-anchor="middle" font-weight="normal" fill="#444" stroke="#444" stroke-width="0.16" transform="translate(273.60,631.80) scale(1.12,1)">ns</text>
<text x="0.00" y="0.00" font-size="5.8" text-anchor="middle" font-weight="normal" fill="#161616" stroke="#161616" stroke-width="0.16" transform="translate(215.80,706.00) scale(1.1,1)">shNC</text>
<text x="0.00" y="0.00" font-size="5.8" text-anchor="middle" font-weight="normal" fill="#161616" stroke="#161616" stroke-width="0.16" transform="translate(273.40,706.00) scale(1.1,1)">shMMSET</text>
<text x="0.00" y="0.00" font-size="8.6" text-anchor="middle" font-weight="bold" fill="#161616" stroke="#161616" stroke-width="0.1" transform="translate(245.50,719.00) scale(0.68,1)">OPM-2</text>
<text x="310.00" y="586.50" font-size="11.0" text-anchor="start" font-weight="bold" fill="#111">I</text>
<line x1="347.20" y1="581.00" x2="355.80" y2="581.00" stroke="#2aa3de" stroke-width="0.9"/>
<circle cx="351.50" cy="581.00" r="1.10" fill="#2aa3de" stroke="none" stroke-width="0"/>
<text x="0.00" y="0.00" font-size="6.0" text-anchor="start" font-weight="normal" fill="#161616" stroke="#161616" stroke-width="0.16" transform="translate(358.50,583.20) scale(1.08,1)">Vehicle</text>
<line x1="347.20" y1="591.50" x2="355.80" y2="591.50" stroke="#8f86c6" stroke-width="0.9"/>
<circle cx="351.50" cy="591.50" r="1.10" fill="#8f86c6" stroke="none" stroke-width="0"/>
<text x="0.00" y="0.00" font-size="6.0" text-anchor="start" font-weight="normal" fill="#161616" stroke="#161616" stroke-width="0.16" transform="translate(358.50,593.70) scale(1.08,1)">AA</text>
<line x1="347.20" y1="601.60" x2="355.80" y2="601.60" stroke="#3a1d55" stroke-width="0.9"/>
<circle cx="351.50" cy="601.60" r="1.10" fill="#3a1d55" stroke="none" stroke-width="0"/>
<text x="0.00" y="0.00" font-size="6.0" text-anchor="start" font-weight="normal" fill="#161616" stroke="#161616" stroke-width="0.16" transform="translate(358.50,603.80) scale(1.08,1)">AdA</text>
<line x1="347.20" y1="611.50" x2="355.80" y2="611.50" stroke="#3aa44a" stroke-width="0.9"/>
<circle cx="351.50" cy="611.50" r="1.10" fill="#3aa44a" stroke="none" stroke-width="0"/>
<text x="0.00" y="0.00" font-size="6.0" text-anchor="start" font-weight="normal" fill="#161616" stroke="#161616" stroke-width="0.16" transform="translate(358.50,613.70) scale(1.08,1)">OA</text>
<line x1="384.60" y1="586.60" x2="393.20" y2="586.60" stroke="#1d3d74" stroke-width="0.9"/>
<circle cx="388.90" cy="586.60" r="1.10" fill="#1d3d74" stroke="none" stroke-width="0"/>
<text x="0.00" y="0.00" font-size="6.0" text-anchor="start" font-weight="normal" fill="#161616" stroke="#161616" stroke-width="0.16" transform="translate(396.20,588.80) scale(1.08,1)">AA+Fer-1</text>
<line x1="384.60" y1="597.20" x2="393.20" y2="597.20" stroke="#e17b2b" stroke-width="0.9"/>
<circle cx="388.90" cy="597.20" r="1.10" fill="#e17b2b" stroke="none" stroke-width="0"/>
<text x="0.00" y="0.00" font-size="6.0" text-anchor="start" font-weight="normal" fill="#161616" stroke="#161616" stroke-width="0.16" transform="translate(396.20,599.40) scale(1.08,1)">AdA+Fer-1</text>
<line x1="384.60" y1="607.00" x2="393.20" y2="607.00" stroke="#c41d3a" stroke-width="0.9"/>
<circle cx="388.90" cy="607.00" r="1.10" fill="#c41d3a" stroke="none" stroke-width="0"/>
<text x="0.00" y="0.00" font-size="6.0" text-anchor="start" font-weight="normal" fill="#161616" stroke="#161616" stroke-width="0.16" transform="translate(396.20,609.20) scale(1.08,1)">OA+Fer-1</text>
<line x1="430.70" y1="580.40" x2="430.70" y2="616.20" stroke="#222" stroke-width="0.8"/>
<text x="0.00" y="0.00" font-size="6.0" text-anchor="start" font-weight="normal" fill="#161616" stroke="#161616" stroke-width="0.16" transform="translate(434.20,600.60) scale(1.08,1)">+RSL3</text>
<line x1="341.30" y1="620.00" x2="341.30" y2="694.30" stroke="#151515" stroke-width="1.1"/>
<line x1="338.80" y1="694.30" x2="341.30" y2="694.30" stroke="#151515" stroke-width="1.1"/>
<text x="0.00" y="0.00" font-size="5.5" text-anchor="end" font-weight="normal" fill="#151515" stroke="#151515" stroke-width="0.16" transform="translate(334.50,696.28) scale(1.15,1)">0</text>
<line x1="338.80" y1="670.06" x2="341.30" y2="670.06" stroke="#151515" stroke-width="1.1"/>
<text x="0.00" y="0.00" font-size="5.5" text-anchor="end" font-weight="normal" fill="#151515" stroke="#151515" stroke-width="0.16" transform="translate(334.50,672.04) scale(1.15,1)">40</text>
<line x1="338.80" y1="645.82" x2="341.30" y2="645.82" stroke="#151515" stroke-width="1.1"/>
<text x="0.00" y="0.00" font-size="5.5" text-anchor="end" font-weight="normal" fill="#151515" stroke="#151515" stroke-width="0.16" transform="translate(334.50,647.80) scale(1.15,1)">80</text>
<line x1="338.80" y1="621.58" x2="341.30" y2="621.58" stroke="#151515" stroke-width="1.1"/>
<text x="0.00" y="0.00" font-size="5.5" text-anchor="end" font-weight="normal" fill="#151515" stroke="#151515" stroke-width="0.16" transform="translate(334.50,623.56) scale(1.15,1)">120</text>
<line x1="341.30" y1="694.30" x2="460.50" y2="694.30" stroke="#151515" stroke-width="1.1"/>
<line x1="351.10" y1="694.30" x2="351.10" y2="696.30" stroke="#151515" stroke-width="1.1"/>
<line x1="370.90" y1="694.30" x2="370.90" y2="696.30" stroke="#151515" stroke-width="1.1"/>
<line x1="390.70" y1="694.30" x2="390.70" y2="696.30" stroke="#151515" stroke-width="1.1"/>
<line x1="410.50" y1="694.30" x2="410.50" y2="696.30" stroke="#151515" stroke-width="1.1"/>
<line x1="430.30" y1="694.30" x2="430.30" y2="696.30" stroke="#151515" stroke-width="1.1"/>
<line x1="450.10" y1="694.30" x2="450.10" y2="696.30" stroke="#151515" stroke-width="1.1"/>
<text x="0.00" y="0.00" font-size="5.8" text-anchor="middle" font-weight="normal" fill="#161616" stroke="#161616" stroke-width="0.16" transform="translate(351.10,706.40) scale(1.12,1)">0</text>
<text x="0.00" y="0.00" font-size="5.8" text-anchor="middle" font-weight="normal" fill="#161616" stroke="#161616" stroke-width="0.16" transform="translate(370.90,706.40) scale(1.12,1)">0.05</text>
<text x="0.00" y="0.00" font-size="5.8" text-anchor="middle" font-weight="normal" fill="#161616" stroke="#161616" stroke-width="0.16" transform="translate(390.70,706.40) scale(1.12,1)">0.1</text>
<text x="0.00" y="0.00" font-size="5.8" text-anchor="middle" font-weight="normal" fill="#161616" stroke="#161616" stroke-width="0.16" transform="translate(410.50,706.40) scale(1.12,1)">0.2</text>
<text x="0.00" y="0.00" font-size="5.8" text-anchor="middle" font-weight="normal" fill="#161616" stroke="#161616" stroke-width="0.16" transform="translate(430.30,706.40) scale(1.12,1)">0.5</text>
<text x="0.00" y="0.00" font-size="5.8" text-anchor="middle" font-weight="normal" fill="#161616" stroke="#161616" stroke-width="0.16" transform="translate(450.10,706.40) scale(1.12,1)">1</text>
<text x="0.00" y="0.00" font-size="8.6" text-anchor="middle" font-weight="bold" fill="#161616" stroke="#161616" stroke-width="0.1" transform="translate(400.80,718.80) scale(0.68,1)">U-266</text>
<text transform="translate(318.80,656.50) rotate(-90)" font-size="8.6" font-weight="bold" text-anchor="middle" fill="#161616" stroke="#161616" stroke-width="0.1" textLength="72.7" lengthAdjust="spacingAndGlyphs">Cell viability (% of control)</text>
<polyline points="351.10,635.52 370.90,636.73 390.70,639.15 410.50,639.15 430.30,641.58 450.10,643.40" fill="none" stroke="#2aa3de" stroke-width="0.9"/>
<line x1="351.10" y1="633.70" x2="351.10" y2="637.34" stroke="#2aa3de" stroke-width="0.6"/>
<line x1="349.90" y1="633.70" x2="352.30" y2="633.70" stroke="#2aa3de" stroke-width="0.6"/>
<line x1="349.90" y1="637.34" x2="352.30" y2="637.34" stroke="#2aa3de" stroke-width="0.6"/>
<circle cx="351.10" cy="635.52" r="1.10" fill="#2aa3de" stroke="none" stroke-width="0"/>
<line x1="370.90" y1="634.91" x2="370.90" y2="638.55" stroke="#2aa3de" stroke-width="0.6"/>
<line x1="369.70" y1="634.91" x2="372.10" y2="634.91" stroke="#2aa3de" stroke-width="0.6"/>
<line x1="369.70" y1="638.55" x2="372.10" y2="638.55" stroke="#2aa3de" stroke-width="0.6"/>
<circle cx="370.90" cy="636.73" r="1.10" fill="#2aa3de" stroke="none" stroke-width="0"/>
<line x1="390.70" y1="637.94" x2="390.70" y2="640.37" stroke="#2aa3de" stroke-width="0.6"/>
<line x1="389.50" y1="637.94" x2="391.90" y2="637.94" stroke="#2aa3de" stroke-width="0.6"/>
<line x1="389.50" y1="640.37" x2="391.90" y2="640.37" stroke="#2aa3de" stroke-width="0.6"/>
<circle cx="390.70" cy="639.15" r="1.10" fill="#2aa3de" stroke="none" stroke-width="0"/>
<line x1="410.50" y1="637.94" x2="410.50" y2="640.37" stroke="#2aa3de" stroke-width="0.6"/>
<line x1="409.30" y1="637.94" x2="411.70" y2="637.94" stroke="#2aa3de" stroke-width="0.6"/>
<line x1="409.30" y1="640.37" x2="411.70" y2="640.37" stroke="#2aa3de" stroke-width="0.6"/>
<circle cx="410.50" cy="639.15" r="1.10" fill="#2aa3de" stroke="none" stroke-width="0"/>
<line x1="430.30" y1="640.37" x2="430.30" y2="642.79" stroke="#2aa3de" stroke-width="0.6"/>
<line x1="429.10" y1="640.37" x2="431.50" y2="640.37" stroke="#2aa3de" stroke-width="0.6"/>
<line x1="429.10" y1="642.79" x2="431.50" y2="642.79" stroke="#2aa3de" stroke-width="0.6"/>
<circle cx="430.30" cy="641.58" r="1.10" fill="#2aa3de" stroke="none" stroke-width="0"/>
<line x1="450.10" y1="642.18" x2="450.10" y2="644.61" stroke="#2aa3de" stroke-width="0.6"/>
<line x1="448.90" y1="642.18" x2="451.30" y2="642.18" stroke="#2aa3de" stroke-width="0.6"/>
<line x1="448.90" y1="644.61" x2="451.30" y2="644.61" stroke="#2aa3de" stroke-width="0.6"/>
<circle cx="450.10" cy="643.40" r="1.10" fill="#2aa3de" stroke="none" stroke-width="0"/>
<polyline points="351.10,633.70 370.90,634.31 390.70,634.91 410.50,635.52 430.30,636.73 450.10,637.94" fill="none" stroke="#3aa44a" stroke-width="0.9"/>
<line x1="351.10" y1="632.49" x2="351.10" y2="634.91" stroke="#3aa44a" stroke-width="0.6"/>
<line x1="349.90" y1="632.49" x2="352.30" y2="632.49" stroke="#3aa44a" stroke-width="0.6"/>
<line x1="349.90" y1="634.91" x2="352.30" y2="634.91" stroke="#3aa44a" stroke-width="0.6"/>
<circle cx="351.10" cy="633.70" r="1.10" fill="#3aa44a" stroke="none" stroke-width="0"/>
<line x1="370.90" y1="633.09" x2="370.90" y2="635.52" stroke="#3aa44a" stroke-width="0.6"/>
<line x1="369.70" y1="633.09" x2="372.10" y2="633.09" stroke="#3aa44a" stroke-width="0.6"/>
<line x1="369.70" y1="635.52" x2="372.10" y2="635.52" stroke="#3aa44a" stroke-width="0.6"/>
<circle cx="370.90" cy="634.31" r="1.10" fill="#3aa44a" stroke="none" stroke-width="0"/>
<line x1="390.70" y1="633.70" x2="390.70" y2="636.12" stroke="#3aa44a" stroke-width="0.6"/>
<line x1="389.50" y1="633.70" x2="391.90" y2="633.70" stroke="#3aa44a" stroke-width="0.6"/>
<line x1="389.50" y1="636.12" x2="391.90" y2="636.12" stroke="#3aa44a" stroke-width="0.6"/>
<circle cx="390.70" cy="634.91" r="1.10" fill="#3aa44a" stroke="none" stroke-width="0"/>
<line x1="410.50" y1="633.70" x2="410.50" y2="637.34" stroke="#3aa44a" stroke-width="0.6"/>
<line x1="409.30" y1="633.70" x2="411.70" y2="633.70" stroke="#3aa44a" stroke-width="0.6"/>
<line x1="409.30" y1="637.34" x2="411.70" y2="637.34" stroke="#3aa44a" stroke-width="0.6"/>
<circle cx="410.50" cy="635.52" r="1.10" fill="#3aa44a" stroke="none" stroke-width="0"/>
<line x1="430.30" y1="634.31" x2="430.30" y2="639.15" stroke="#3aa44a" stroke-width="0.6"/>
<line x1="429.10" y1="634.31" x2="431.50" y2="634.31" stroke="#3aa44a" stroke-width="0.6"/>
<line x1="429.10" y1="639.15" x2="431.50" y2="639.15" stroke="#3aa44a" stroke-width="0.6"/>
<circle cx="430.30" cy="636.73" r="1.10" fill="#3aa44a" stroke="none" stroke-width="0"/>
<line x1="450.10" y1="636.12" x2="450.10" y2="639.76" stroke="#3aa44a" stroke-width="0.6"/>
<line x1="448.90" y1="636.12" x2="451.30" y2="636.12" stroke="#3aa44a" stroke-width="0.6"/>
<line x1="448.90" y1="639.76" x2="451.30" y2="639.76" stroke="#3aa44a" stroke-width="0.6"/>
<circle cx="450.10" cy="637.94" r="1.10" fill="#3aa44a" stroke="none" stroke-width="0"/>
<polyline points="351.10,633.70 370.90,632.49 390.70,634.31 410.50,635.52 430.30,637.34 450.10,638.55" fill="none" stroke="#c41d3a" stroke-width="0.9"/>
<line x1="351.10" y1="632.49" x2="351.10" y2="634.91" stroke="#c41d3a" stroke-width="0.6"/>
<line x1="349.90" y1="632.49" x2="352.30" y2="632.49" stroke="#c41d3a" stroke-width="0.6"/>
<line x1="349.90" y1="634.91" x2="352.30" y2="634.91" stroke="#c41d3a" stroke-width="0.6"/>
<circle cx="351.10" cy="633.70" r="1.10" fill="#c41d3a" stroke="none" stroke-width="0"/>
<line x1="370.90" y1="631.28" x2="370.90" y2="633.70" stroke="#c41d3a" stroke-width="0.6"/>
<line x1="369.70" y1="631.28" x2="372.10" y2="631.28" stroke="#c41d3a" stroke-width="0.6"/>
<line x1="369.70" y1="633.70" x2="372.10" y2="633.70" stroke="#c41d3a" stroke-width="0.6"/>
<circle cx="370.90" cy="632.49" r="1.10" fill="#c41d3a" stroke="none" stroke-width="0"/>
<line x1="390.70" y1="633.09" x2="390.70" y2="635.52" stroke="#c41d3a" stroke-width="0.6"/>
<line x1="389.50" y1="633.09" x2="391.90" y2="633.09" stroke="#c41d3a" stroke-width="0.6"/>
<line x1="389.50" y1="635.52" x2="391.90" y2="635.52" stroke="#c41d3a" stroke-width="0.6"/>
<circle cx="390.70" cy="634.31" r="1.10" fill="#c41d3a" stroke="none" stroke-width="0"/>
<line x1="410.50" y1="634.31" x2="410.50" y2="636.73" stroke="#c41d3a" stroke-width="0.6"/>
<line x1="409.30" y1="634.31" x2="411.70" y2="634.31" stroke="#c41d3a" stroke-width="0.6"/>
<line x1="409.30" y1="636.73" x2="411.70" y2="636.73" stroke="#c41d3a" stroke-width="0.6"/>
<circle cx="410.50" cy="635.52" r="1.10" fill="#c41d3a" stroke="none" stroke-width="0"/>
<line x1="430.30" y1="636.12" x2="430.30" y2="638.55" stroke="#c41d3a" stroke-width="0.6"/>
<line x1="429.10" y1="636.12" x2="431.50" y2="636.12" stroke="#c41d3a" stroke-width="0.6"/>
<line x1="429.10" y1="638.55" x2="431.50" y2="638.55" stroke="#c41d3a" stroke-width="0.6"/>
<circle cx="430.30" cy="637.34" r="1.10" fill="#c41d3a" stroke="none" stroke-width="0"/>
<line x1="450.10" y1="637.34" x2="450.10" y2="639.76" stroke="#c41d3a" stroke-width="0.6"/>
<line x1="448.90" y1="637.34" x2="451.30" y2="637.34" stroke="#c41d3a" stroke-width="0.6"/>
<line x1="448.90" y1="639.76" x2="451.30" y2="639.76" stroke="#c41d3a" stroke-width="0.6"/>
<circle cx="450.10" cy="638.55" r="1.10" fill="#c41d3a" stroke="none" stroke-width="0"/>
<polyline points="351.10,633.70 370.90,633.70 390.70,634.91 410.50,636.12 430.30,637.94 450.10,638.55" fill="none" stroke="#e17b2b" stroke-width="0.9"/>
<line x1="351.10" y1="632.49" x2="351.10" y2="634.91" stroke="#e17b2b" stroke-width="0.6"/>
<line x1="349.90" y1="632.49" x2="352.30" y2="632.49" stroke="#e17b2b" stroke-width="0.6"/>
<line x1="349.90" y1="634.91" x2="352.30" y2="634.91" stroke="#e17b2b" stroke-width="0.6"/>
<circle cx="351.10" cy="633.70" r="1.10" fill="#e17b2b" stroke="none" stroke-width="0"/>
<line x1="370.90" y1="632.49" x2="370.90" y2="634.91" stroke="#e17b2b" stroke-width="0.6"/>
<line x1="369.70" y1="632.49" x2="372.10" y2="632.49" stroke="#e17b2b" stroke-width="0.6"/>
<line x1="369.70" y1="634.91" x2="372.10" y2="634.91" stroke="#e17b2b" stroke-width="0.6"/>
<circle cx="370.90" cy="633.70" r="1.10" fill="#e17b2b" stroke="none" stroke-width="0"/>
<line x1="390.70" y1="633.70" x2="390.70" y2="636.12" stroke="#e17b2b" stroke-width="0.6"/>
<line x1="389.50" y1="633.70" x2="391.90" y2="633.70" stroke="#e17b2b" stroke-width="0.6"/>
<line x1="389.50" y1="636.12" x2="391.90" y2="636.12" stroke="#e17b2b" stroke-width="0.6"/>
<circle cx="390.70" cy="634.91" r="1.10" fill="#e17b2b" stroke="none" stroke-width="0"/>
<line x1="410.50" y1="634.91" x2="410.50" y2="637.34" stroke="#e17b2b" stroke-width="0.6"/>
<line x1="409.30" y1="634.91" x2="411.70" y2="634.91" stroke="#e17b2b" stroke-width="0.6"/>
<line x1="409.30" y1="637.34" x2="411.70" y2="637.34" stroke="#e17b2b" stroke-width="0.6"/>
<circle cx="410.50" cy="636.12" r="1.10" fill="#e17b2b" stroke="none" stroke-width="0"/>
<line x1="430.30" y1="636.73" x2="430.30" y2="639.15" stroke="#e17b2b" stroke-width="0.6"/>
<line x1="429.10" y1="636.73" x2="431.50" y2="636.73" stroke="#e17b2b" stroke-width="0.6"/>
<line x1="429.10" y1="639.15" x2="431.50" y2="639.15" stroke="#e17b2b" stroke-width="0.6"/>
<circle cx="430.30" cy="637.94" r="1.10" fill="#e17b2b" stroke="none" stroke-width="0"/>
<line x1="450.10" y1="637.34" x2="450.10" y2="639.76" stroke="#e17b2b" stroke-width="0.6"/>
<line x1="448.90" y1="637.34" x2="451.30" y2="637.34" stroke="#e17b2b" stroke-width="0.6"/>
<line x1="448.90" y1="639.76" x2="451.30" y2="639.76" stroke="#e17b2b" stroke-width="0.6"/>
<circle cx="450.10" cy="638.55" r="1.10" fill="#e17b2b" stroke="none" stroke-width="0"/>
<polyline points="351.10,633.09 370.90,633.70 390.70,634.91 410.50,633.70 430.30,635.52 450.10,636.73" fill="none" stroke="#1d3d74" stroke-width="0.9"/>
<line x1="351.10" y1="631.88" x2="351.10" y2="634.31" stroke="#1d3d74" stroke-width="0.6"/>
<line x1="349.90" y1="631.88" x2="352.30" y2="631.88" stroke="#1d3d74" stroke-width="0.6"/>
<line x1="349.90" y1="634.31" x2="352.30" y2="634.31" stroke="#1d3d74" stroke-width="0.6"/>
<circle cx="351.10" cy="633.09" r="1.10" fill="#1d3d74" stroke="none" stroke-width="0"/>
<line x1="370.90" y1="632.49" x2="370.90" y2="634.91" stroke="#1d3d74" stroke-width="0.6"/>
<line x1="369.70" y1="632.49" x2="372.10" y2="632.49" stroke="#1d3d74" stroke-width="0.6"/>
<line x1="369.70" y1="634.91" x2="372.10" y2="634.91" stroke="#1d3d74" stroke-width="0.6"/>
<circle cx="370.90" cy="633.70" r="1.10" fill="#1d3d74" stroke="none" stroke-width="0"/>
<line x1="390.70" y1="633.09" x2="390.70" y2="636.73" stroke="#1d3d74" stroke-width="0.6"/>
<line x1="389.50" y1="633.09" x2="391.90" y2="633.09" stroke="#1d3d74" stroke-width="0.6"/>
<line x1="389.50" y1="636.73" x2="391.90" y2="636.73" stroke="#1d3d74" stroke-width="0.6"/>
<circle cx="390.70" cy="634.91" r="1.10" fill="#1d3d74" stroke="none" stroke-width="0"/>
<line x1="410.50" y1="630.67" x2="410.50" y2="636.73" stroke="#1d3d74" stroke-width="0.6"/>
<line x1="409.30" y1="630.67" x2="411.70" y2="630.67" stroke="#1d3d74" stroke-width="0.6"/>
<line x1="409.30" y1="636.73" x2="411.70" y2="636.73" stroke="#1d3d74" stroke-width="0.6"/>
<circle cx="410.50" cy="633.70" r="1.10" fill="#1d3d74" stroke="none" stroke-width="0"/>
<line x1="430.30" y1="633.09" x2="430.30" y2="637.94" stroke="#1d3d74" stroke-width="0.6"/>
<line x1="429.10" y1="633.09" x2="431.50" y2="633.09" stroke="#1d3d74" stroke-width="0.6"/>
<line x1="429.10" y1="637.94" x2="431.50" y2="637.94" stroke="#1d3d74" stroke-width="0.6"/>
<circle cx="430.30" cy="635.52" r="1.10" fill="#1d3d74" stroke="none" stroke-width="0"/>
<line x1="450.10" y1="634.31" x2="450.10" y2="639.15" stroke="#1d3d74" stroke-width="0.6"/>
<line x1="448.90" y1="634.31" x2="451.30" y2="634.31" stroke="#1d3d74" stroke-width="0.6"/>
<line x1="448.90" y1="639.15" x2="451.30" y2="639.15" stroke="#1d3d74" stroke-width="0.6"/>
<circle cx="450.10" cy="636.73" r="1.10" fill="#1d3d74" stroke="none" stroke-width="0"/>
<polyline points="351.10,633.70 370.90,633.70 390.70,646.43 410.50,661.58 430.30,677.33 450.10,683.39" fill="none" stroke="#3a1d55" stroke-width="1.0"/>
<line x1="351.10" y1="632.49" x2="351.10" y2="634.91" stroke="#3a1d55" stroke-width="0.6"/>
<line x1="349.90" y1="632.49" x2="352.30" y2="632.49" stroke="#3a1d55" stroke-width="0.6"/>
<line x1="349.90" y1="634.91" x2="352.30" y2="634.91" stroke="#3a1d55" stroke-width="0.6"/>
<circle cx="351.10" cy="633.70" r="1.10" fill="#3a1d55" stroke="none" stroke-width="0"/>
<line x1="370.90" y1="631.88" x2="370.90" y2="635.52" stroke="#3a1d55" stroke-width="0.6"/>
<line x1="369.70" y1="631.88" x2="372.10" y2="631.88" stroke="#3a1d55" stroke-width="0.6"/>
<line x1="369.70" y1="635.52" x2="372.10" y2="635.52" stroke="#3a1d55" stroke-width="0.6"/>
<circle cx="370.90" cy="633.70" r="1.10" fill="#3a1d55" stroke="none" stroke-width="0"/>
<line x1="390.70" y1="644.00" x2="390.70" y2="648.85" stroke="#3a1d55" stroke-width="0.6"/>
<line x1="389.50" y1="644.00" x2="391.90" y2="644.00" stroke="#3a1d55" stroke-width="0.6"/>
<line x1="389.50" y1="648.85" x2="391.90" y2="648.85" stroke="#3a1d55" stroke-width="0.6"/>
<circle cx="390.70" cy="646.43" r="1.10" fill="#3a1d55" stroke="none" stroke-width="0"/>
<line x1="410.50" y1="655.52" x2="410.50" y2="667.64" stroke="#3a1d55" stroke-width="0.6"/>
<line x1="409.30" y1="655.52" x2="411.70" y2="655.52" stroke="#3a1d55" stroke-width="0.6"/>
<line x1="409.30" y1="667.64" x2="411.70" y2="667.64" stroke="#3a1d55" stroke-width="0.6"/>
<circle cx="410.50" cy="661.58" r="1.10" fill="#3a1d55" stroke="none" stroke-width="0"/>
<line x1="430.30" y1="672.48" x2="430.30" y2="682.18" stroke="#3a1d55" stroke-width="0.6"/>
<line x1="429.10" y1="672.48" x2="431.50" y2="672.48" stroke="#3a1d55" stroke-width="0.6"/>
<line x1="429.10" y1="682.18" x2="431.50" y2="682.18" stroke="#3a1d55" stroke-width="0.6"/>
<circle cx="430.30" cy="677.33" r="1.10" fill="#3a1d55" stroke="none" stroke-width="0"/>
<line x1="450.10" y1="680.97" x2="450.10" y2="685.82" stroke="#3a1d55" stroke-width="0.6"/>
<line x1="448.90" y1="680.97" x2="451.30" y2="680.97" stroke="#3a1d55" stroke-width="0.6"/>
<line x1="448.90" y1="685.82" x2="451.30" y2="685.82" stroke="#3a1d55" stroke-width="0.6"/>
<circle cx="450.10" cy="683.39" r="1.10" fill="#3a1d55" stroke="none" stroke-width="0"/>
<polyline points="351.10,633.70 370.90,640.37 390.70,651.88 410.50,660.97 430.30,677.33 450.10,683.39" fill="none" stroke="#8f86c6" stroke-width="1.3"/>
<line x1="351.10" y1="631.88" x2="351.10" y2="635.52" stroke="#8f86c6" stroke-width="0.6"/>
<line x1="349.90" y1="631.88" x2="352.30" y2="631.88" stroke="#8f86c6" stroke-width="0.6"/>
<line x1="349.90" y1="635.52" x2="352.30" y2="635.52" stroke="#8f86c6" stroke-width="0.6"/>
<circle cx="351.10" cy="633.70" r="1.10" fill="#8f86c6" stroke="none" stroke-width="0"/>
<line x1="370.90" y1="633.70" x2="370.90" y2="647.03" stroke="#8f86c6" stroke-width="0.6"/>
<line x1="369.70" y1="633.70" x2="372.10" y2="633.70" stroke="#8f86c6" stroke-width="0.6"/>
<line x1="369.70" y1="647.03" x2="372.10" y2="647.03" stroke="#8f86c6" stroke-width="0.6"/>
<circle cx="370.90" cy="640.37" r="1.10" fill="#8f86c6" stroke="none" stroke-width="0"/>
<line x1="390.70" y1="645.82" x2="390.70" y2="657.94" stroke="#8f86c6" stroke-width="0.6"/>
<line x1="389.50" y1="645.82" x2="391.90" y2="645.82" stroke="#8f86c6" stroke-width="0.6"/>
<line x1="389.50" y1="657.94" x2="391.90" y2="657.94" stroke="#8f86c6" stroke-width="0.6"/>
<circle cx="390.70" cy="651.88" r="1.10" fill="#8f86c6" stroke="none" stroke-width="0"/>
<line x1="410.50" y1="651.88" x2="410.50" y2="670.06" stroke="#8f86c6" stroke-width="0.6"/>
<line x1="409.30" y1="651.88" x2="411.70" y2="651.88" stroke="#8f86c6" stroke-width="0.6"/>
<line x1="409.30" y1="670.06" x2="411.70" y2="670.06" stroke="#8f86c6" stroke-width="0.6"/>
<circle cx="410.50" cy="660.97" r="1.10" fill="#8f86c6" stroke="none" stroke-width="0"/>
<line x1="430.30" y1="671.27" x2="430.30" y2="683.39" stroke="#8f86c6" stroke-width="0.6"/>
<line x1="429.10" y1="671.27" x2="431.50" y2="671.27" stroke="#8f86c6" stroke-width="0.6"/>
<line x1="429.10" y1="683.39" x2="431.50" y2="683.39" stroke="#8f86c6" stroke-width="0.6"/>
<circle cx="430.30" cy="677.33" r="1.10" fill="#8f86c6" stroke="none" stroke-width="0"/>
<line x1="450.10" y1="680.36" x2="450.10" y2="686.42" stroke="#8f86c6" stroke-width="0.6"/>
<line x1="448.90" y1="680.36" x2="451.30" y2="680.36" stroke="#8f86c6" stroke-width="0.6"/>
<line x1="448.90" y1="686.42" x2="451.30" y2="686.42" stroke="#8f86c6" stroke-width="0.6"/>
<circle cx="450.10" cy="683.39" r="1.10" fill="#8f86c6" stroke="none" stroke-width="0"/>
<text x="430.30" y="670.86" font-size="6.2" text-anchor="middle" font-weight="normal" fill="#161616" stroke="#161616" stroke-width="0.16">**</text>
<text x="450.10" y="680.26" font-size="6.2" text-anchor="middle" font-weight="normal" fill="#161616" stroke="#161616" stroke-width="0.16">***</text><line x1="0" y1="0.5" x2="520" y2="0.5" stroke="#474747" stroke-width="1"/><line x1="0.5" y1="0" x2="0.5" y2="728" stroke="#474747" stroke-width="1"/><line x1="519.5" y1="0" x2="519.5" y2="728" stroke="#3a3a3a" stroke-width="1"/><line x1="0" y1="727.25" x2="520" y2="727.25" stroke="#3a3a3a" stroke-width="1.5"/></svg></body></html>
